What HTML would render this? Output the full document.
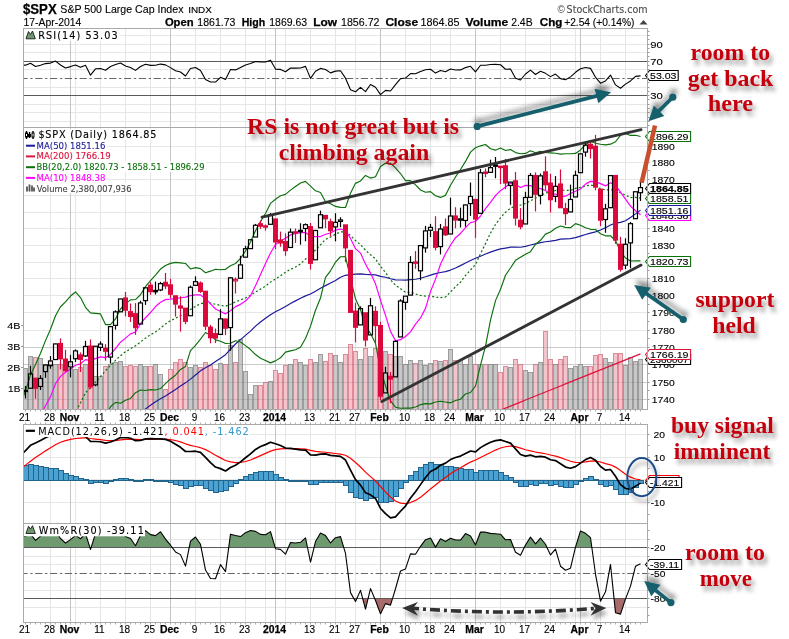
<!DOCTYPE html>
<html><head><meta charset="utf-8"><title>$SPX chart</title>
<style>html,body{margin:0;padding:0;background:#fff;width:789px;height:639px;overflow:hidden}</style>
</head><body>
<svg width="789" height="639" viewBox="0 0 789 639" style="display:block;will-change:transform">
<defs>
<filter id="tsh" x="-10%" y="-30%" width="130%" height="180%"><feGaussianBlur in="SourceAlpha" stdDeviation="2.2"/><feOffset dx="3" dy="4.5" result="b"/><feFlood flood-color="#000" flood-opacity="0.36"/><feComposite in2="b" operator="in"/><feMerge><feMergeNode/><feMergeNode in="SourceGraphic"/></feMerge></filter>
<filter id="ash" x="-30%" y="-60%" width="160%" height="220%"><feGaussianBlur in="SourceAlpha" stdDeviation="2.8"/><feOffset dx="1" dy="-5.5" result="b"/><feFlood flood-color="#000" flood-opacity="0.42"/><feComposite in2="b" operator="in"/><feMerge><feMergeNode/><feMergeNode in="SourceGraphic"/></feMerge></filter>
<filter id="dsh" x="-10%" y="-100%" width="120%" height="300%"><feGaussianBlur in="SourceAlpha" stdDeviation="2"/><feOffset dx="2" dy="5" result="b"/><feFlood flood-color="#000" flood-opacity="0.35"/><feComposite in2="b" operator="in"/><feMerge><feMergeNode/><feMergeNode in="SourceGraphic"/></feMerge></filter>
<clipPath id="cpR"><rect x="24" y="29" width="623" height="98"/></clipPath>
<clipPath id="cpM"><rect x="24" y="128" width="623" height="281"/></clipPath>
<clipPath id="cpD"><rect x="24" y="425" width="623" height="98"/></clipPath>
<clipPath id="cpW"><rect x="24" y="524" width="623" height="98"/></clipPath>
</defs>
<rect width="789" height="639" fill="#fff"/>
<text x="23" y="13.7" font-family="'Liberation Sans',Arial,sans-serif" font-size="14" font-weight="bold" fill="#000" stroke="#000" stroke-width="0.25" textLength="33.7" lengthAdjust="spacingAndGlyphs">$SPX</text>
<text x="60.3" y="12.5" font-family="'Liberation Sans',Arial,sans-serif" font-size="11.2" fill="#000" stroke="#000" stroke-width="0.12" textLength="123.2" lengthAdjust="spacingAndGlyphs">S&amp;P 500 Large Cap Index</text>
<text x="188.2" y="12.5" font-family="'Liberation Sans',Arial,sans-serif" font-size="8.4" fill="#000" stroke="#000" stroke-width="0.12" textLength="23.7" lengthAdjust="spacingAndGlyphs">INDX</text>
<text x="23.5" y="25.8" font-family="'Liberation Sans',Arial,sans-serif" font-size="10.3" fill="#000" stroke="#000" stroke-width="0.12" textLength="57.8" lengthAdjust="spacingAndGlyphs">17-Apr-2014</text>
<text x="164.9" y="25.9" font-family="'Liberation Sans',Arial,sans-serif" font-size="10.6" font-weight="bold" fill="#000" stroke="#000" stroke-width="0.25" textLength="28.7" lengthAdjust="spacingAndGlyphs">Open</text>
<text x="197.3" y="25.9" font-family="'Liberation Sans',Arial,sans-serif" font-size="10.6" fill="#000" stroke="#000" stroke-width="0.12" textLength="38.1" lengthAdjust="spacingAndGlyphs">1861.73</text>
<text x="241.7" y="25.9" font-family="'Liberation Sans',Arial,sans-serif" font-size="10.6" font-weight="bold" fill="#000" stroke="#000" stroke-width="0.25" textLength="23.5" lengthAdjust="spacingAndGlyphs">High</text>
<text x="269.3" y="25.9" font-family="'Liberation Sans',Arial,sans-serif" font-size="10.6" fill="#000" stroke="#000" stroke-width="0.12" textLength="37.8" lengthAdjust="spacingAndGlyphs">1869.63</text>
<text x="313.2" y="25.9" font-family="'Liberation Sans',Arial,sans-serif" font-size="10.6" font-weight="bold" fill="#000" stroke="#000" stroke-width="0.25" textLength="23.8" lengthAdjust="spacingAndGlyphs">Low</text>
<text x="341" y="25.9" font-family="'Liberation Sans',Arial,sans-serif" font-size="10.6" fill="#000" stroke="#000" stroke-width="0.12" textLength="38.5" lengthAdjust="spacingAndGlyphs">1856.72</text>
<text x="385.4" y="25.9" font-family="'Liberation Sans',Arial,sans-serif" font-size="10.6" font-weight="bold" fill="#000" stroke="#000" stroke-width="0.25" textLength="32.7" lengthAdjust="spacingAndGlyphs">Close</text>
<text x="420.6" y="25.9" font-family="'Liberation Sans',Arial,sans-serif" font-size="10.6" fill="#000" stroke="#000" stroke-width="0.12" textLength="39" lengthAdjust="spacingAndGlyphs">1864.85</text>
<text x="465.6" y="25.9" font-family="'Liberation Sans',Arial,sans-serif" font-size="10.6" font-weight="bold" fill="#000" stroke="#000" stroke-width="0.25" textLength="42.7" lengthAdjust="spacingAndGlyphs">Volume</text>
<text x="511.2" y="25.9" font-family="'Liberation Sans',Arial,sans-serif" font-size="10.6" fill="#000" stroke="#000" stroke-width="0.12" textLength="21.4" lengthAdjust="spacingAndGlyphs">2.4B</text>
<text x="539.8" y="25.9" font-family="'Liberation Sans',Arial,sans-serif" font-size="10.6" font-weight="bold" fill="#000" stroke="#000" stroke-width="0.25" textLength="22.6" lengthAdjust="spacingAndGlyphs">Chg</text>
<text x="564.2" y="25.9" font-family="'Liberation Sans',Arial,sans-serif" font-size="10.6" fill="#000" stroke="#000" stroke-width="0.12" textLength="70.3" lengthAdjust="spacingAndGlyphs">+2.54 (+0.14%)</text>
<polygon points="639.5,24.5 647.5,24.5 643.5,20" fill="#444"/>
<text x="557.5" y="12.7" font-family="'Liberation Sans',Arial,sans-serif" font-size="10" fill="#4a4a4a">©</text>
<text x="566.6" y="12.7" font-family="'DejaVu Sans','Liberation Sans',sans-serif" font-size="10.2" fill="#4a4a4a" stroke="#4a4a4a" stroke-width="0.12" textLength="80.9" lengthAdjust="spacingAndGlyphs">StockCharts.com</text>
<line x1="23.5" y1="121.5" x2="647.5" y2="121.5" stroke="#e6e6e6" stroke-width="1"/>
<line x1="23.5" y1="112.5" x2="647.5" y2="112.5" stroke="#e6e6e6" stroke-width="1"/>
<line x1="23.5" y1="104.5" x2="647.5" y2="104.5" stroke="#e6e6e6" stroke-width="1"/>
<line x1="23.5" y1="87.5" x2="647.5" y2="87.5" stroke="#e6e6e6" stroke-width="1"/>
<line x1="23.5" y1="69.5" x2="647.5" y2="69.5" stroke="#e6e6e6" stroke-width="1"/>
<line x1="23.5" y1="52.5" x2="647.5" y2="52.5" stroke="#e6e6e6" stroke-width="1"/>
<line x1="23.5" y1="44.5" x2="647.5" y2="44.5" stroke="#e6e6e6" stroke-width="1"/>
<line x1="23.5" y1="35.5" x2="647.5" y2="35.5" stroke="#e6e6e6" stroke-width="1"/>
<line x1="50.5" y1="28.5" x2="50.5" y2="127.5" stroke="#e6e6e6" stroke-width="1"/>
<line x1="75.5" y1="28.5" x2="75.5" y2="127.5" stroke="#e6e6e6" stroke-width="1"/>
<line x1="100.5" y1="28.5" x2="100.5" y2="127.5" stroke="#e6e6e6" stroke-width="1"/>
<line x1="125.5" y1="28.5" x2="125.5" y2="127.5" stroke="#e6e6e6" stroke-width="1"/>
<line x1="150.5" y1="28.5" x2="150.5" y2="127.5" stroke="#e6e6e6" stroke-width="1"/>
<line x1="195.5" y1="28.5" x2="195.5" y2="127.5" stroke="#e6e6e6" stroke-width="1"/>
<line x1="220.5" y1="28.5" x2="220.5" y2="127.5" stroke="#e6e6e6" stroke-width="1"/>
<line x1="245.5" y1="28.5" x2="245.5" y2="127.5" stroke="#e6e6e6" stroke-width="1"/>
<line x1="265.5" y1="28.5" x2="265.5" y2="127.5" stroke="#e6e6e6" stroke-width="1"/>
<line x1="285.5" y1="28.5" x2="285.5" y2="127.5" stroke="#e6e6e6" stroke-width="1"/>
<line x1="310.5" y1="28.5" x2="310.5" y2="127.5" stroke="#e6e6e6" stroke-width="1"/>
<line x1="335.5" y1="28.5" x2="335.5" y2="127.5" stroke="#e6e6e6" stroke-width="1"/>
<line x1="355.5" y1="28.5" x2="355.5" y2="127.5" stroke="#e6e6e6" stroke-width="1"/>
<line x1="405.5" y1="28.5" x2="405.5" y2="127.5" stroke="#e6e6e6" stroke-width="1"/>
<line x1="430.5" y1="28.5" x2="430.5" y2="127.5" stroke="#e6e6e6" stroke-width="1"/>
<line x1="450.5" y1="28.5" x2="450.5" y2="127.5" stroke="#e6e6e6" stroke-width="1"/>
<line x1="500.5" y1="28.5" x2="500.5" y2="127.5" stroke="#e6e6e6" stroke-width="1"/>
<line x1="525.5" y1="28.5" x2="525.5" y2="127.5" stroke="#e6e6e6" stroke-width="1"/>
<line x1="550.5" y1="28.5" x2="550.5" y2="127.5" stroke="#e6e6e6" stroke-width="1"/>
<line x1="575.5" y1="28.5" x2="575.5" y2="127.5" stroke="#e6e6e6" stroke-width="1"/>
<line x1="600.5" y1="28.5" x2="600.5" y2="127.5" stroke="#e6e6e6" stroke-width="1"/>
<line x1="625.5" y1="28.5" x2="625.5" y2="127.5" stroke="#e6e6e6" stroke-width="1"/>
<line x1="70.5" y1="28.5" x2="70.5" y2="127.5" stroke="#c4c4c4" stroke-width="1"/>
<line x1="170.5" y1="28.5" x2="170.5" y2="127.5" stroke="#c4c4c4" stroke-width="1"/>
<line x1="275.5" y1="28.5" x2="275.5" y2="127.5" stroke="#c4c4c4" stroke-width="1"/>
<line x1="380.5" y1="28.5" x2="380.5" y2="127.5" stroke="#c4c4c4" stroke-width="1"/>
<line x1="475.5" y1="28.5" x2="475.5" y2="127.5" stroke="#c4c4c4" stroke-width="1"/>
<line x1="580.5" y1="28.5" x2="580.5" y2="127.5" stroke="#c4c4c4" stroke-width="1"/>
<line x1="23.5" y1="61.5" x2="647.5" y2="61.5" stroke="#5a5a5a" stroke-width="1"/>
<line x1="23.5" y1="95.5" x2="647.5" y2="95.5" stroke="#5a5a5a" stroke-width="1"/>
<line x1="23.5" y1="78.5" x2="647.5" y2="78.5" stroke="#666" stroke-width="1" stroke-dasharray="7.2,2.7,2.3,2.6" stroke-dashoffset="3.1"/>
<g clip-path="url(#cpR)">
<polyline points="20.5,65.17 25.5,65.14 30.5,63.19 35.5,66.42 40.5,65.2 45.5,63.59 50.5,63.1 55.5,61.07 60.5,64.98 65.5,67.91 70.5,66.6 75.5,65.01 80.5,67.35 85.5,65.33 90.5,75.13 95.5,68.82 100.5,68.51 105.5,70.19 110.5,66.57 115.5,64.6 120.5,62.96 125.5,65.93 130.5,67.55 135.5,70.39 140.5,66.46 145.5,64.31 150.5,65.38 155.5,65.31 160.5,64.09 165.5,64.88 170.5,67.64 175.5,70.76 180.5,72.01 185.5,76.04 190.5,68.55 195.5,67.51 200.5,70.54 205.5,79.52 210.5,81.99 215.5,82.06 220.5,77.29 225.5,79.57 230.5,69.46 235.5,69.91 240.5,67.43 245.5,64.91 250.5,63.58 255.5,61.53 260.5,61.86 265.5,62.05 270.5,60.18 275.5,69.1 280.5,69.41 285.5,71.75 290.5,67.94 295.5,68.16 300.5,67.93 305.5,66.4 310.5,78.35 315.5,71.24 320.5,68.4 325.5,69.56 330.5,72.87 335.5,71.13 340.5,70.77 345.5,78.18 350.5,89.79 355.5,91.75 360.5,87.41 365.5,91.56 370.5,84.52 375.5,87.2 380.5,94.59 385.5,90.41 390.5,91.03 395.5,84.58 400.5,78.72 405.5,78.07 410.5,73.67 415.5,73.8 420.5,71.52 425.5,69.69 430.5,69.25 435.5,73.08 440.5,70.53 445.5,71.69 450.5,69.04 455.5,69.93 460.5,69.92 465.5,67.6 470.5,66.33 475.5,71.92 480.5,65.24 485.5,65.28 490.5,64.57 495.5,64.34 500.5,64.76 505.5,69.26 510.5,69.09 515.5,78.17 520.5,80.02 525.5,74.01 530.5,70.18 535.5,74.47 540.5,71.31 545.5,73.36 550.5,76.63 555.5,74.08 560.5,78.64 565.5,79.8 570.5,76.85 575.5,72.32 580.5,68.8 585.5,67.45 590.5,68.37 595.5,77.29 600.5,83.16 605.5,80.91 610.5,75.05 615.5,84.88 620.5,88.24 625.5,84.1 630.5,80.92 635.5,76.41 640.5,75.84" fill="none" stroke="#000" stroke-width="1.1" stroke-linejoin="round"/>
</g>
<rect x="24" y="29" width="96" height="12" fill="#fff"/>
<path d="M26 38.8 L28.5 31.5 L30.5 34.5 L32.5 31 L35.3 38.8 Z" fill="#6f9a6f" stroke="#1a1a1a" stroke-width="0.9" stroke-linejoin="round"/>
<text x="38.2" y="38.9" font-family="'DejaVu Sans','Liberation Sans',sans-serif" font-size="9.7" fill="#000" stroke="#000" stroke-width="0.12" textLength="79.4" lengthAdjust="spacing">RSI(14) 53.03</text>
<text x="650.3" y="47.8" font-family="'Liberation Sans',Arial,sans-serif" font-size="9.7" fill="#000" stroke="#000" stroke-width="0.12" textLength="12.5" lengthAdjust="spacingAndGlyphs">90</text>
<text x="650.3" y="64.8" font-family="'Liberation Sans',Arial,sans-serif" font-size="9.7" fill="#000" stroke="#000" stroke-width="0.12" textLength="12.5" lengthAdjust="spacingAndGlyphs">70</text>
<text x="650.3" y="98.8" font-family="'Liberation Sans',Arial,sans-serif" font-size="9.7" fill="#000" stroke="#000" stroke-width="0.12" textLength="12.5" lengthAdjust="spacingAndGlyphs">30</text>
<line x1="647.5" y1="125.5" x2="649.5" y2="125.5" stroke="#999"/>
<line x1="647.5" y1="121.5" x2="649.5" y2="121.5" stroke="#999"/>
<line x1="647.5" y1="117.5" x2="649.5" y2="117.5" stroke="#999"/>
<line x1="647.5" y1="112.5" x2="649.5" y2="112.5" stroke="#999"/>
<line x1="647.5" y1="108.5" x2="649.5" y2="108.5" stroke="#999"/>
<line x1="647.5" y1="104.5" x2="649.5" y2="104.5" stroke="#999"/>
<line x1="647.5" y1="99.5" x2="649.5" y2="99.5" stroke="#999"/>
<line x1="647.5" y1="95.5" x2="649.5" y2="95.5" stroke="#999"/>
<line x1="647.5" y1="91.5" x2="649.5" y2="91.5" stroke="#999"/>
<line x1="647.5" y1="87.5" x2="649.5" y2="87.5" stroke="#999"/>
<line x1="647.5" y1="82.5" x2="649.5" y2="82.5" stroke="#999"/>
<line x1="647.5" y1="78.5" x2="649.5" y2="78.5" stroke="#999"/>
<line x1="647.5" y1="74.5" x2="649.5" y2="74.5" stroke="#999"/>
<line x1="647.5" y1="69.5" x2="649.5" y2="69.5" stroke="#999"/>
<line x1="647.5" y1="65.5" x2="649.5" y2="65.5" stroke="#999"/>
<line x1="647.5" y1="61.5" x2="649.5" y2="61.5" stroke="#999"/>
<line x1="647.5" y1="56.5" x2="649.5" y2="56.5" stroke="#999"/>
<line x1="647.5" y1="52.5" x2="649.5" y2="52.5" stroke="#999"/>
<line x1="647.5" y1="48.5" x2="649.5" y2="48.5" stroke="#999"/>
<line x1="647.5" y1="44.5" x2="649.5" y2="44.5" stroke="#999"/>
<line x1="647.5" y1="39.5" x2="649.5" y2="39.5" stroke="#999"/>
<line x1="647.5" y1="35.5" x2="649.5" y2="35.5" stroke="#999"/>
<line x1="647.5" y1="31.5" x2="649.5" y2="31.5" stroke="#999"/>
<path d="M645.5 75.5 L649.5 70.5 H678.2 V80.5 H649.5 Z" fill="#fff" stroke="#000" stroke-width="1.1"/>
<text x="650" y="78.8" font-family="'Liberation Sans',Arial,sans-serif" font-size="9.3" fill="#000" stroke="#000" stroke-width="0.12" textLength="26.5" lengthAdjust="spacingAndGlyphs">53.03</text>
<line x1="23.5" y1="399.5" x2="647.5" y2="399.5" stroke="#e6e6e6" stroke-width="1"/>
<line x1="23.5" y1="382.5" x2="647.5" y2="382.5" stroke="#e6e6e6" stroke-width="1"/>
<line x1="23.5" y1="364.5" x2="647.5" y2="364.5" stroke="#e6e6e6" stroke-width="1"/>
<line x1="23.5" y1="347.5" x2="647.5" y2="347.5" stroke="#e6e6e6" stroke-width="1"/>
<line x1="23.5" y1="330.5" x2="647.5" y2="330.5" stroke="#e6e6e6" stroke-width="1"/>
<line x1="23.5" y1="312.5" x2="647.5" y2="312.5" stroke="#e6e6e6" stroke-width="1"/>
<line x1="23.5" y1="295.5" x2="647.5" y2="295.5" stroke="#e6e6e6" stroke-width="1"/>
<line x1="23.5" y1="278.5" x2="647.5" y2="278.5" stroke="#e6e6e6" stroke-width="1"/>
<line x1="23.5" y1="262.5" x2="647.5" y2="262.5" stroke="#e6e6e6" stroke-width="1"/>
<line x1="23.5" y1="245.5" x2="647.5" y2="245.5" stroke="#e6e6e6" stroke-width="1"/>
<line x1="23.5" y1="228.5" x2="647.5" y2="228.5" stroke="#e6e6e6" stroke-width="1"/>
<line x1="23.5" y1="212.5" x2="647.5" y2="212.5" stroke="#e6e6e6" stroke-width="1"/>
<line x1="23.5" y1="195.5" x2="647.5" y2="195.5" stroke="#e6e6e6" stroke-width="1"/>
<line x1="23.5" y1="179.5" x2="647.5" y2="179.5" stroke="#e6e6e6" stroke-width="1"/>
<line x1="23.5" y1="162.5" x2="647.5" y2="162.5" stroke="#e6e6e6" stroke-width="1"/>
<line x1="23.5" y1="146.5" x2="647.5" y2="146.5" stroke="#e6e6e6" stroke-width="1"/>
<line x1="50.5" y1="127.5" x2="50.5" y2="409.5" stroke="#e6e6e6" stroke-width="1"/>
<line x1="75.5" y1="127.5" x2="75.5" y2="409.5" stroke="#e6e6e6" stroke-width="1"/>
<line x1="100.5" y1="127.5" x2="100.5" y2="409.5" stroke="#e6e6e6" stroke-width="1"/>
<line x1="125.5" y1="127.5" x2="125.5" y2="409.5" stroke="#e6e6e6" stroke-width="1"/>
<line x1="150.5" y1="127.5" x2="150.5" y2="409.5" stroke="#e6e6e6" stroke-width="1"/>
<line x1="195.5" y1="127.5" x2="195.5" y2="409.5" stroke="#e6e6e6" stroke-width="1"/>
<line x1="220.5" y1="127.5" x2="220.5" y2="409.5" stroke="#e6e6e6" stroke-width="1"/>
<line x1="245.5" y1="127.5" x2="245.5" y2="409.5" stroke="#e6e6e6" stroke-width="1"/>
<line x1="265.5" y1="127.5" x2="265.5" y2="409.5" stroke="#e6e6e6" stroke-width="1"/>
<line x1="285.5" y1="127.5" x2="285.5" y2="409.5" stroke="#e6e6e6" stroke-width="1"/>
<line x1="310.5" y1="127.5" x2="310.5" y2="409.5" stroke="#e6e6e6" stroke-width="1"/>
<line x1="335.5" y1="127.5" x2="335.5" y2="409.5" stroke="#e6e6e6" stroke-width="1"/>
<line x1="355.5" y1="127.5" x2="355.5" y2="409.5" stroke="#e6e6e6" stroke-width="1"/>
<line x1="405.5" y1="127.5" x2="405.5" y2="409.5" stroke="#e6e6e6" stroke-width="1"/>
<line x1="430.5" y1="127.5" x2="430.5" y2="409.5" stroke="#e6e6e6" stroke-width="1"/>
<line x1="450.5" y1="127.5" x2="450.5" y2="409.5" stroke="#e6e6e6" stroke-width="1"/>
<line x1="500.5" y1="127.5" x2="500.5" y2="409.5" stroke="#e6e6e6" stroke-width="1"/>
<line x1="525.5" y1="127.5" x2="525.5" y2="409.5" stroke="#e6e6e6" stroke-width="1"/>
<line x1="550.5" y1="127.5" x2="550.5" y2="409.5" stroke="#e6e6e6" stroke-width="1"/>
<line x1="575.5" y1="127.5" x2="575.5" y2="409.5" stroke="#e6e6e6" stroke-width="1"/>
<line x1="600.5" y1="127.5" x2="600.5" y2="409.5" stroke="#e6e6e6" stroke-width="1"/>
<line x1="625.5" y1="127.5" x2="625.5" y2="409.5" stroke="#e6e6e6" stroke-width="1"/>
<line x1="70.5" y1="127.5" x2="70.5" y2="409.5" stroke="#c4c4c4" stroke-width="1"/>
<line x1="170.5" y1="127.5" x2="170.5" y2="409.5" stroke="#c4c4c4" stroke-width="1"/>
<line x1="275.5" y1="127.5" x2="275.5" y2="409.5" stroke="#c4c4c4" stroke-width="1"/>
<line x1="380.5" y1="127.5" x2="380.5" y2="409.5" stroke="#c4c4c4" stroke-width="1"/>
<line x1="475.5" y1="127.5" x2="475.5" y2="409.5" stroke="#c4c4c4" stroke-width="1"/>
<line x1="580.5" y1="127.5" x2="580.5" y2="409.5" stroke="#c4c4c4" stroke-width="1"/>
<g clip-path="url(#cpM)">
<rect x="23.5" y="368.5" width="4" height="41" fill="#c8c8c8" stroke="#9c9c9c" stroke-width="1"/>
<rect x="28.5" y="356.5" width="4" height="53" fill="#c8c8c8" stroke="#9c9c9c" stroke-width="1"/>
<rect x="33.5" y="357.5" width="4" height="52" fill="#f3c4cc" stroke="#df8a98" stroke-width="1"/>
<rect x="38.5" y="358.5" width="4" height="51" fill="#c8c8c8" stroke="#9c9c9c" stroke-width="1"/>
<rect x="43.5" y="364.5" width="4" height="45" fill="#c8c8c8" stroke="#9c9c9c" stroke-width="1"/>
<rect x="48.5" y="364.5" width="4" height="45" fill="#c8c8c8" stroke="#9c9c9c" stroke-width="1"/>
<rect x="53.5" y="364.5" width="4" height="45" fill="#c8c8c8" stroke="#9c9c9c" stroke-width="1"/>
<rect x="58.5" y="364.5" width="4" height="45" fill="#f3c4cc" stroke="#df8a98" stroke-width="1"/>
<rect x="63.5" y="364.5" width="4" height="45" fill="#f3c4cc" stroke="#df8a98" stroke-width="1"/>
<rect x="68.5" y="368.5" width="4" height="41" fill="#c8c8c8" stroke="#9c9c9c" stroke-width="1"/>
<rect x="73.5" y="369.5" width="4" height="40" fill="#c8c8c8" stroke="#9c9c9c" stroke-width="1"/>
<rect x="78.5" y="367.5" width="4" height="42" fill="#f3c4cc" stroke="#df8a98" stroke-width="1"/>
<rect x="83.5" y="364.5" width="4" height="45" fill="#c8c8c8" stroke="#9c9c9c" stroke-width="1"/>
<rect x="88.5" y="364.5" width="4" height="45" fill="#f3c4cc" stroke="#df8a98" stroke-width="1"/>
<rect x="93.5" y="376.5" width="4" height="33" fill="#c8c8c8" stroke="#9c9c9c" stroke-width="1"/>
<rect x="98.5" y="376.5" width="4" height="33" fill="#c8c8c8" stroke="#9c9c9c" stroke-width="1"/>
<rect x="103.5" y="366.5" width="4" height="43" fill="#f3c4cc" stroke="#df8a98" stroke-width="1"/>
<rect x="108.5" y="364.5" width="4" height="45" fill="#c8c8c8" stroke="#9c9c9c" stroke-width="1"/>
<rect x="113.5" y="362.5" width="4" height="47" fill="#c8c8c8" stroke="#9c9c9c" stroke-width="1"/>
<rect x="118.5" y="361.5" width="4" height="48" fill="#c8c8c8" stroke="#9c9c9c" stroke-width="1"/>
<rect x="123.5" y="366.5" width="4" height="43" fill="#f3c4cc" stroke="#df8a98" stroke-width="1"/>
<rect x="128.5" y="365.5" width="4" height="44" fill="#f3c4cc" stroke="#df8a98" stroke-width="1"/>
<rect x="133.5" y="366.5" width="4" height="43" fill="#f3c4cc" stroke="#df8a98" stroke-width="1"/>
<rect x="138.5" y="364.5" width="4" height="45" fill="#c8c8c8" stroke="#9c9c9c" stroke-width="1"/>
<rect x="143.5" y="366.5" width="4" height="43" fill="#c8c8c8" stroke="#9c9c9c" stroke-width="1"/>
<rect x="148.5" y="366.5" width="4" height="43" fill="#f3c4cc" stroke="#df8a98" stroke-width="1"/>
<rect x="153.5" y="364.5" width="4" height="45" fill="#c8c8c8" stroke="#9c9c9c" stroke-width="1"/>
<rect x="158.5" y="374.5" width="4" height="35" fill="#c8c8c8" stroke="#9c9c9c" stroke-width="1"/>
<rect x="163.5" y="389.5" width="4" height="20" fill="#f3c4cc" stroke="#df8a98" stroke-width="1"/>
<rect x="168.5" y="369.5" width="4" height="40" fill="#f3c4cc" stroke="#df8a98" stroke-width="1"/>
<rect x="173.5" y="362.5" width="4" height="47" fill="#f3c4cc" stroke="#df8a98" stroke-width="1"/>
<rect x="178.5" y="359.5" width="4" height="50" fill="#f3c4cc" stroke="#df8a98" stroke-width="1"/>
<rect x="183.5" y="362.5" width="4" height="47" fill="#f3c4cc" stroke="#df8a98" stroke-width="1"/>
<rect x="188.5" y="367.5" width="4" height="42" fill="#c8c8c8" stroke="#9c9c9c" stroke-width="1"/>
<rect x="193.5" y="365.5" width="4" height="44" fill="#c8c8c8" stroke="#9c9c9c" stroke-width="1"/>
<rect x="198.5" y="367.5" width="4" height="42" fill="#f3c4cc" stroke="#df8a98" stroke-width="1"/>
<rect x="203.5" y="362.5" width="4" height="47" fill="#f3c4cc" stroke="#df8a98" stroke-width="1"/>
<rect x="208.5" y="365.5" width="4" height="44" fill="#f3c4cc" stroke="#df8a98" stroke-width="1"/>
<rect x="213.5" y="369.5" width="4" height="40" fill="#f3c4cc" stroke="#df8a98" stroke-width="1"/>
<rect x="218.5" y="363.5" width="4" height="46" fill="#c8c8c8" stroke="#9c9c9c" stroke-width="1"/>
<rect x="223.5" y="364.5" width="4" height="45" fill="#f3c4cc" stroke="#df8a98" stroke-width="1"/>
<rect x="228.5" y="345.5" width="4" height="64" fill="#c8c8c8" stroke="#9c9c9c" stroke-width="1"/>
<rect x="233.5" y="362.5" width="4" height="47" fill="#f3c4cc" stroke="#df8a98" stroke-width="1"/>
<rect x="238.5" y="339.5" width="4" height="70" fill="#c8c8c8" stroke="#9c9c9c" stroke-width="1"/>
<rect x="243.5" y="371.5" width="4" height="38" fill="#c8c8c8" stroke="#9c9c9c" stroke-width="1"/>
<rect x="248.5" y="394.5" width="4" height="15" fill="#c8c8c8" stroke="#9c9c9c" stroke-width="1"/>
<rect x="253.5" y="385.5" width="4" height="24" fill="#c8c8c8" stroke="#9c9c9c" stroke-width="1"/>
<rect x="258.5" y="385.5" width="4" height="24" fill="#f3c4cc" stroke="#df8a98" stroke-width="1"/>
<rect x="263.5" y="382.5" width="4" height="27" fill="#f3c4cc" stroke="#df8a98" stroke-width="1"/>
<rect x="268.5" y="381.5" width="4" height="28" fill="#c8c8c8" stroke="#9c9c9c" stroke-width="1"/>
<rect x="273.5" y="370.5" width="4" height="39" fill="#f3c4cc" stroke="#df8a98" stroke-width="1"/>
<rect x="278.5" y="373.5" width="4" height="36" fill="#f3c4cc" stroke="#df8a98" stroke-width="1"/>
<rect x="283.5" y="365.5" width="4" height="44" fill="#f3c4cc" stroke="#df8a98" stroke-width="1"/>
<rect x="288.5" y="364.5" width="4" height="45" fill="#c8c8c8" stroke="#9c9c9c" stroke-width="1"/>
<rect x="293.5" y="359.5" width="4" height="50" fill="#f3c4cc" stroke="#df8a98" stroke-width="1"/>
<rect x="298.5" y="362.5" width="4" height="47" fill="#c8c8c8" stroke="#9c9c9c" stroke-width="1"/>
<rect x="303.5" y="365.5" width="4" height="44" fill="#c8c8c8" stroke="#9c9c9c" stroke-width="1"/>
<rect x="308.5" y="359.5" width="4" height="50" fill="#f3c4cc" stroke="#df8a98" stroke-width="1"/>
<rect x="313.5" y="362.5" width="4" height="47" fill="#c8c8c8" stroke="#9c9c9c" stroke-width="1"/>
<rect x="318.5" y="354.5" width="4" height="55" fill="#c8c8c8" stroke="#9c9c9c" stroke-width="1"/>
<rect x="323.5" y="361.5" width="4" height="48" fill="#f3c4cc" stroke="#df8a98" stroke-width="1"/>
<rect x="328.5" y="353.5" width="4" height="56" fill="#f3c4cc" stroke="#df8a98" stroke-width="1"/>
<rect x="333.5" y="355.5" width="4" height="54" fill="#c8c8c8" stroke="#9c9c9c" stroke-width="1"/>
<rect x="338.5" y="362.5" width="4" height="47" fill="#c8c8c8" stroke="#9c9c9c" stroke-width="1"/>
<rect x="343.5" y="354.5" width="4" height="55" fill="#f3c4cc" stroke="#df8a98" stroke-width="1"/>
<rect x="348.5" y="344.5" width="4" height="65" fill="#f3c4cc" stroke="#df8a98" stroke-width="1"/>
<rect x="353.5" y="351.5" width="4" height="58" fill="#f3c4cc" stroke="#df8a98" stroke-width="1"/>
<rect x="358.5" y="359.5" width="4" height="50" fill="#c8c8c8" stroke="#9c9c9c" stroke-width="1"/>
<rect x="363.5" y="348.5" width="4" height="61" fill="#f3c4cc" stroke="#df8a98" stroke-width="1"/>
<rect x="368.5" y="356.5" width="4" height="53" fill="#c8c8c8" stroke="#9c9c9c" stroke-width="1"/>
<rect x="373.5" y="348.5" width="4" height="61" fill="#f3c4cc" stroke="#df8a98" stroke-width="1"/>
<rect x="378.5" y="339.5" width="4" height="70" fill="#f3c4cc" stroke="#df8a98" stroke-width="1"/>
<rect x="383.5" y="351.5" width="4" height="58" fill="#c8c8c8" stroke="#9c9c9c" stroke-width="1"/>
<rect x="388.5" y="354.5" width="4" height="55" fill="#f3c4cc" stroke="#df8a98" stroke-width="1"/>
<rect x="393.5" y="356.5" width="4" height="53" fill="#c8c8c8" stroke="#9c9c9c" stroke-width="1"/>
<rect x="398.5" y="356.5" width="4" height="53" fill="#c8c8c8" stroke="#9c9c9c" stroke-width="1"/>
<rect x="403.5" y="364.5" width="4" height="45" fill="#c8c8c8" stroke="#9c9c9c" stroke-width="1"/>
<rect x="408.5" y="360.5" width="4" height="49" fill="#c8c8c8" stroke="#9c9c9c" stroke-width="1"/>
<rect x="413.5" y="363.5" width="4" height="46" fill="#f3c4cc" stroke="#df8a98" stroke-width="1"/>
<rect x="418.5" y="360.5" width="4" height="49" fill="#c8c8c8" stroke="#9c9c9c" stroke-width="1"/>
<rect x="423.5" y="365.5" width="4" height="44" fill="#c8c8c8" stroke="#9c9c9c" stroke-width="1"/>
<rect x="428.5" y="363.5" width="4" height="46" fill="#c8c8c8" stroke="#9c9c9c" stroke-width="1"/>
<rect x="433.5" y="360.5" width="4" height="49" fill="#f3c4cc" stroke="#df8a98" stroke-width="1"/>
<rect x="438.5" y="361.5" width="4" height="48" fill="#c8c8c8" stroke="#9c9c9c" stroke-width="1"/>
<rect x="443.5" y="360.5" width="4" height="49" fill="#f3c4cc" stroke="#df8a98" stroke-width="1"/>
<rect x="448.5" y="349.5" width="4" height="60" fill="#c8c8c8" stroke="#9c9c9c" stroke-width="1"/>
<rect x="453.5" y="360.5" width="4" height="49" fill="#f3c4cc" stroke="#df8a98" stroke-width="1"/>
<rect x="458.5" y="360.5" width="4" height="49" fill="#c8c8c8" stroke="#9c9c9c" stroke-width="1"/>
<rect x="463.5" y="364.5" width="4" height="45" fill="#c8c8c8" stroke="#9c9c9c" stroke-width="1"/>
<rect x="468.5" y="356.5" width="4" height="53" fill="#c8c8c8" stroke="#9c9c9c" stroke-width="1"/>
<rect x="473.5" y="364.5" width="4" height="45" fill="#f3c4cc" stroke="#df8a98" stroke-width="1"/>
<rect x="478.5" y="364.5" width="4" height="45" fill="#c8c8c8" stroke="#9c9c9c" stroke-width="1"/>
<rect x="483.5" y="364.5" width="4" height="45" fill="#f3c4cc" stroke="#df8a98" stroke-width="1"/>
<rect x="488.5" y="364.5" width="4" height="45" fill="#c8c8c8" stroke="#9c9c9c" stroke-width="1"/>
<rect x="493.5" y="364.5" width="4" height="45" fill="#c8c8c8" stroke="#9c9c9c" stroke-width="1"/>
<rect x="498.5" y="372.5" width="4" height="37" fill="#f3c4cc" stroke="#df8a98" stroke-width="1"/>
<rect x="503.5" y="366.5" width="4" height="43" fill="#f3c4cc" stroke="#df8a98" stroke-width="1"/>
<rect x="508.5" y="367.5" width="4" height="42" fill="#c8c8c8" stroke="#9c9c9c" stroke-width="1"/>
<rect x="513.5" y="359.5" width="4" height="50" fill="#f3c4cc" stroke="#df8a98" stroke-width="1"/>
<rect x="518.5" y="364.5" width="4" height="45" fill="#f3c4cc" stroke="#df8a98" stroke-width="1"/>
<rect x="523.5" y="370.5" width="4" height="39" fill="#c8c8c8" stroke="#9c9c9c" stroke-width="1"/>
<rect x="528.5" y="372.5" width="4" height="37" fill="#c8c8c8" stroke="#9c9c9c" stroke-width="1"/>
<rect x="533.5" y="364.5" width="4" height="45" fill="#f3c4cc" stroke="#df8a98" stroke-width="1"/>
<rect x="538.5" y="362.5" width="4" height="47" fill="#c8c8c8" stroke="#9c9c9c" stroke-width="1"/>
<rect x="543.5" y="331.5" width="4" height="78" fill="#f3c4cc" stroke="#df8a98" stroke-width="1"/>
<rect x="548.5" y="359.5" width="4" height="50" fill="#f3c4cc" stroke="#df8a98" stroke-width="1"/>
<rect x="553.5" y="364.5" width="4" height="45" fill="#c8c8c8" stroke="#9c9c9c" stroke-width="1"/>
<rect x="558.5" y="359.5" width="4" height="50" fill="#f3c4cc" stroke="#df8a98" stroke-width="1"/>
<rect x="563.5" y="356.5" width="4" height="53" fill="#f3c4cc" stroke="#df8a98" stroke-width="1"/>
<rect x="568.5" y="368.5" width="4" height="41" fill="#c8c8c8" stroke="#9c9c9c" stroke-width="1"/>
<rect x="573.5" y="366.5" width="4" height="43" fill="#c8c8c8" stroke="#9c9c9c" stroke-width="1"/>
<rect x="578.5" y="364.5" width="4" height="45" fill="#c8c8c8" stroke="#9c9c9c" stroke-width="1"/>
<rect x="583.5" y="366.5" width="4" height="43" fill="#c8c8c8" stroke="#9c9c9c" stroke-width="1"/>
<rect x="588.5" y="366.5" width="4" height="43" fill="#f3c4cc" stroke="#df8a98" stroke-width="1"/>
<rect x="593.5" y="355.5" width="4" height="54" fill="#f3c4cc" stroke="#df8a98" stroke-width="1"/>
<rect x="598.5" y="354.5" width="4" height="55" fill="#f3c4cc" stroke="#df8a98" stroke-width="1"/>
<rect x="603.5" y="358.5" width="4" height="51" fill="#c8c8c8" stroke="#9c9c9c" stroke-width="1"/>
<rect x="608.5" y="362.5" width="4" height="47" fill="#c8c8c8" stroke="#9c9c9c" stroke-width="1"/>
<rect x="613.5" y="353.5" width="4" height="56" fill="#f3c4cc" stroke="#df8a98" stroke-width="1"/>
<rect x="618.5" y="353.5" width="4" height="56" fill="#f3c4cc" stroke="#df8a98" stroke-width="1"/>
<rect x="623.5" y="365.5" width="4" height="44" fill="#c8c8c8" stroke="#9c9c9c" stroke-width="1"/>
<rect x="628.5" y="357.5" width="4" height="52" fill="#c8c8c8" stroke="#9c9c9c" stroke-width="1"/>
<rect x="633.5" y="361.5" width="4" height="48" fill="#c8c8c8" stroke="#9c9c9c" stroke-width="1"/>
<rect x="638.5" y="359.5" width="4" height="50" fill="#c8c8c8" stroke="#9c9c9c" stroke-width="1"/>
<line x1="23.5" y1="399.5" x2="647.5" y2="399.5" stroke="rgba(110,110,110,0.22)" stroke-width="1"/>
<line x1="23.5" y1="382.5" x2="647.5" y2="382.5" stroke="rgba(110,110,110,0.22)" stroke-width="1"/>
<line x1="23.5" y1="364.5" x2="647.5" y2="364.5" stroke="rgba(110,110,110,0.22)" stroke-width="1"/>
<line x1="23.5" y1="347.5" x2="647.5" y2="347.5" stroke="rgba(110,110,110,0.22)" stroke-width="1"/>
<polyline points="20.5,611.47 25.5,609.3 30.5,607.14 35.5,604.97 40.5,602.81 45.5,600.65 50.5,598.49 55.5,596.33 60.5,594.18 65.5,592.02 70.5,589.87 75.5,587.72 80.5,585.57 85.5,583.42 90.5,581.28 95.5,579.13 100.5,576.99 105.5,574.85 110.5,572.7 115.5,570.57 120.5,568.43 125.5,566.29 130.5,564.16 135.5,562.02 140.5,559.89 145.5,557.76 150.5,555.63 155.5,553.51 160.5,551.38 165.5,549.26 170.5,547.13 175.5,545.01 180.5,542.89 185.5,540.77 190.5,538.66 195.5,536.54 200.5,534.43 205.5,532.32 210.5,530.2 215.5,528.09 220.5,525.99 225.5,523.88 230.5,521.77 235.5,519.67 240.5,517.57 245.5,515.47 250.5,513.37 255.5,511.27 260.5,509.17 265.5,507.08 270.5,504.98 275.5,502.89 280.5,500.8 285.5,498.71 290.5,496.62 295.5,494.54 300.5,492.45 305.5,490.37 310.5,488.29 315.5,486.21 320.5,484.13 325.5,482.05 330.5,479.97 335.5,477.9 340.5,475.82 345.5,473.75 350.5,471.68 355.5,469.61 360.5,467.54 365.5,465.47 370.5,463.41 375.5,461.34 380.5,459.28 385.5,457.22 390.5,455.16 395.5,453.1 400.5,451.04 405.5,448.99 410.5,446.93 415.5,444.88 420.5,442.83 425.5,440.78 430.5,438.73 435.5,436.68 440.5,434.64 445.5,432.59 450.5,430.55 455.5,428.51 460.5,426.47 465.5,424.43 470.5,422.39 475.5,420.35 480.5,418.32 485.5,416.28 490.5,414.25 495.5,412.22 500.5,410.19 505.5,408.16 510.5,406.13 515.5,404.11 520.5,402.08 525.5,400.06 530.5,398.04 535.5,396.02 540.5,394 545.5,391.98 550.5,389.97 555.5,387.95 560.5,385.94 565.5,383.92 570.5,381.91 575.5,379.9 580.5,377.89 585.5,375.89 590.5,373.88 595.5,371.88 600.5,369.87 605.5,367.87 610.5,365.87 615.5,363.87 620.5,361.87 625.5,359.88 630.5,357.88 635.5,355.89 640.5,353.89" fill="none" stroke="#dc143c" stroke-width="1.2" stroke-linejoin="round"/>
<polyline points="20.5,506.05 25.5,504.11 30.5,501.74 35.5,499.84 40.5,497.42 45.5,493.85 50.5,489.99 55.5,485.44 60.5,481.43 65.5,477.32 70.5,473.55 75.5,469.79 80.5,465.97 85.5,460.94 90.5,456.92 95.5,452.18 100.5,447.21 105.5,442.65 110.5,438.05 115.5,433.23 120.5,428.15 125.5,423.9 130.5,420.22 135.5,416.95 140.5,412.98 145.5,408.86 150.5,405.16 155.5,401.71 160.5,398.83 165.5,395.9 170.5,392.71 175.5,389.43 180.5,386.09 185.5,382.86 190.5,379.14 195.5,375.07 200.5,370.85 205.5,367.82 210.5,364.98 215.5,361.62 220.5,358.28 225.5,354.65 230.5,349.27 235.5,343.98 240.5,339.64 245.5,335.34 250.5,331.1 255.5,326.15 260.5,322.04 265.5,318.34 270.5,314.79 275.5,311.8 280.5,309.18 285.5,306.44 290.5,303.51 295.5,300.86 300.5,298.28 305.5,295.88 310.5,293.98 315.5,291.18 320.5,288.24 325.5,285.6 330.5,283.03 335.5,280.55 340.5,277.25 345.5,275.3 350.5,274.68 355.5,274.21 360.5,273.85 365.5,274.41 370.5,274.54 375.5,274.84 380.5,276.4 385.5,277.28 390.5,278.77 395.5,279.83 400.5,280.02 405.5,280.12 410.5,279.69 415.5,279.24 420.5,278.26 425.5,276.79 430.5,275.17 435.5,273.7 440.5,272.53 445.5,271.58 450.5,270.07 455.5,267.95 460.5,265.6 465.5,262.95 470.5,260.49 475.5,258.32 480.5,256.2 485.5,254.04 490.5,252.07 495.5,250.4 500.5,248.93 505.5,248.07 510.5,247.18 515.5,247 520.5,247.24 525.5,246.34 530.5,244.98 535.5,243.84 540.5,242.7 545.5,241.73 550.5,241.08 555.5,240.31 560.5,239.19 565.5,238.85 570.5,238.55 575.5,237.66 580.5,236.1 585.5,234.53 590.5,233.07 595.5,231.85 600.5,230.03 605.5,227.69 610.5,225.04 615.5,223.08 620.5,222.37 625.5,220.78 630.5,217.43 635.5,213.88 640.5,210.13" fill="none" stroke="#1a1a9a" stroke-width="1.2" stroke-linejoin="round"/>
<polyline points="20.5,403.5 25.5,390.8 30.5,375.11 35.5,364.48 40.5,353.31 45.5,340.64 50.5,329.31 55.5,315.79 60.5,306.71 65.5,301.94 70.5,296.01 75.5,291.96 80.5,297.56 85.5,307.3 90.5,312.83 95.5,313.38 100.5,313.94 105.5,324.59 110.5,324.6 115.5,318.95 120.5,308.95 125.5,303.91 130.5,299.89 135.5,299.55 140.5,294.75 145.5,286.66 150.5,280.6 155.5,275.05 160.5,269.04 165.5,265.44 170.5,263.4 175.5,262.39 180.5,262.92 185.5,263.45 190.5,268.98 195.5,267.67 200.5,268.6 205.5,272.7 210.5,271.17 215.5,269.21 220.5,269.74 225.5,269.31 230.5,265.75 235.5,263.5 240.5,258.4 245.5,251.04 250.5,242.09 255.5,230.7 260.5,221.6 265.5,213.49 270.5,203.43 275.5,199.24 280.5,195.76 285.5,194.36 290.5,190.14 295.5,186.44 300.5,182.95 305.5,181.35 310.5,186.05 315.5,190.82 320.5,192.58 325.5,201.82 330.5,203.65 335.5,206.41 340.5,207.41 345.5,207.47 350.5,193.31 355.5,183.36 360.5,180.94 365.5,175.39 370.5,178.11 375.5,176.81 380.5,166.56 385.5,163.29 390.5,163.33 395.5,167.83 400.5,173.54 405.5,180.68 410.5,180.58 415.5,184.85 420.5,190.01 425.5,192.22 430.5,191.62 435.5,195.8 440.5,197.42 445.5,195.37 450.5,185.19 455.5,176.94 460.5,169.53 465.5,161.4 470.5,152.13 475.5,147.8 480.5,145.82 485.5,144.48 490.5,148.72 495.5,150.17 500.5,148.05 505.5,150.48 510.5,149.6 515.5,152.58 520.5,153.79 525.5,153.42 530.5,150.71 535.5,152.69 540.5,151.34 545.5,152.45 550.5,152.86 555.5,153.23 560.5,154.18 565.5,153.71 570.5,153.74 575.5,153.43 580.5,149.94 585.5,144.68 590.5,141.29 595.5,143.19 600.5,144.29 605.5,144.82 610.5,144.19 615.5,141.77 620.5,135.31 625.5,133.54 630.5,135.43 635.5,135.27 640.5,136.44" fill="none" stroke="#0a700a" stroke-width="1.15" stroke-linejoin="round"/>
<polyline points="20.5,555.57 25.5,561.02 30.5,567.04 35.5,568.42 40.5,570.46 45.5,571.45 50.5,568.7 55.5,569.05 60.5,566.03 65.5,556.78 70.5,550.07 75.5,537.54 80.5,511.81 85.5,480.73 90.5,465.06 95.5,452.4 100.5,440.79 105.5,417.39 110.5,406.7 115.5,402.39 120.5,403.23 125.5,400.18 130.5,398.49 135.5,392.7 140.5,389.98 145.5,390.45 150.5,389.64 155.5,390.01 160.5,388.55 165.5,383.67 170.5,378.93 175.5,375.23 180.5,369.47 185.5,366.4 190.5,350.64 195.5,345.45 200.5,339.2 205.5,332.51 210.5,335.19 215.5,339.83 220.5,341.3 225.5,343.55 230.5,343.27 235.5,340.71 240.5,342.06 245.5,345.63 250.5,349.55 255.5,354.58 260.5,358.16 265.5,360.54 270.5,362.86 275.5,360.88 280.5,357.86 285.5,352.1 290.5,350.87 295.5,349.73 300.5,347.27 305.5,338.58 310.5,326.13 315.5,310.27 320.5,297.91 325.5,277.38 330.5,270.78 335.5,262.21 340.5,256.74 345.5,256.59 350.5,278.31 355.5,298.84 360.5,309.7 365.5,326.96 370.5,333.41 375.5,343.29 380.5,369.69 385.5,385.69 390.5,400.78 395.5,407.21 400.5,408.28 405.5,408.08 410.5,408.08 415.5,406.95 420.5,404.67 425.5,403.59 430.5,403.87 435.5,402.04 440.5,401.2 445.5,402.03 450.5,402.85 455.5,400.53 460.5,399.25 465.5,393.95 470.5,392.52 475.5,386.13 480.5,365.23 485.5,346.1 490.5,320.02 495.5,300.63 500.5,289.23 505.5,275.23 510.5,267.97 515.5,260.32 520.5,257.18 525.5,254.17 530.5,251.69 535.5,244.29 540.5,240.29 545.5,234.11 550.5,232.05 555.5,228.25 560.5,226.06 565.5,227.41 570.5,227.69 575.5,223.58 580.5,225.22 585.5,227.79 590.5,229.32 595.5,229.51 600.5,233.74 605.5,235.8 610.5,235.79 615.5,240.49 620.5,251.44 625.5,258.01 630.5,260.96 635.5,260.86 640.5,260.85" fill="none" stroke="#0a700a" stroke-width="1.15" stroke-linejoin="round"/>
<polyline points="20.5,478.59 25.5,474.73 30.5,469.57 35.5,464.75 40.5,459.96 45.5,453.87 50.5,446.67 55.5,439.8 60.5,433.62 65.5,426.71 70.5,420.4 75.5,412.29 80.5,402.81 85.5,392.79 90.5,388 95.5,382.1 100.5,376.71 105.5,370.64 110.5,365.38 115.5,360.38 120.5,355.73 125.5,351.67 130.5,348.8 135.5,345.77 140.5,341.99 145.5,338.11 150.5,334.64 155.5,331.99 160.5,328.21 165.5,323.98 170.5,320.62 175.5,318.29 180.5,315.73 185.5,314.49 190.5,309.54 195.5,306.32 200.5,303.7 205.5,302.46 210.5,303.01 215.5,304.32 220.5,305.31 225.5,306.21 230.5,304.27 235.5,301.86 240.5,299.95 245.5,297.97 250.5,295.35 255.5,292.01 260.5,289.12 265.5,286.13 270.5,282.11 275.5,278.99 280.5,275.74 285.5,272.21 290.5,269.45 295.5,267 300.5,264.01 305.5,258.96 310.5,255.29 315.5,249.96 320.5,244.79 325.5,239.37 330.5,237.03 335.5,234.18 340.5,231.97 345.5,231.93 350.5,235.52 355.5,240.56 360.5,244.64 365.5,250.24 370.5,254.77 375.5,258.92 380.5,266.44 385.5,272.47 390.5,279.75 395.5,285.17 400.5,288.66 405.5,292.27 410.5,292.22 415.5,293.89 420.5,295.46 425.5,296.08 430.5,295.9 435.5,297.18 440.5,297.62 445.5,296.95 450.5,292.08 455.5,286.69 460.5,282.23 465.5,275.47 470.5,269.96 475.5,264.64 480.5,253.56 485.5,243.63 490.5,233.17 495.5,224.48 500.5,217.83 505.5,212.22 510.5,208.21 515.5,205.98 520.5,205.05 525.5,203.38 530.5,200.78 535.5,198.15 540.5,195.49 545.5,193.01 550.5,192.2 555.5,190.51 560.5,189.91 565.5,190.34 570.5,190.49 575.5,188.3 580.5,187.35 585.5,185.95 590.5,184.99 595.5,186.05 600.5,188.68 605.5,189.97 610.5,189.64 615.5,190.73 620.5,192.82 625.5,195.14 630.5,197.55 635.5,197.42 640.5,198.01" fill="none" stroke="#0a700a" stroke-width="1.2" stroke-linejoin="round" stroke-dasharray="2,2.2"/>
<polyline points="20.5,472.36 25.5,460.04 30.5,442.3 35.5,426.3 40.5,415.76 45.5,405.77 50.5,396.63 55.5,383.68 60.5,376.38 65.5,372.3 70.5,369.32 75.5,365.27 80.5,363.82 85.5,359.64 90.5,360.49 95.5,358.61 100.5,356.91 105.5,357.65 110.5,354.41 115.5,348.51 120.5,342.2 125.5,338.13 130.5,333.84 135.5,331.97 140.5,323.61 145.5,317.75 150.5,312.52 155.5,306.54 160.5,302.24 165.5,299.65 170.5,299.19 175.5,298.57 180.5,297.73 185.5,297.11 190.5,295.54 195.5,294.92 200.5,294.9 205.5,298.39 210.5,303.79 215.5,308.99 220.5,311.45 225.5,313.86 230.5,310.82 235.5,306.62 240.5,304.37 245.5,301.02 250.5,295.8 255.5,285.65 260.5,274.51 265.5,263.43 270.5,253.05 275.5,244.52 280.5,241.06 285.5,238.19 290.5,234.93 295.5,233.35 300.5,232.55 305.5,232.49 310.5,236.19 315.5,236.55 320.5,236.55 325.5,234.23 330.5,233.01 335.5,230.18 340.5,229.01 345.5,230.52 350.5,238.49 355.5,248.65 360.5,253.12 365.5,263.98 370.5,273.11 375.5,283.81 380.5,300.24 385.5,315.36 390.5,331.35 395.5,340.83 400.5,339.67 405.5,336.52 410.5,331.83 415.5,324.09 420.5,317.98 425.5,308.4 430.5,291.57 435.5,279.11 440.5,264.25 445.5,253.7 450.5,245.23 455.5,237.67 460.5,233.43 465.5,227.6 470.5,222.68 475.5,221.51 480.5,216.01 485.5,208.56 490.5,202.41 495.5,195.53 500.5,190.67 505.5,186.98 510.5,183.2 515.5,184.5 520.5,187.51 525.5,185.36 530.5,185.63 535.5,187.77 540.5,188.59 545.5,190.48 550.5,193.73 555.5,194.06 560.5,196.63 565.5,196.18 570.5,193.47 575.5,191.25 580.5,189.07 585.5,184.13 590.5,181.39 595.5,181.62 600.5,183.65 605.5,185.89 610.5,182.68 615.5,185.29 620.5,192.17 625.5,199.04 630.5,206.05 635.5,210.77 640.5,214.73" fill="none" stroke="#ff00ff" stroke-width="1.2" stroke-linejoin="round"/>
<line x1="25.5" y1="385.94" x2="25.5" y2="390.2" stroke="#000" stroke-width="1.2"/>
<line x1="25.5" y1="391.7" x2="25.5" y2="398.43" stroke="#000" stroke-width="1.2"/>
<rect x="23" y="389.7" width="5" height="2.5" fill="#000"/>
<line x1="30.5" y1="365.8" x2="30.5" y2="373.92" stroke="#000" stroke-width="1.2"/>
<rect x="28.5" y="373.92" width="4" height="14.31" fill="none" stroke="#000" stroke-width="1.2"/>
<line x1="35.5" y1="388.41" x2="35.5" y2="398.72" stroke="#dc0a3c" stroke-width="1.2"/>
<rect x="33" y="377.6" width="5" height="11.3" fill="#dc0a3c"/>
<line x1="40.5" y1="375.19" x2="40.5" y2="378.45" stroke="#000" stroke-width="1.2"/>
<line x1="40.5" y1="386.48" x2="40.5" y2="389.95" stroke="#000" stroke-width="1.2"/>
<rect x="38.5" y="378.45" width="4" height="8.03" fill="none" stroke="#000" stroke-width="1.2"/>
<line x1="45.5" y1="364.95" x2="45.5" y2="365.04" stroke="#000" stroke-width="1.2"/>
<line x1="45.5" y1="371.58" x2="45.5" y2="377.79" stroke="#000" stroke-width="1.2"/>
<rect x="43.5" y="365.04" width="4" height="6.54" fill="none" stroke="#000" stroke-width="1.2"/>
<line x1="50.5" y1="355.97" x2="50.5" y2="360.97" stroke="#000" stroke-width="1.2"/>
<line x1="50.5" y1="365.64" x2="50.5" y2="368.69" stroke="#000" stroke-width="1.2"/>
<rect x="48.5" y="360.97" width="4" height="4.67" fill="none" stroke="#000" stroke-width="1.2"/>
<line x1="55.5" y1="343.69" x2="55.5" y2="343.93" stroke="#000" stroke-width="1.2"/>
<rect x="53.5" y="343.93" width="4" height="15.61" fill="none" stroke="#000" stroke-width="1.2"/>
<line x1="60.5" y1="338.29" x2="60.5" y2="343.38" stroke="#dc0a3c" stroke-width="1.2"/>
<line x1="60.5" y1="358.89" x2="60.5" y2="369.44" stroke="#dc0a3c" stroke-width="1.2"/>
<rect x="58" y="342.88" width="5" height="16.51" fill="#dc0a3c"/>
<line x1="65.5" y1="349.84" x2="65.5" y2="359.01" stroke="#dc0a3c" stroke-width="1.2"/>
<line x1="65.5" y1="370.66" x2="65.5" y2="372.09" stroke="#dc0a3c" stroke-width="1.2"/>
<rect x="63" y="358.51" width="5" height="12.65" fill="#dc0a3c"/>
<line x1="70.5" y1="354.8" x2="70.5" y2="361.79" stroke="#000" stroke-width="1.2"/>
<line x1="70.5" y1="366.9" x2="70.5" y2="377.35" stroke="#000" stroke-width="1.2"/>
<rect x="68.5" y="361.79" width="4" height="5.11" fill="none" stroke="#000" stroke-width="1.2"/>
<line x1="75.5" y1="349.41" x2="75.5" y2="350.88" stroke="#000" stroke-width="1.2"/>
<line x1="75.5" y1="358.73" x2="75.5" y2="361.93" stroke="#000" stroke-width="1.2"/>
<rect x="73.5" y="350.88" width="4" height="7.85" fill="none" stroke="#000" stroke-width="1.2"/>
<line x1="80.5" y1="352.44" x2="80.5" y2="354.8" stroke="#dc0a3c" stroke-width="1.2"/>
<line x1="80.5" y1="359.48" x2="80.5" y2="372.02" stroke="#dc0a3c" stroke-width="1.2"/>
<rect x="78" y="354.3" width="5" height="5.68" fill="#dc0a3c"/>
<line x1="85.5" y1="340.84" x2="85.5" y2="346.45" stroke="#000" stroke-width="1.2"/>
<line x1="85.5" y1="355.96" x2="85.5" y2="357" stroke="#000" stroke-width="1.2"/>
<rect x="83.5" y="346.45" width="4" height="9.5" fill="none" stroke="#000" stroke-width="1.2"/>
<line x1="90.5" y1="339.46" x2="90.5" y2="346.02" stroke="#dc0a3c" stroke-width="1.2"/>
<line x1="90.5" y1="387.06" x2="90.5" y2="388.72" stroke="#dc0a3c" stroke-width="1.2"/>
<rect x="88" y="345.52" width="5" height="42.03" fill="#dc0a3c"/>
<line x1="95.5" y1="345.95" x2="95.5" y2="346.25" stroke="#000" stroke-width="1.2"/>
<line x1="95.5" y1="384.92" x2="95.5" y2="386.22" stroke="#000" stroke-width="1.2"/>
<rect x="93.5" y="346.25" width="4" height="38.67" fill="none" stroke="#000" stroke-width="1.2"/>
<line x1="100.5" y1="341.36" x2="100.5" y2="344.04" stroke="#000" stroke-width="1.2"/>
<line x1="100.5" y1="347.37" x2="100.5" y2="351.02" stroke="#000" stroke-width="1.2"/>
<rect x="98.5" y="344.04" width="4" height="3.33" fill="none" stroke="#000" stroke-width="1.2"/>
<line x1="105.5" y1="344.23" x2="105.5" y2="348.15" stroke="#dc0a3c" stroke-width="1.2"/>
<line x1="105.5" y1="351.3" x2="105.5" y2="360.66" stroke="#dc0a3c" stroke-width="1.2"/>
<rect x="103" y="347.65" width="5" height="4.15" fill="#dc0a3c"/>
<line x1="110.5" y1="357.05" x2="110.5" y2="363.52" stroke="#000" stroke-width="1.2"/>
<rect x="108.5" y="326.63" width="4" height="30.42" fill="none" stroke="#000" stroke-width="1.2"/>
<line x1="115.5" y1="310.31" x2="115.5" y2="311.86" stroke="#000" stroke-width="1.2"/>
<line x1="115.5" y1="325.34" x2="115.5" y2="329.69" stroke="#000" stroke-width="1.2"/>
<rect x="113.5" y="311.86" width="4" height="13.48" fill="none" stroke="#000" stroke-width="1.2"/>
<line x1="120.5" y1="298.91" x2="120.5" y2="298.97" stroke="#000" stroke-width="1.2"/>
<rect x="118.5" y="298.97" width="4" height="12.82" fill="none" stroke="#000" stroke-width="1.2"/>
<line x1="125.5" y1="291.92" x2="125.5" y2="297.88" stroke="#dc0a3c" stroke-width="1.2"/>
<line x1="125.5" y1="310.31" x2="125.5" y2="316.34" stroke="#dc0a3c" stroke-width="1.2"/>
<rect x="123" y="297.38" width="5" height="13.42" fill="#dc0a3c"/>
<line x1="130.5" y1="303.52" x2="130.5" y2="311.57" stroke="#dc0a3c" stroke-width="1.2"/>
<line x1="130.5" y1="316.57" x2="130.5" y2="321.96" stroke="#dc0a3c" stroke-width="1.2"/>
<rect x="128" y="311.07" width="5" height="5.99" fill="#dc0a3c"/>
<line x1="135.5" y1="303.15" x2="135.5" y2="313.62" stroke="#dc0a3c" stroke-width="1.2"/>
<line x1="135.5" y1="327.71" x2="135.5" y2="334.83" stroke="#dc0a3c" stroke-width="1.2"/>
<rect x="133" y="313.12" width="5" height="15.09" fill="#dc0a3c"/>
<line x1="140.5" y1="300.71" x2="140.5" y2="302.94" stroke="#000" stroke-width="1.2"/>
<rect x="138.5" y="302.94" width="4" height="21.08" fill="none" stroke="#000" stroke-width="1.2"/>
<line x1="145.5" y1="287.66" x2="145.5" y2="287.8" stroke="#000" stroke-width="1.2"/>
<line x1="145.5" y1="300.62" x2="145.5" y2="304.9" stroke="#000" stroke-width="1.2"/>
<rect x="143.5" y="287.8" width="4" height="12.83" fill="none" stroke="#000" stroke-width="1.2"/>
<line x1="150.5" y1="282.14" x2="150.5" y2="285.14" stroke="#dc0a3c" stroke-width="1.2"/>
<line x1="150.5" y1="291.67" x2="150.5" y2="294.89" stroke="#dc0a3c" stroke-width="1.2"/>
<rect x="148" y="284.64" width="5" height="7.53" fill="#dc0a3c"/>
<line x1="155.5" y1="281.6" x2="155.5" y2="290.36" stroke="#000" stroke-width="1.2"/>
<line x1="155.5" y1="291.86" x2="155.5" y2="294.57" stroke="#000" stroke-width="1.2"/>
<rect x="153" y="289.86" width="5" height="2.5" fill="#000"/>
<line x1="160.5" y1="281.85" x2="160.5" y2="283.61" stroke="#000" stroke-width="1.2"/>
<line x1="160.5" y1="289.97" x2="160.5" y2="291.17" stroke="#000" stroke-width="1.2"/>
<rect x="158.5" y="283.61" width="4" height="6.36" fill="none" stroke="#000" stroke-width="1.2"/>
<line x1="165.5" y1="272.93" x2="165.5" y2="282.29" stroke="#dc0a3c" stroke-width="1.2"/>
<line x1="165.5" y1="286.02" x2="165.5" y2="289.12" stroke="#dc0a3c" stroke-width="1.2"/>
<rect x="163" y="281.79" width="5" height="4.73" fill="#dc0a3c"/>
<line x1="170.5" y1="278.89" x2="170.5" y2="284.77" stroke="#dc0a3c" stroke-width="1.2"/>
<line x1="170.5" y1="294.35" x2="170.5" y2="298.26" stroke="#dc0a3c" stroke-width="1.2"/>
<rect x="168" y="284.27" width="5" height="10.58" fill="#dc0a3c"/>
<line x1="175.5" y1="304.13" x2="175.5" y2="316.6" stroke="#dc0a3c" stroke-width="1.2"/>
<rect x="173" y="295.21" width="5" height="9.43" fill="#dc0a3c"/>
<line x1="180.5" y1="296.22" x2="180.5" y2="305.84" stroke="#dc0a3c" stroke-width="1.2"/>
<line x1="180.5" y1="308.12" x2="180.5" y2="331.63" stroke="#dc0a3c" stroke-width="1.2"/>
<rect x="178" y="305.34" width="5" height="3.29" fill="#dc0a3c"/>
<line x1="185.5" y1="321.43" x2="185.5" y2="324.26" stroke="#dc0a3c" stroke-width="1.2"/>
<rect x="183" y="307.61" width="5" height="14.32" fill="#dc0a3c"/>
<line x1="190.5" y1="285.63" x2="190.5" y2="287.24" stroke="#000" stroke-width="1.2"/>
<rect x="188.5" y="287.24" width="4" height="28.49" fill="none" stroke="#000" stroke-width="1.2"/>
<line x1="195.5" y1="276.36" x2="195.5" y2="281.68" stroke="#000" stroke-width="1.2"/>
<rect x="193.5" y="281.68" width="4" height="3.66" fill="none" stroke="#000" stroke-width="1.2"/>
<line x1="200.5" y1="281.43" x2="200.5" y2="282.99" stroke="#dc0a3c" stroke-width="1.2"/>
<line x1="200.5" y1="291.43" x2="200.5" y2="292.91" stroke="#dc0a3c" stroke-width="1.2"/>
<rect x="198" y="282.49" width="5" height="9.44" fill="#dc0a3c"/>
<line x1="205.5" y1="290.83" x2="205.5" y2="291.19" stroke="#dc0a3c" stroke-width="1.2"/>
<line x1="205.5" y1="326.25" x2="205.5" y2="329.91" stroke="#dc0a3c" stroke-width="1.2"/>
<rect x="203" y="290.69" width="5" height="36.06" fill="#dc0a3c"/>
<line x1="210.5" y1="324.93" x2="210.5" y2="327.13" stroke="#dc0a3c" stroke-width="1.2"/>
<line x1="210.5" y1="337.81" x2="210.5" y2="343.36" stroke="#dc0a3c" stroke-width="1.2"/>
<rect x="208" y="326.63" width="5" height="11.68" fill="#dc0a3c"/>
<line x1="215.5" y1="328.48" x2="215.5" y2="333.54" stroke="#dc0a3c" stroke-width="1.2"/>
<line x1="215.5" y1="338.12" x2="215.5" y2="343.07" stroke="#dc0a3c" stroke-width="1.2"/>
<rect x="213" y="333.04" width="5" height="5.58" fill="#dc0a3c"/>
<line x1="220.5" y1="309.13" x2="220.5" y2="318.84" stroke="#000" stroke-width="1.2"/>
<rect x="218.5" y="318.84" width="4" height="15.56" fill="none" stroke="#000" stroke-width="1.2"/>
<line x1="225.5" y1="318.45" x2="225.5" y2="318.96" stroke="#dc0a3c" stroke-width="1.2"/>
<line x1="225.5" y1="328.35" x2="225.5" y2="335.14" stroke="#dc0a3c" stroke-width="1.2"/>
<rect x="223" y="318.46" width="5" height="10.38" fill="#dc0a3c"/>
<line x1="230.5" y1="277.1" x2="230.5" y2="277.83" stroke="#000" stroke-width="1.2"/>
<line x1="230.5" y1="327.56" x2="230.5" y2="350.78" stroke="#000" stroke-width="1.2"/>
<rect x="228.5" y="277.83" width="4" height="49.73" fill="none" stroke="#000" stroke-width="1.2"/>
<line x1="235.5" y1="277.44" x2="235.5" y2="279.36" stroke="#dc0a3c" stroke-width="1.2"/>
<line x1="235.5" y1="280.86" x2="235.5" y2="293.58" stroke="#dc0a3c" stroke-width="1.2"/>
<rect x="233.5" y="279.36" width="4" height="1.5" fill="none" stroke="#dc0a3c" stroke-width="1.2"/>
<line x1="240.5" y1="255.77" x2="240.5" y2="264.9" stroke="#000" stroke-width="1.2"/>
<line x1="240.5" y1="278.27" x2="240.5" y2="278.51" stroke="#000" stroke-width="1.2"/>
<rect x="238.5" y="264.9" width="4" height="13.37" fill="none" stroke="#000" stroke-width="1.2"/>
<line x1="245.5" y1="245.72" x2="245.5" y2="248.67" stroke="#000" stroke-width="1.2"/>
<rect x="243.5" y="248.67" width="4" height="8.5" fill="none" stroke="#000" stroke-width="1.2"/>
<rect x="248.5" y="239.76" width="4" height="8.86" fill="none" stroke="#000" stroke-width="1.2"/>
<line x1="255.5" y1="223.91" x2="255.5" y2="225.27" stroke="#000" stroke-width="1.2"/>
<rect x="253.5" y="225.27" width="4" height="11.75" fill="none" stroke="#000" stroke-width="1.2"/>
<line x1="260.5" y1="220.51" x2="260.5" y2="223.7" stroke="#dc0a3c" stroke-width="1.2"/>
<line x1="260.5" y1="226.3" x2="260.5" y2="228.95" stroke="#dc0a3c" stroke-width="1.2"/>
<rect x="258" y="223.2" width="5" height="3.61" fill="#dc0a3c"/>
<line x1="265.5" y1="224.53" x2="265.5" y2="225.77" stroke="#dc0a3c" stroke-width="1.2"/>
<line x1="265.5" y1="227.27" x2="265.5" y2="230.68" stroke="#dc0a3c" stroke-width="1.2"/>
<rect x="263" y="225.27" width="5" height="2.5" fill="#dc0a3c"/>
<line x1="270.5" y1="212.97" x2="270.5" y2="214.76" stroke="#000" stroke-width="1.2"/>
<line x1="270.5" y1="224.29" x2="270.5" y2="224.63" stroke="#000" stroke-width="1.2"/>
<rect x="268.5" y="214.76" width="4" height="9.53" fill="none" stroke="#000" stroke-width="1.2"/>
<line x1="275.5" y1="242" x2="275.5" y2="249.09" stroke="#dc0a3c" stroke-width="1.2"/>
<rect x="273" y="218.4" width="5" height="24.09" fill="#dc0a3c"/>
<line x1="280.5" y1="231.56" x2="280.5" y2="239.94" stroke="#dc0a3c" stroke-width="1.2"/>
<line x1="280.5" y1="243.02" x2="280.5" y2="246.76" stroke="#dc0a3c" stroke-width="1.2"/>
<rect x="278" y="239.44" width="5" height="4.07" fill="#dc0a3c"/>
<line x1="285.5" y1="233.36" x2="285.5" y2="241.45" stroke="#dc0a3c" stroke-width="1.2"/>
<line x1="285.5" y1="250.71" x2="285.5" y2="255.81" stroke="#dc0a3c" stroke-width="1.2"/>
<rect x="283" y="240.95" width="5" height="10.26" fill="#dc0a3c"/>
<line x1="290.5" y1="228.47" x2="290.5" y2="232.16" stroke="#000" stroke-width="1.2"/>
<rect x="288.5" y="232.16" width="4" height="15.3" fill="none" stroke="#000" stroke-width="1.2"/>
<line x1="295.5" y1="228.6" x2="295.5" y2="231.72" stroke="#dc0a3c" stroke-width="1.2"/>
<line x1="295.5" y1="233.22" x2="295.5" y2="242.97" stroke="#dc0a3c" stroke-width="1.2"/>
<rect x="293" y="231.22" width="5" height="2.5" fill="#dc0a3c"/>
<line x1="300.5" y1="223.27" x2="300.5" y2="230.27" stroke="#000" stroke-width="1.2"/>
<line x1="300.5" y1="231.77" x2="300.5" y2="244.67" stroke="#000" stroke-width="1.2"/>
<rect x="298" y="229.77" width="5" height="2.5" fill="#000"/>
<line x1="305.5" y1="223.4" x2="305.5" y2="224.69" stroke="#000" stroke-width="1.2"/>
<line x1="305.5" y1="228.53" x2="305.5" y2="241.25" stroke="#000" stroke-width="1.2"/>
<rect x="303.5" y="224.69" width="4" height="3.84" fill="none" stroke="#000" stroke-width="1.2"/>
<line x1="310.5" y1="222.9" x2="310.5" y2="226.54" stroke="#dc0a3c" stroke-width="1.2"/>
<line x1="310.5" y1="263.42" x2="310.5" y2="269.61" stroke="#dc0a3c" stroke-width="1.2"/>
<rect x="308" y="226.04" width="5" height="37.88" fill="#dc0a3c"/>
<line x1="315.5" y1="229.86" x2="315.5" y2="230.49" stroke="#000" stroke-width="1.2"/>
<rect x="313.5" y="230.49" width="4" height="29.29" fill="none" stroke="#000" stroke-width="1.2"/>
<line x1="320.5" y1="210.66" x2="320.5" y2="214.73" stroke="#000" stroke-width="1.2"/>
<rect x="318.5" y="214.73" width="4" height="13.04" fill="none" stroke="#000" stroke-width="1.2"/>
<line x1="325.5" y1="218.85" x2="325.5" y2="228.13" stroke="#dc0a3c" stroke-width="1.2"/>
<rect x="323" y="214.87" width="5" height="4.48" fill="#dc0a3c"/>
<line x1="330.5" y1="218.6" x2="330.5" y2="221.61" stroke="#dc0a3c" stroke-width="1.2"/>
<line x1="330.5" y1="230.79" x2="330.5" y2="236.57" stroke="#dc0a3c" stroke-width="1.2"/>
<rect x="328" y="221.11" width="5" height="10.19" fill="#dc0a3c"/>
<line x1="335.5" y1="213.19" x2="335.5" y2="222.32" stroke="#000" stroke-width="1.2"/>
<line x1="335.5" y1="226.89" x2="335.5" y2="241.33" stroke="#000" stroke-width="1.2"/>
<rect x="333.5" y="222.32" width="4" height="4.57" fill="none" stroke="#000" stroke-width="1.2"/>
<line x1="340.5" y1="217.23" x2="340.5" y2="219.94" stroke="#000" stroke-width="1.2"/>
<line x1="340.5" y1="221.44" x2="340.5" y2="227.17" stroke="#000" stroke-width="1.2"/>
<rect x="338.5" y="219.94" width="4" height="1.5" fill="none" stroke="#000" stroke-width="1.2"/>
<line x1="345.5" y1="247.88" x2="345.5" y2="261.97" stroke="#dc0a3c" stroke-width="1.2"/>
<rect x="343" y="224.33" width="5" height="24.05" fill="#dc0a3c"/>
<rect x="348" y="249.89" width="5" height="63.04" fill="#dc0a3c"/>
<line x1="355.5" y1="302.72" x2="355.5" y2="311.16" stroke="#dc0a3c" stroke-width="1.2"/>
<line x1="355.5" y1="327.38" x2="355.5" y2="342.33" stroke="#dc0a3c" stroke-width="1.2"/>
<rect x="353" y="310.66" width="5" height="17.22" fill="#dc0a3c"/>
<line x1="360.5" y1="306.32" x2="360.5" y2="308.65" stroke="#000" stroke-width="1.2"/>
<rect x="358.5" y="308.65" width="4" height="16.26" fill="none" stroke="#000" stroke-width="1.2"/>
<line x1="365.5" y1="340.05" x2="365.5" y2="346.52" stroke="#dc0a3c" stroke-width="1.2"/>
<rect x="363" y="312.17" width="5" height="28.38" fill="#dc0a3c"/>
<line x1="370.5" y1="297.97" x2="370.5" y2="305.77" stroke="#000" stroke-width="1.2"/>
<rect x="368.5" y="305.77" width="4" height="29.16" fill="none" stroke="#000" stroke-width="1.2"/>
<line x1="375.5" y1="306.3" x2="375.5" y2="311.42" stroke="#dc0a3c" stroke-width="1.2"/>
<line x1="375.5" y1="325.62" x2="375.5" y2="343.4" stroke="#dc0a3c" stroke-width="1.2"/>
<rect x="373" y="310.92" width="5" height="15.2" fill="#dc0a3c"/>
<line x1="380.5" y1="321.77" x2="380.5" y2="325.46" stroke="#dc0a3c" stroke-width="1.2"/>
<line x1="380.5" y1="396.28" x2="380.5" y2="400.2" stroke="#dc0a3c" stroke-width="1.2"/>
<rect x="378" y="324.96" width="5" height="71.82" fill="#dc0a3c"/>
<line x1="385.5" y1="366.84" x2="385.5" y2="372.99" stroke="#000" stroke-width="1.2"/>
<rect x="383.5" y="372.99" width="4" height="19.9" fill="none" stroke="#000" stroke-width="1.2"/>
<line x1="390.5" y1="371.96" x2="390.5" y2="376.17" stroke="#dc0a3c" stroke-width="1.2"/>
<line x1="390.5" y1="379.2" x2="390.5" y2="403.26" stroke="#dc0a3c" stroke-width="1.2"/>
<rect x="388" y="375.67" width="5" height="4.04" fill="#dc0a3c"/>
<line x1="395.5" y1="340.29" x2="395.5" y2="341.38" stroke="#000" stroke-width="1.2"/>
<rect x="393.5" y="341.38" width="4" height="35.47" fill="none" stroke="#000" stroke-width="1.2"/>
<line x1="400.5" y1="299.23" x2="400.5" y2="300.95" stroke="#000" stroke-width="1.2"/>
<rect x="398.5" y="300.95" width="4" height="35.98" fill="none" stroke="#000" stroke-width="1.2"/>
<line x1="405.5" y1="295.98" x2="405.5" y2="296.15" stroke="#000" stroke-width="1.2"/>
<line x1="405.5" y1="302.34" x2="405.5" y2="309.8" stroke="#000" stroke-width="1.2"/>
<rect x="403.5" y="296.15" width="4" height="6.19" fill="none" stroke="#000" stroke-width="1.2"/>
<line x1="410.5" y1="256.12" x2="410.5" y2="262.49" stroke="#000" stroke-width="1.2"/>
<line x1="410.5" y1="295.11" x2="410.5" y2="295.18" stroke="#000" stroke-width="1.2"/>
<rect x="408.5" y="262.49" width="4" height="32.62" fill="none" stroke="#000" stroke-width="1.2"/>
<line x1="415.5" y1="251.08" x2="415.5" y2="261.84" stroke="#dc0a3c" stroke-width="1.2"/>
<line x1="415.5" y1="263.34" x2="415.5" y2="268.85" stroke="#dc0a3c" stroke-width="1.2"/>
<rect x="413" y="261.34" width="5" height="2.5" fill="#dc0a3c"/>
<line x1="420.5" y1="244.89" x2="420.5" y2="245.59" stroke="#000" stroke-width="1.2"/>
<line x1="420.5" y1="270.79" x2="420.5" y2="280.25" stroke="#000" stroke-width="1.2"/>
<rect x="418.5" y="245.59" width="4" height="25.2" fill="none" stroke="#000" stroke-width="1.2"/>
<line x1="425.5" y1="225.89" x2="425.5" y2="230.91" stroke="#000" stroke-width="1.2"/>
<line x1="425.5" y1="247.88" x2="425.5" y2="252.69" stroke="#000" stroke-width="1.2"/>
<rect x="423.5" y="230.91" width="4" height="16.97" fill="none" stroke="#000" stroke-width="1.2"/>
<line x1="430.5" y1="223.86" x2="430.5" y2="227.37" stroke="#000" stroke-width="1.2"/>
<line x1="430.5" y1="230.25" x2="430.5" y2="236.94" stroke="#000" stroke-width="1.2"/>
<rect x="428.5" y="227.37" width="4" height="2.88" fill="none" stroke="#000" stroke-width="1.2"/>
<line x1="435.5" y1="216.19" x2="435.5" y2="231.59" stroke="#dc0a3c" stroke-width="1.2"/>
<line x1="435.5" y1="247.4" x2="435.5" y2="250.34" stroke="#dc0a3c" stroke-width="1.2"/>
<rect x="433" y="231.09" width="5" height="16.8" fill="#dc0a3c"/>
<line x1="440.5" y1="224" x2="440.5" y2="229" stroke="#000" stroke-width="1.2"/>
<line x1="440.5" y1="246.58" x2="440.5" y2="254.38" stroke="#000" stroke-width="1.2"/>
<rect x="438.5" y="229" width="4" height="17.58" fill="none" stroke="#000" stroke-width="1.2"/>
<line x1="445.5" y1="218.46" x2="445.5" y2="226.85" stroke="#dc0a3c" stroke-width="1.2"/>
<line x1="445.5" y1="234.87" x2="445.5" y2="235.96" stroke="#dc0a3c" stroke-width="1.2"/>
<rect x="443" y="226.35" width="5" height="9.02" fill="#dc0a3c"/>
<line x1="450.5" y1="197.68" x2="450.5" y2="216" stroke="#000" stroke-width="1.2"/>
<rect x="448.5" y="216" width="4" height="17.99" fill="none" stroke="#000" stroke-width="1.2"/>
<line x1="455.5" y1="207.24" x2="455.5" y2="215.92" stroke="#dc0a3c" stroke-width="1.2"/>
<line x1="455.5" y1="220.13" x2="455.5" y2="228.32" stroke="#dc0a3c" stroke-width="1.2"/>
<rect x="453" y="215.42" width="5" height="5.21" fill="#dc0a3c"/>
<line x1="460.5" y1="207.67" x2="460.5" y2="218.79" stroke="#000" stroke-width="1.2"/>
<line x1="460.5" y1="220.29" x2="460.5" y2="227.53" stroke="#000" stroke-width="1.2"/>
<rect x="458" y="218.29" width="5" height="2.5" fill="#000"/>
<line x1="465.5" y1="204.57" x2="465.5" y2="204.96" stroke="#000" stroke-width="1.2"/>
<line x1="465.5" y1="220.49" x2="465.5" y2="226.75" stroke="#000" stroke-width="1.2"/>
<rect x="463.5" y="204.96" width="4" height="15.53" fill="none" stroke="#000" stroke-width="1.2"/>
<line x1="470.5" y1="182.55" x2="470.5" y2="196.46" stroke="#000" stroke-width="1.2"/>
<line x1="470.5" y1="203.59" x2="470.5" y2="215.9" stroke="#000" stroke-width="1.2"/>
<rect x="468.5" y="196.46" width="4" height="7.13" fill="none" stroke="#000" stroke-width="1.2"/>
<line x1="475.5" y1="219.12" x2="475.5" y2="237.89" stroke="#dc0a3c" stroke-width="1.2"/>
<rect x="473" y="198.87" width="5" height="20.75" fill="#dc0a3c"/>
<line x1="480.5" y1="168.97" x2="480.5" y2="172.76" stroke="#000" stroke-width="1.2"/>
<rect x="478.5" y="172.76" width="4" height="40.56" fill="none" stroke="#000" stroke-width="1.2"/>
<line x1="485.5" y1="168.48" x2="485.5" y2="171.98" stroke="#dc0a3c" stroke-width="1.2"/>
<line x1="485.5" y1="173.48" x2="485.5" y2="177.33" stroke="#dc0a3c" stroke-width="1.2"/>
<rect x="483" y="171.48" width="5" height="2.5" fill="#dc0a3c"/>
<line x1="490.5" y1="159.68" x2="490.5" y2="167.67" stroke="#000" stroke-width="1.2"/>
<rect x="488.5" y="167.67" width="4" height="4.65" fill="none" stroke="#000" stroke-width="1.2"/>
<line x1="495.5" y1="157.03" x2="495.5" y2="164.88" stroke="#000" stroke-width="1.2"/>
<line x1="495.5" y1="166.38" x2="495.5" y2="178.23" stroke="#000" stroke-width="1.2"/>
<rect x="493" y="164.38" width="5" height="2.5" fill="#000"/>
<line x1="500.5" y1="167.63" x2="500.5" y2="184" stroke="#dc0a3c" stroke-width="1.2"/>
<rect x="498" y="165.63" width="5" height="2.5" fill="#dc0a3c"/>
<line x1="505.5" y1="159.01" x2="505.5" y2="165.66" stroke="#dc0a3c" stroke-width="1.2"/>
<line x1="505.5" y1="183.03" x2="505.5" y2="189.18" stroke="#dc0a3c" stroke-width="1.2"/>
<rect x="503" y="165.16" width="5" height="18.36" fill="#dc0a3c"/>
<line x1="510.5" y1="181.8" x2="510.5" y2="182.1" stroke="#000" stroke-width="1.2"/>
<line x1="510.5" y1="185.45" x2="510.5" y2="204.81" stroke="#000" stroke-width="1.2"/>
<rect x="508.5" y="182.1" width="4" height="3.36" fill="none" stroke="#000" stroke-width="1.2"/>
<line x1="515.5" y1="171.96" x2="515.5" y2="180.69" stroke="#dc0a3c" stroke-width="1.2"/>
<line x1="515.5" y1="218.11" x2="515.5" y2="225.54" stroke="#dc0a3c" stroke-width="1.2"/>
<rect x="513" y="180.19" width="5" height="38.42" fill="#dc0a3c"/>
<line x1="520.5" y1="208.02" x2="520.5" y2="220.21" stroke="#dc0a3c" stroke-width="1.2"/>
<line x1="520.5" y1="226.75" x2="520.5" y2="229.35" stroke="#dc0a3c" stroke-width="1.2"/>
<rect x="518" y="219.71" width="5" height="7.54" fill="#dc0a3c"/>
<line x1="525.5" y1="191.77" x2="525.5" y2="197.48" stroke="#000" stroke-width="1.2"/>
<rect x="523.5" y="197.48" width="4" height="26.48" fill="none" stroke="#000" stroke-width="1.2"/>
<line x1="530.5" y1="173" x2="530.5" y2="175.47" stroke="#000" stroke-width="1.2"/>
<rect x="528.5" y="175.47" width="4" height="21.86" fill="none" stroke="#000" stroke-width="1.2"/>
<line x1="535.5" y1="172.38" x2="535.5" y2="175.47" stroke="#dc0a3c" stroke-width="1.2"/>
<line x1="535.5" y1="194.29" x2="535.5" y2="211.47" stroke="#dc0a3c" stroke-width="1.2"/>
<rect x="533" y="174.97" width="5" height="19.82" fill="#dc0a3c"/>
<line x1="540.5" y1="173.44" x2="540.5" y2="175.86" stroke="#000" stroke-width="1.2"/>
<line x1="540.5" y1="195.41" x2="540.5" y2="204.4" stroke="#000" stroke-width="1.2"/>
<rect x="538.5" y="175.86" width="4" height="19.54" fill="none" stroke="#000" stroke-width="1.2"/>
<line x1="545.5" y1="156.38" x2="545.5" y2="171.75" stroke="#dc0a3c" stroke-width="1.2"/>
<line x1="545.5" y1="184.85" x2="545.5" y2="189.87" stroke="#dc0a3c" stroke-width="1.2"/>
<rect x="543" y="171.25" width="5" height="14.1" fill="#dc0a3c"/>
<line x1="550.5" y1="173.69" x2="550.5" y2="182.96" stroke="#dc0a3c" stroke-width="1.2"/>
<line x1="550.5" y1="199.77" x2="550.5" y2="212.56" stroke="#dc0a3c" stroke-width="1.2"/>
<rect x="548" y="182.46" width="5" height="17.8" fill="#dc0a3c"/>
<line x1="555.5" y1="176.09" x2="555.5" y2="186.32" stroke="#000" stroke-width="1.2"/>
<line x1="555.5" y1="196.41" x2="555.5" y2="202.21" stroke="#000" stroke-width="1.2"/>
<rect x="553.5" y="186.32" width="4" height="10.09" fill="none" stroke="#000" stroke-width="1.2"/>
<line x1="560.5" y1="169.48" x2="560.5" y2="183.91" stroke="#dc0a3c" stroke-width="1.2"/>
<rect x="558" y="183.41" width="5" height="24.9" fill="#dc0a3c"/>
<line x1="565.5" y1="202.88" x2="565.5" y2="208.56" stroke="#dc0a3c" stroke-width="1.2"/>
<line x1="565.5" y1="213.64" x2="565.5" y2="225.13" stroke="#dc0a3c" stroke-width="1.2"/>
<rect x="563" y="208.06" width="5" height="6.08" fill="#dc0a3c"/>
<line x1="570.5" y1="184.67" x2="570.5" y2="199.47" stroke="#000" stroke-width="1.2"/>
<rect x="568.5" y="199.47" width="4" height="12.46" fill="none" stroke="#000" stroke-width="1.2"/>
<line x1="575.5" y1="170.69" x2="575.5" y2="175.32" stroke="#000" stroke-width="1.2"/>
<rect x="573.5" y="175.32" width="4" height="21.61" fill="none" stroke="#000" stroke-width="1.2"/>
<line x1="580.5" y1="153.34" x2="580.5" y2="153.86" stroke="#000" stroke-width="1.2"/>
<rect x="578.5" y="153.86" width="4" height="18.82" fill="none" stroke="#000" stroke-width="1.2"/>
<line x1="585.5" y1="141.47" x2="585.5" y2="145.14" stroke="#000" stroke-width="1.2"/>
<line x1="585.5" y1="152.09" x2="585.5" y2="156.67" stroke="#000" stroke-width="1.2"/>
<rect x="583.5" y="145.14" width="4" height="6.95" fill="none" stroke="#000" stroke-width="1.2"/>
<line x1="590.5" y1="140.45" x2="590.5" y2="144.29" stroke="#dc0a3c" stroke-width="1.2"/>
<line x1="590.5" y1="148.59" x2="590.5" y2="158.52" stroke="#dc0a3c" stroke-width="1.2"/>
<rect x="588" y="143.79" width="5" height="5.31" fill="#dc0a3c"/>
<line x1="595.5" y1="134.84" x2="595.5" y2="146.2" stroke="#dc0a3c" stroke-width="1.2"/>
<line x1="595.5" y1="187.19" x2="595.5" y2="190.2" stroke="#dc0a3c" stroke-width="1.2"/>
<rect x="593" y="145.7" width="5" height="42" fill="#dc0a3c"/>
<line x1="600.5" y1="188.92" x2="600.5" y2="189.11" stroke="#dc0a3c" stroke-width="1.2"/>
<line x1="600.5" y1="220.26" x2="600.5" y2="226.17" stroke="#dc0a3c" stroke-width="1.2"/>
<rect x="598" y="188.61" width="5" height="32.15" fill="#dc0a3c"/>
<line x1="605.5" y1="203.87" x2="605.5" y2="208.81" stroke="#000" stroke-width="1.2"/>
<line x1="605.5" y1="219.53" x2="605.5" y2="232.81" stroke="#000" stroke-width="1.2"/>
<rect x="603.5" y="208.81" width="4" height="10.72" fill="none" stroke="#000" stroke-width="1.2"/>
<line x1="610.5" y1="175.18" x2="610.5" y2="175.58" stroke="#000" stroke-width="1.2"/>
<line x1="610.5" y1="207.69" x2="610.5" y2="208.11" stroke="#000" stroke-width="1.2"/>
<rect x="608.5" y="175.58" width="4" height="32.1" fill="none" stroke="#000" stroke-width="1.2"/>
<line x1="615.5" y1="175.01" x2="615.5" y2="175.42" stroke="#dc0a3c" stroke-width="1.2"/>
<line x1="615.5" y1="240.16" x2="615.5" y2="243.85" stroke="#dc0a3c" stroke-width="1.2"/>
<rect x="613" y="174.92" width="5" height="65.74" fill="#dc0a3c"/>
<line x1="620.5" y1="236.84" x2="620.5" y2="244.22" stroke="#dc0a3c" stroke-width="1.2"/>
<line x1="620.5" y1="269.32" x2="620.5" y2="271.57" stroke="#dc0a3c" stroke-width="1.2"/>
<rect x="618" y="243.72" width="5" height="26.11" fill="#dc0a3c"/>
<line x1="625.5" y1="238.31" x2="625.5" y2="244.29" stroke="#000" stroke-width="1.2"/>
<line x1="625.5" y1="265.13" x2="625.5" y2="269.14" stroke="#000" stroke-width="1.2"/>
<rect x="623.5" y="244.29" width="4" height="20.85" fill="none" stroke="#000" stroke-width="1.2"/>
<line x1="630.5" y1="221.95" x2="630.5" y2="223.68" stroke="#000" stroke-width="1.2"/>
<line x1="630.5" y1="242.88" x2="630.5" y2="268.31" stroke="#000" stroke-width="1.2"/>
<rect x="628.5" y="223.68" width="4" height="19.2" fill="none" stroke="#000" stroke-width="1.2"/>
<rect x="633.5" y="191.76" width="4" height="26.9" fill="none" stroke="#000" stroke-width="1.2"/>
<line x1="640.5" y1="179.75" x2="640.5" y2="187.59" stroke="#000" stroke-width="1.2"/>
<line x1="640.5" y1="192.71" x2="640.5" y2="200.95" stroke="#000" stroke-width="1.2"/>
<rect x="638.5" y="187.59" width="4" height="5.12" fill="none" stroke="#000" stroke-width="1.2"/>
<line x1="262" y1="217.2" x2="641.1" y2="129.7" stroke="#333" stroke-width="2.8" stroke-linecap="round"/>
<line x1="381.8" y1="401.5" x2="641.1" y2="265.1" stroke="#333" stroke-width="2.8" stroke-linecap="round"/>
</g>
<rect x="24" y="129" width="134" height="11" fill="#fff"/>
<path d="M26.5 131v8M29.5 132v6M33 131v8" stroke="#000" stroke-width="1.4"/><rect x="25.5" y="133" width="2" height="4" fill="#fff" stroke="#000"/><rect x="32" y="133" width="2" height="4" fill="#fff" stroke="#000"/><rect x="28" y="134" width="3" height="3" fill="#000"/>
<text x="38.4" y="138.3" font-family="'DejaVu Sans','Liberation Sans',sans-serif" font-size="9.7" fill="#000" stroke="#000" stroke-width="0.12" textLength="118.1" lengthAdjust="spacing">$SPX (Daily) 1864.85</text>
<rect x="24" y="140.0" width="82.9" height="10.6" fill="#fff"/>
<line x1="26" y1="145.7" x2="35" y2="145.7" stroke="#1a1a9a" stroke-width="2"/>
<text x="36.6" y="148.5" font-family="'DejaVu Sans','Liberation Sans',sans-serif" font-size="8.9" fill="#1a1a9a" stroke="#1a1a9a" stroke-width="0.12" textLength="68.8" lengthAdjust="spacingAndGlyphs">MA(50) 1851.16</text>
<rect x="24" y="150.7" width="88.2" height="10.6" fill="#fff"/>
<line x1="26" y1="156.39999999999998" x2="35" y2="156.39999999999998" stroke="#dc143c" stroke-width="2"/>
<text x="36.6" y="159.2" font-family="'DejaVu Sans','Liberation Sans',sans-serif" font-size="8.9" fill="#dc143c" stroke="#dc143c" stroke-width="0.12" textLength="74.1" lengthAdjust="spacingAndGlyphs">MA(200) 1766.19</text>
<rect x="24" y="161.5" width="182" height="10.6" fill="#fff"/>
<line x1="26" y1="167.2" x2="35" y2="167.2" stroke="#0a700a" stroke-width="2"/>
<text x="36.6" y="170" font-family="'DejaVu Sans','Liberation Sans',sans-serif" font-size="8.9" fill="#0a700a" stroke="#0a700a" stroke-width="0.12" textLength="167.9" lengthAdjust="spacingAndGlyphs">BB(20,2.0) 1820.73 - 1858.51 - 1896.29</text>
<rect x="24" y="172.2" width="82.9" height="10.6" fill="#fff"/>
<line x1="26" y1="177.89999999999998" x2="35" y2="177.89999999999998" stroke="#ff00ff" stroke-width="2"/>
<text x="36.6" y="180.7" font-family="'DejaVu Sans','Liberation Sans',sans-serif" font-size="8.9" fill="#ff00ff" stroke="#ff00ff" stroke-width="0.12" textLength="68.8" lengthAdjust="spacingAndGlyphs">MA(10) 1848.38</text>
<rect x="24" y="182.5" width="109" height="10.6" fill="#fff"/>
<path d="M27 191.5v-5M29.5 191.5v-7M32 191.5v-6M34 191.5v-4" stroke="#555" stroke-width="1.8"/>
<text x="36.7" y="191.5" font-family="'DejaVu Sans','Liberation Sans',sans-serif" font-size="8.9" fill="#444" stroke="#444" stroke-width="0.12" textLength="94.8" lengthAdjust="spacingAndGlyphs">Volume 2,380,007,936</text>
<line x1="647.5" y1="399.5" x2="649.5" y2="399.5" stroke="#999"/>
<line x1="647.5" y1="390.5" x2="649.5" y2="390.5" stroke="#999"/>
<line x1="647.5" y1="382.5" x2="649.5" y2="382.5" stroke="#999"/>
<line x1="647.5" y1="373.5" x2="649.5" y2="373.5" stroke="#999"/>
<line x1="647.5" y1="364.5" x2="649.5" y2="364.5" stroke="#999"/>
<line x1="647.5" y1="355.5" x2="649.5" y2="355.5" stroke="#999"/>
<line x1="647.5" y1="347.5" x2="649.5" y2="347.5" stroke="#999"/>
<line x1="647.5" y1="338.5" x2="649.5" y2="338.5" stroke="#999"/>
<line x1="647.5" y1="330.5" x2="649.5" y2="330.5" stroke="#999"/>
<line x1="647.5" y1="321.5" x2="649.5" y2="321.5" stroke="#999"/>
<line x1="647.5" y1="312.5" x2="649.5" y2="312.5" stroke="#999"/>
<line x1="647.5" y1="304.5" x2="649.5" y2="304.5" stroke="#999"/>
<line x1="647.5" y1="295.5" x2="649.5" y2="295.5" stroke="#999"/>
<line x1="647.5" y1="287.5" x2="649.5" y2="287.5" stroke="#999"/>
<line x1="647.5" y1="278.5" x2="649.5" y2="278.5" stroke="#999"/>
<line x1="647.5" y1="270.5" x2="649.5" y2="270.5" stroke="#999"/>
<line x1="647.5" y1="262.5" x2="649.5" y2="262.5" stroke="#999"/>
<line x1="647.5" y1="253.5" x2="649.5" y2="253.5" stroke="#999"/>
<line x1="647.5" y1="245.5" x2="649.5" y2="245.5" stroke="#999"/>
<line x1="647.5" y1="236.5" x2="649.5" y2="236.5" stroke="#999"/>
<line x1="647.5" y1="228.5" x2="649.5" y2="228.5" stroke="#999"/>
<line x1="647.5" y1="220.5" x2="649.5" y2="220.5" stroke="#999"/>
<line x1="647.5" y1="212.5" x2="649.5" y2="212.5" stroke="#999"/>
<line x1="647.5" y1="203.5" x2="649.5" y2="203.5" stroke="#999"/>
<line x1="647.5" y1="195.5" x2="649.5" y2="195.5" stroke="#999"/>
<line x1="647.5" y1="187.5" x2="649.5" y2="187.5" stroke="#999"/>
<line x1="647.5" y1="179.5" x2="649.5" y2="179.5" stroke="#999"/>
<line x1="647.5" y1="170.5" x2="649.5" y2="170.5" stroke="#999"/>
<line x1="647.5" y1="162.5" x2="649.5" y2="162.5" stroke="#999"/>
<line x1="647.5" y1="154.5" x2="649.5" y2="154.5" stroke="#999"/>
<line x1="647.5" y1="146.5" x2="649.5" y2="146.5" stroke="#999"/>
<line x1="647.5" y1="138.5" x2="649.5" y2="138.5" stroke="#999"/>
<text x="651.7" y="402.8" font-family="'Liberation Sans',Arial,sans-serif" font-size="9.7" fill="#000" stroke="#000" stroke-width="0.12" textLength="23.1" lengthAdjust="spacingAndGlyphs">1740</text>
<text x="651.7" y="385.8" font-family="'Liberation Sans',Arial,sans-serif" font-size="9.7" fill="#000" stroke="#000" stroke-width="0.12" textLength="23.1" lengthAdjust="spacingAndGlyphs">1750</text>
<text x="651.7" y="367.8" font-family="'Liberation Sans',Arial,sans-serif" font-size="9.7" fill="#000" stroke="#000" stroke-width="0.12" textLength="23.1" lengthAdjust="spacingAndGlyphs">1760</text>
<text x="651.7" y="350.8" font-family="'Liberation Sans',Arial,sans-serif" font-size="9.7" fill="#000" stroke="#000" stroke-width="0.12" textLength="23.1" lengthAdjust="spacingAndGlyphs">1770</text>
<text x="651.7" y="333.8" font-family="'Liberation Sans',Arial,sans-serif" font-size="9.7" fill="#000" stroke="#000" stroke-width="0.12" textLength="23.1" lengthAdjust="spacingAndGlyphs">1780</text>
<text x="651.7" y="315.8" font-family="'Liberation Sans',Arial,sans-serif" font-size="9.7" fill="#000" stroke="#000" stroke-width="0.12" textLength="23.1" lengthAdjust="spacingAndGlyphs">1790</text>
<text x="651.7" y="298.8" font-family="'Liberation Sans',Arial,sans-serif" font-size="9.7" fill="#000" stroke="#000" stroke-width="0.12" textLength="23.1" lengthAdjust="spacingAndGlyphs">1800</text>
<text x="651.7" y="281.8" font-family="'Liberation Sans',Arial,sans-serif" font-size="9.7" fill="#000" stroke="#000" stroke-width="0.12" textLength="23.1" lengthAdjust="spacingAndGlyphs">1810</text>
<text x="651.7" y="265.8" font-family="'Liberation Sans',Arial,sans-serif" font-size="9.7" fill="#000" stroke="#000" stroke-width="0.12" textLength="23.1" lengthAdjust="spacingAndGlyphs">1820</text>
<text x="651.7" y="248.8" font-family="'Liberation Sans',Arial,sans-serif" font-size="9.7" fill="#000" stroke="#000" stroke-width="0.12" textLength="23.1" lengthAdjust="spacingAndGlyphs">1830</text>
<text x="651.7" y="231.8" font-family="'Liberation Sans',Arial,sans-serif" font-size="9.7" fill="#000" stroke="#000" stroke-width="0.12" textLength="23.1" lengthAdjust="spacingAndGlyphs">1840</text>
<text x="651.7" y="215.8" font-family="'Liberation Sans',Arial,sans-serif" font-size="9.7" fill="#000" stroke="#000" stroke-width="0.12" textLength="23.1" lengthAdjust="spacingAndGlyphs">1850</text>
<text x="651.7" y="198.8" font-family="'Liberation Sans',Arial,sans-serif" font-size="9.7" fill="#000" stroke="#000" stroke-width="0.12" textLength="23.1" lengthAdjust="spacingAndGlyphs">1860</text>
<text x="651.7" y="182.8" font-family="'Liberation Sans',Arial,sans-serif" font-size="9.7" fill="#000" stroke="#000" stroke-width="0.12" textLength="23.1" lengthAdjust="spacingAndGlyphs">1870</text>
<text x="651.7" y="165.8" font-family="'Liberation Sans',Arial,sans-serif" font-size="9.7" fill="#000" stroke="#000" stroke-width="0.12" textLength="23.1" lengthAdjust="spacingAndGlyphs">1880</text>
<text x="651.7" y="149.8" font-family="'Liberation Sans',Arial,sans-serif" font-size="9.7" fill="#000" stroke="#000" stroke-width="0.12" textLength="23.1" lengthAdjust="spacingAndGlyphs">1890</text>
<path d="M645.5 359.5 L649.5 354.5 H690.6 V364.5 H649.5 Z" fill="#fff" stroke="#000" stroke-width="1.1"/>
<text x="650" y="362.8" font-family="'Liberation Sans',Arial,sans-serif" font-size="9.3" fill="#000" stroke="#000" stroke-width="0.12" textLength="38.5" lengthAdjust="spacingAndGlyphs">2380007</text>
<path d="M645.5 354.5 L649.5 349.5 H690.6 V359.5 H649.5 Z" fill="#fff" stroke="#dc143c" stroke-width="1.1"/>
<text x="650" y="357.8" font-family="'Liberation Sans',Arial,sans-serif" font-size="9.3" fill="#000" stroke="#000" stroke-width="0.12" textLength="38.5" lengthAdjust="spacingAndGlyphs">1766.19</text>
<path d="M645.5 261.5 L649.5 256.5 H690.6 V266.5 H649.5 Z" fill="#fff" stroke="#0a700a" stroke-width="1.1"/>
<text x="650" y="264.8" font-family="'Liberation Sans',Arial,sans-serif" font-size="9.3" fill="#000" stroke="#000" stroke-width="0.12" textLength="38.5" lengthAdjust="spacingAndGlyphs">1820.73</text>
<path d="M645.5 136.5 L649.5 131.5 H690.6 V141.5 H649.5 Z" fill="#fff" stroke="#0a700a" stroke-width="1.1"/>
<text x="650" y="139.8" font-family="'Liberation Sans',Arial,sans-serif" font-size="9.3" fill="#000" stroke="#000" stroke-width="0.12" textLength="38.5" lengthAdjust="spacingAndGlyphs">1896.29</text>
<path d="M645.5 215.5 L649.5 210.5 H690.6 V220.5 H649.5 Z" fill="#fff" stroke="#ff00ff" stroke-width="1.1"/>
<text x="650" y="218.8" font-family="'Liberation Sans',Arial,sans-serif" font-size="9.3" fill="#000" stroke="#000" stroke-width="0.12" textLength="38.5" lengthAdjust="spacingAndGlyphs">1848.38</text>
<path d="M645.5 210.5 L649.5 205.5 H690.6 V215.5 H649.5 Z" fill="#fff" stroke="#1a1a9a" stroke-width="1.1"/>
<text x="650" y="213.8" font-family="'Liberation Sans',Arial,sans-serif" font-size="9.3" fill="#000" stroke="#000" stroke-width="0.12" textLength="38.5" lengthAdjust="spacingAndGlyphs">1851.16</text>
<path d="M645.5 198.5 L649.5 193.5 H690.6 V203.5 H649.5 Z" fill="#fff" stroke="#0a700a" stroke-width="1.1"/>
<text x="650" y="201.8" font-family="'Liberation Sans',Arial,sans-serif" font-size="9.3" fill="#000" stroke="#000" stroke-width="0.12" textLength="38.5" lengthAdjust="spacingAndGlyphs">1858.51</text>
<path d="M645.5 188.5 L649.5 183.5 H690.6 V193.5 H649.5 Z" fill="#fff" stroke="#000" stroke-width="1.1"/>
<text x="650" y="191.8" font-family="'Liberation Sans',Arial,sans-serif" font-size="9.3" font-weight="bold" fill="#000" stroke="#000" stroke-width="0.25" textLength="38.6" lengthAdjust="spacingAndGlyphs">1864.85</text>
<text x="7.3" y="328.5" font-family="'Liberation Sans',Arial,sans-serif" font-size="9.6" fill="#000" stroke="#000" stroke-width="0.12" textLength="13.1" lengthAdjust="spacingAndGlyphs">4B</text>
<line x1="21" y1="325.5" x2="23" y2="325.5" stroke="#999"/>
<text x="7.3" y="349.55" font-family="'Liberation Sans',Arial,sans-serif" font-size="9.6" fill="#000" stroke="#000" stroke-width="0.12" textLength="13.1" lengthAdjust="spacingAndGlyphs">3B</text>
<line x1="21" y1="346.5" x2="23" y2="346.5" stroke="#999"/>
<text x="7.3" y="370.6" font-family="'Liberation Sans',Arial,sans-serif" font-size="9.6" fill="#000" stroke="#000" stroke-width="0.12" textLength="13.1" lengthAdjust="spacingAndGlyphs">2B</text>
<line x1="21" y1="367.5" x2="23" y2="367.5" stroke="#999"/>
<text x="8.1" y="391.65" font-family="'Liberation Sans',Arial,sans-serif" font-size="9.6" fill="#000" stroke="#000" stroke-width="0.12" textLength="12.3" lengthAdjust="spacingAndGlyphs">1B</text>
<line x1="21" y1="388.5" x2="23" y2="388.5" stroke="#999"/>
<text x="24.5" y="420.9" text-anchor="middle" font-family="'Liberation Sans',Arial,sans-serif" font-size="10.0" fill="#000" stroke="#000" stroke-width="0.12">21</text>
<text x="49.5" y="420.9" text-anchor="middle" font-family="'Liberation Sans',Arial,sans-serif" font-size="10.0" fill="#000" stroke="#000" stroke-width="0.12">28</text>
<text x="69.5" y="420.9" text-anchor="middle" font-family="'Liberation Sans',Arial,sans-serif" font-size="10.4" font-weight="bold" fill="#000" stroke="#000" stroke-width="0.25">Nov</text>
<text x="99.5" y="420.9" text-anchor="middle" font-family="'Liberation Sans',Arial,sans-serif" font-size="10.0" fill="#000" stroke="#000" stroke-width="0.12">11</text>
<text x="124.5" y="420.9" text-anchor="middle" font-family="'Liberation Sans',Arial,sans-serif" font-size="10.0" fill="#000" stroke="#000" stroke-width="0.12">18</text>
<text x="149.5" y="420.9" text-anchor="middle" font-family="'Liberation Sans',Arial,sans-serif" font-size="10.0" fill="#000" stroke="#000" stroke-width="0.12">25</text>
<text x="169.5" y="420.9" text-anchor="middle" font-family="'Liberation Sans',Arial,sans-serif" font-size="10.4" font-weight="bold" fill="#000" stroke="#000" stroke-width="0.25">Dec</text>
<text x="194.5" y="420.9" text-anchor="middle" font-family="'Liberation Sans',Arial,sans-serif" font-size="10.0" fill="#000" stroke="#000" stroke-width="0.12">9</text>
<text x="219.5" y="420.9" text-anchor="middle" font-family="'Liberation Sans',Arial,sans-serif" font-size="10.0" fill="#000" stroke="#000" stroke-width="0.12">16</text>
<text x="244.5" y="420.9" text-anchor="middle" font-family="'Liberation Sans',Arial,sans-serif" font-size="10.0" fill="#000" stroke="#000" stroke-width="0.12">23</text>
<text x="274.5" y="420.9" text-anchor="middle" font-family="'Liberation Sans',Arial,sans-serif" font-size="10.4" font-weight="bold" fill="#000" stroke="#000" stroke-width="0.25">2014</text>
<text x="309.5" y="420.9" text-anchor="middle" font-family="'Liberation Sans',Arial,sans-serif" font-size="10.0" fill="#000" stroke="#000" stroke-width="0.12">13</text>
<text x="334.5" y="420.9" text-anchor="middle" font-family="'Liberation Sans',Arial,sans-serif" font-size="10.0" fill="#000" stroke="#000" stroke-width="0.12">21</text>
<text x="354.5" y="420.9" text-anchor="middle" font-family="'Liberation Sans',Arial,sans-serif" font-size="10.0" fill="#000" stroke="#000" stroke-width="0.12">27</text>
<text x="379.5" y="420.9" text-anchor="middle" font-family="'Liberation Sans',Arial,sans-serif" font-size="10.4" font-weight="bold" fill="#000" stroke="#000" stroke-width="0.25">Feb</text>
<text x="404.5" y="420.9" text-anchor="middle" font-family="'Liberation Sans',Arial,sans-serif" font-size="10.0" fill="#000" stroke="#000" stroke-width="0.12">10</text>
<text x="429.5" y="420.9" text-anchor="middle" font-family="'Liberation Sans',Arial,sans-serif" font-size="10.0" fill="#000" stroke="#000" stroke-width="0.12">18</text>
<text x="449.5" y="420.9" text-anchor="middle" font-family="'Liberation Sans',Arial,sans-serif" font-size="10.0" fill="#000" stroke="#000" stroke-width="0.12">24</text>
<text x="474.5" y="420.9" text-anchor="middle" font-family="'Liberation Sans',Arial,sans-serif" font-size="10.4" font-weight="bold" fill="#000" stroke="#000" stroke-width="0.25">Mar</text>
<text x="499.5" y="420.9" text-anchor="middle" font-family="'Liberation Sans',Arial,sans-serif" font-size="10.0" fill="#000" stroke="#000" stroke-width="0.12">10</text>
<text x="524.5" y="420.9" text-anchor="middle" font-family="'Liberation Sans',Arial,sans-serif" font-size="10.0" fill="#000" stroke="#000" stroke-width="0.12">17</text>
<text x="549.5" y="420.9" text-anchor="middle" font-family="'Liberation Sans',Arial,sans-serif" font-size="10.0" fill="#000" stroke="#000" stroke-width="0.12">24</text>
<text x="579.5" y="420.9" text-anchor="middle" font-family="'Liberation Sans',Arial,sans-serif" font-size="10.4" font-weight="bold" fill="#000" stroke="#000" stroke-width="0.25">Apr</text>
<text x="599.5" y="420.9" text-anchor="middle" font-family="'Liberation Sans',Arial,sans-serif" font-size="10.0" fill="#000" stroke="#000" stroke-width="0.12">7</text>
<text x="624.5" y="420.9" text-anchor="middle" font-family="'Liberation Sans',Arial,sans-serif" font-size="10.0" fill="#000" stroke="#000" stroke-width="0.12">14</text>
<text x="24.5" y="633" text-anchor="middle" font-family="'Liberation Sans',Arial,sans-serif" font-size="10.0" fill="#000" stroke="#000" stroke-width="0.12">21</text>
<text x="49.5" y="633" text-anchor="middle" font-family="'Liberation Sans',Arial,sans-serif" font-size="10.0" fill="#000" stroke="#000" stroke-width="0.12">28</text>
<text x="69.5" y="633" text-anchor="middle" font-family="'Liberation Sans',Arial,sans-serif" font-size="10.4" font-weight="bold" fill="#000" stroke="#000" stroke-width="0.25">Nov</text>
<text x="99.5" y="633" text-anchor="middle" font-family="'Liberation Sans',Arial,sans-serif" font-size="10.0" fill="#000" stroke="#000" stroke-width="0.12">11</text>
<text x="124.5" y="633" text-anchor="middle" font-family="'Liberation Sans',Arial,sans-serif" font-size="10.0" fill="#000" stroke="#000" stroke-width="0.12">18</text>
<text x="149.5" y="633" text-anchor="middle" font-family="'Liberation Sans',Arial,sans-serif" font-size="10.0" fill="#000" stroke="#000" stroke-width="0.12">25</text>
<text x="169.5" y="633" text-anchor="middle" font-family="'Liberation Sans',Arial,sans-serif" font-size="10.4" font-weight="bold" fill="#000" stroke="#000" stroke-width="0.25">Dec</text>
<text x="194.5" y="633" text-anchor="middle" font-family="'Liberation Sans',Arial,sans-serif" font-size="10.0" fill="#000" stroke="#000" stroke-width="0.12">9</text>
<text x="219.5" y="633" text-anchor="middle" font-family="'Liberation Sans',Arial,sans-serif" font-size="10.0" fill="#000" stroke="#000" stroke-width="0.12">16</text>
<text x="244.5" y="633" text-anchor="middle" font-family="'Liberation Sans',Arial,sans-serif" font-size="10.0" fill="#000" stroke="#000" stroke-width="0.12">23</text>
<text x="274.5" y="633" text-anchor="middle" font-family="'Liberation Sans',Arial,sans-serif" font-size="10.4" font-weight="bold" fill="#000" stroke="#000" stroke-width="0.25">2014</text>
<text x="309.5" y="633" text-anchor="middle" font-family="'Liberation Sans',Arial,sans-serif" font-size="10.0" fill="#000" stroke="#000" stroke-width="0.12">13</text>
<text x="334.5" y="633" text-anchor="middle" font-family="'Liberation Sans',Arial,sans-serif" font-size="10.0" fill="#000" stroke="#000" stroke-width="0.12">21</text>
<text x="354.5" y="633" text-anchor="middle" font-family="'Liberation Sans',Arial,sans-serif" font-size="10.0" fill="#000" stroke="#000" stroke-width="0.12">27</text>
<text x="379.5" y="633" text-anchor="middle" font-family="'Liberation Sans',Arial,sans-serif" font-size="10.4" font-weight="bold" fill="#000" stroke="#000" stroke-width="0.25">Feb</text>
<text x="404.5" y="633" text-anchor="middle" font-family="'Liberation Sans',Arial,sans-serif" font-size="10.0" fill="#000" stroke="#000" stroke-width="0.12">10</text>
<text x="429.5" y="633" text-anchor="middle" font-family="'Liberation Sans',Arial,sans-serif" font-size="10.0" fill="#000" stroke="#000" stroke-width="0.12">18</text>
<text x="449.5" y="633" text-anchor="middle" font-family="'Liberation Sans',Arial,sans-serif" font-size="10.0" fill="#000" stroke="#000" stroke-width="0.12">24</text>
<text x="474.5" y="633" text-anchor="middle" font-family="'Liberation Sans',Arial,sans-serif" font-size="10.4" font-weight="bold" fill="#000" stroke="#000" stroke-width="0.25">Mar</text>
<text x="499.5" y="633" text-anchor="middle" font-family="'Liberation Sans',Arial,sans-serif" font-size="10.0" fill="#000" stroke="#000" stroke-width="0.12">10</text>
<text x="524.5" y="633" text-anchor="middle" font-family="'Liberation Sans',Arial,sans-serif" font-size="10.0" fill="#000" stroke="#000" stroke-width="0.12">17</text>
<text x="549.5" y="633" text-anchor="middle" font-family="'Liberation Sans',Arial,sans-serif" font-size="10.0" fill="#000" stroke="#000" stroke-width="0.12">24</text>
<text x="579.5" y="633" text-anchor="middle" font-family="'Liberation Sans',Arial,sans-serif" font-size="10.4" font-weight="bold" fill="#000" stroke="#000" stroke-width="0.25">Apr</text>
<text x="599.5" y="633" text-anchor="middle" font-family="'Liberation Sans',Arial,sans-serif" font-size="10.0" fill="#000" stroke="#000" stroke-width="0.12">7</text>
<text x="624.5" y="633" text-anchor="middle" font-family="'Liberation Sans',Arial,sans-serif" font-size="10.0" fill="#000" stroke="#000" stroke-width="0.12">14</text>
<line x1="25.5" y1="409.5" x2="25.5" y2="411.5" stroke="#b0b0b0"/>
<line x1="25.5" y1="422.5" x2="25.5" y2="424.5" stroke="#b0b0b0"/>
<line x1="25.5" y1="622.5" x2="25.5" y2="624.5" stroke="#b0b0b0"/>
<line x1="30.5" y1="409.5" x2="30.5" y2="411.5" stroke="#b0b0b0"/>
<line x1="30.5" y1="422.5" x2="30.5" y2="424.5" stroke="#b0b0b0"/>
<line x1="30.5" y1="622.5" x2="30.5" y2="624.5" stroke="#b0b0b0"/>
<line x1="35.5" y1="409.5" x2="35.5" y2="411.5" stroke="#b0b0b0"/>
<line x1="35.5" y1="422.5" x2="35.5" y2="424.5" stroke="#b0b0b0"/>
<line x1="35.5" y1="622.5" x2="35.5" y2="624.5" stroke="#b0b0b0"/>
<line x1="40.5" y1="409.5" x2="40.5" y2="411.5" stroke="#b0b0b0"/>
<line x1="40.5" y1="422.5" x2="40.5" y2="424.5" stroke="#b0b0b0"/>
<line x1="40.5" y1="622.5" x2="40.5" y2="624.5" stroke="#b0b0b0"/>
<line x1="45.5" y1="409.5" x2="45.5" y2="411.5" stroke="#b0b0b0"/>
<line x1="45.5" y1="422.5" x2="45.5" y2="424.5" stroke="#b0b0b0"/>
<line x1="45.5" y1="622.5" x2="45.5" y2="624.5" stroke="#b0b0b0"/>
<line x1="50.5" y1="409.5" x2="50.5" y2="411.5" stroke="#b0b0b0"/>
<line x1="50.5" y1="422.5" x2="50.5" y2="424.5" stroke="#b0b0b0"/>
<line x1="50.5" y1="622.5" x2="50.5" y2="624.5" stroke="#b0b0b0"/>
<line x1="55.5" y1="409.5" x2="55.5" y2="411.5" stroke="#b0b0b0"/>
<line x1="55.5" y1="422.5" x2="55.5" y2="424.5" stroke="#b0b0b0"/>
<line x1="55.5" y1="622.5" x2="55.5" y2="624.5" stroke="#b0b0b0"/>
<line x1="60.5" y1="409.5" x2="60.5" y2="411.5" stroke="#b0b0b0"/>
<line x1="60.5" y1="422.5" x2="60.5" y2="424.5" stroke="#b0b0b0"/>
<line x1="60.5" y1="622.5" x2="60.5" y2="624.5" stroke="#b0b0b0"/>
<line x1="65.5" y1="409.5" x2="65.5" y2="411.5" stroke="#b0b0b0"/>
<line x1="65.5" y1="422.5" x2="65.5" y2="424.5" stroke="#b0b0b0"/>
<line x1="65.5" y1="622.5" x2="65.5" y2="624.5" stroke="#b0b0b0"/>
<line x1="70.5" y1="409.5" x2="70.5" y2="411.5" stroke="#b0b0b0"/>
<line x1="70.5" y1="422.5" x2="70.5" y2="424.5" stroke="#b0b0b0"/>
<line x1="70.5" y1="622.5" x2="70.5" y2="624.5" stroke="#b0b0b0"/>
<line x1="75.5" y1="409.5" x2="75.5" y2="411.5" stroke="#b0b0b0"/>
<line x1="75.5" y1="422.5" x2="75.5" y2="424.5" stroke="#b0b0b0"/>
<line x1="75.5" y1="622.5" x2="75.5" y2="624.5" stroke="#b0b0b0"/>
<line x1="80.5" y1="409.5" x2="80.5" y2="411.5" stroke="#b0b0b0"/>
<line x1="80.5" y1="422.5" x2="80.5" y2="424.5" stroke="#b0b0b0"/>
<line x1="80.5" y1="622.5" x2="80.5" y2="624.5" stroke="#b0b0b0"/>
<line x1="85.5" y1="409.5" x2="85.5" y2="411.5" stroke="#b0b0b0"/>
<line x1="85.5" y1="422.5" x2="85.5" y2="424.5" stroke="#b0b0b0"/>
<line x1="85.5" y1="622.5" x2="85.5" y2="624.5" stroke="#b0b0b0"/>
<line x1="90.5" y1="409.5" x2="90.5" y2="411.5" stroke="#b0b0b0"/>
<line x1="90.5" y1="422.5" x2="90.5" y2="424.5" stroke="#b0b0b0"/>
<line x1="90.5" y1="622.5" x2="90.5" y2="624.5" stroke="#b0b0b0"/>
<line x1="95.5" y1="409.5" x2="95.5" y2="411.5" stroke="#b0b0b0"/>
<line x1="95.5" y1="422.5" x2="95.5" y2="424.5" stroke="#b0b0b0"/>
<line x1="95.5" y1="622.5" x2="95.5" y2="624.5" stroke="#b0b0b0"/>
<line x1="100.5" y1="409.5" x2="100.5" y2="411.5" stroke="#b0b0b0"/>
<line x1="100.5" y1="422.5" x2="100.5" y2="424.5" stroke="#b0b0b0"/>
<line x1="100.5" y1="622.5" x2="100.5" y2="624.5" stroke="#b0b0b0"/>
<line x1="105.5" y1="409.5" x2="105.5" y2="411.5" stroke="#b0b0b0"/>
<line x1="105.5" y1="422.5" x2="105.5" y2="424.5" stroke="#b0b0b0"/>
<line x1="105.5" y1="622.5" x2="105.5" y2="624.5" stroke="#b0b0b0"/>
<line x1="110.5" y1="409.5" x2="110.5" y2="411.5" stroke="#b0b0b0"/>
<line x1="110.5" y1="422.5" x2="110.5" y2="424.5" stroke="#b0b0b0"/>
<line x1="110.5" y1="622.5" x2="110.5" y2="624.5" stroke="#b0b0b0"/>
<line x1="115.5" y1="409.5" x2="115.5" y2="411.5" stroke="#b0b0b0"/>
<line x1="115.5" y1="422.5" x2="115.5" y2="424.5" stroke="#b0b0b0"/>
<line x1="115.5" y1="622.5" x2="115.5" y2="624.5" stroke="#b0b0b0"/>
<line x1="120.5" y1="409.5" x2="120.5" y2="411.5" stroke="#b0b0b0"/>
<line x1="120.5" y1="422.5" x2="120.5" y2="424.5" stroke="#b0b0b0"/>
<line x1="120.5" y1="622.5" x2="120.5" y2="624.5" stroke="#b0b0b0"/>
<line x1="125.5" y1="409.5" x2="125.5" y2="411.5" stroke="#b0b0b0"/>
<line x1="125.5" y1="422.5" x2="125.5" y2="424.5" stroke="#b0b0b0"/>
<line x1="125.5" y1="622.5" x2="125.5" y2="624.5" stroke="#b0b0b0"/>
<line x1="130.5" y1="409.5" x2="130.5" y2="411.5" stroke="#b0b0b0"/>
<line x1="130.5" y1="422.5" x2="130.5" y2="424.5" stroke="#b0b0b0"/>
<line x1="130.5" y1="622.5" x2="130.5" y2="624.5" stroke="#b0b0b0"/>
<line x1="135.5" y1="409.5" x2="135.5" y2="411.5" stroke="#b0b0b0"/>
<line x1="135.5" y1="422.5" x2="135.5" y2="424.5" stroke="#b0b0b0"/>
<line x1="135.5" y1="622.5" x2="135.5" y2="624.5" stroke="#b0b0b0"/>
<line x1="140.5" y1="409.5" x2="140.5" y2="411.5" stroke="#b0b0b0"/>
<line x1="140.5" y1="422.5" x2="140.5" y2="424.5" stroke="#b0b0b0"/>
<line x1="140.5" y1="622.5" x2="140.5" y2="624.5" stroke="#b0b0b0"/>
<line x1="145.5" y1="409.5" x2="145.5" y2="411.5" stroke="#b0b0b0"/>
<line x1="145.5" y1="422.5" x2="145.5" y2="424.5" stroke="#b0b0b0"/>
<line x1="145.5" y1="622.5" x2="145.5" y2="624.5" stroke="#b0b0b0"/>
<line x1="150.5" y1="409.5" x2="150.5" y2="411.5" stroke="#b0b0b0"/>
<line x1="150.5" y1="422.5" x2="150.5" y2="424.5" stroke="#b0b0b0"/>
<line x1="150.5" y1="622.5" x2="150.5" y2="624.5" stroke="#b0b0b0"/>
<line x1="155.5" y1="409.5" x2="155.5" y2="411.5" stroke="#b0b0b0"/>
<line x1="155.5" y1="422.5" x2="155.5" y2="424.5" stroke="#b0b0b0"/>
<line x1="155.5" y1="622.5" x2="155.5" y2="624.5" stroke="#b0b0b0"/>
<line x1="160.5" y1="409.5" x2="160.5" y2="411.5" stroke="#b0b0b0"/>
<line x1="160.5" y1="422.5" x2="160.5" y2="424.5" stroke="#b0b0b0"/>
<line x1="160.5" y1="622.5" x2="160.5" y2="624.5" stroke="#b0b0b0"/>
<line x1="165.5" y1="409.5" x2="165.5" y2="411.5" stroke="#b0b0b0"/>
<line x1="165.5" y1="422.5" x2="165.5" y2="424.5" stroke="#b0b0b0"/>
<line x1="165.5" y1="622.5" x2="165.5" y2="624.5" stroke="#b0b0b0"/>
<line x1="170.5" y1="409.5" x2="170.5" y2="411.5" stroke="#b0b0b0"/>
<line x1="170.5" y1="422.5" x2="170.5" y2="424.5" stroke="#b0b0b0"/>
<line x1="170.5" y1="622.5" x2="170.5" y2="624.5" stroke="#b0b0b0"/>
<line x1="175.5" y1="409.5" x2="175.5" y2="411.5" stroke="#b0b0b0"/>
<line x1="175.5" y1="422.5" x2="175.5" y2="424.5" stroke="#b0b0b0"/>
<line x1="175.5" y1="622.5" x2="175.5" y2="624.5" stroke="#b0b0b0"/>
<line x1="180.5" y1="409.5" x2="180.5" y2="411.5" stroke="#b0b0b0"/>
<line x1="180.5" y1="422.5" x2="180.5" y2="424.5" stroke="#b0b0b0"/>
<line x1="180.5" y1="622.5" x2="180.5" y2="624.5" stroke="#b0b0b0"/>
<line x1="185.5" y1="409.5" x2="185.5" y2="411.5" stroke="#b0b0b0"/>
<line x1="185.5" y1="422.5" x2="185.5" y2="424.5" stroke="#b0b0b0"/>
<line x1="185.5" y1="622.5" x2="185.5" y2="624.5" stroke="#b0b0b0"/>
<line x1="190.5" y1="409.5" x2="190.5" y2="411.5" stroke="#b0b0b0"/>
<line x1="190.5" y1="422.5" x2="190.5" y2="424.5" stroke="#b0b0b0"/>
<line x1="190.5" y1="622.5" x2="190.5" y2="624.5" stroke="#b0b0b0"/>
<line x1="195.5" y1="409.5" x2="195.5" y2="411.5" stroke="#b0b0b0"/>
<line x1="195.5" y1="422.5" x2="195.5" y2="424.5" stroke="#b0b0b0"/>
<line x1="195.5" y1="622.5" x2="195.5" y2="624.5" stroke="#b0b0b0"/>
<line x1="200.5" y1="409.5" x2="200.5" y2="411.5" stroke="#b0b0b0"/>
<line x1="200.5" y1="422.5" x2="200.5" y2="424.5" stroke="#b0b0b0"/>
<line x1="200.5" y1="622.5" x2="200.5" y2="624.5" stroke="#b0b0b0"/>
<line x1="205.5" y1="409.5" x2="205.5" y2="411.5" stroke="#b0b0b0"/>
<line x1="205.5" y1="422.5" x2="205.5" y2="424.5" stroke="#b0b0b0"/>
<line x1="205.5" y1="622.5" x2="205.5" y2="624.5" stroke="#b0b0b0"/>
<line x1="210.5" y1="409.5" x2="210.5" y2="411.5" stroke="#b0b0b0"/>
<line x1="210.5" y1="422.5" x2="210.5" y2="424.5" stroke="#b0b0b0"/>
<line x1="210.5" y1="622.5" x2="210.5" y2="624.5" stroke="#b0b0b0"/>
<line x1="215.5" y1="409.5" x2="215.5" y2="411.5" stroke="#b0b0b0"/>
<line x1="215.5" y1="422.5" x2="215.5" y2="424.5" stroke="#b0b0b0"/>
<line x1="215.5" y1="622.5" x2="215.5" y2="624.5" stroke="#b0b0b0"/>
<line x1="220.5" y1="409.5" x2="220.5" y2="411.5" stroke="#b0b0b0"/>
<line x1="220.5" y1="422.5" x2="220.5" y2="424.5" stroke="#b0b0b0"/>
<line x1="220.5" y1="622.5" x2="220.5" y2="624.5" stroke="#b0b0b0"/>
<line x1="225.5" y1="409.5" x2="225.5" y2="411.5" stroke="#b0b0b0"/>
<line x1="225.5" y1="422.5" x2="225.5" y2="424.5" stroke="#b0b0b0"/>
<line x1="225.5" y1="622.5" x2="225.5" y2="624.5" stroke="#b0b0b0"/>
<line x1="230.5" y1="409.5" x2="230.5" y2="411.5" stroke="#b0b0b0"/>
<line x1="230.5" y1="422.5" x2="230.5" y2="424.5" stroke="#b0b0b0"/>
<line x1="230.5" y1="622.5" x2="230.5" y2="624.5" stroke="#b0b0b0"/>
<line x1="235.5" y1="409.5" x2="235.5" y2="411.5" stroke="#b0b0b0"/>
<line x1="235.5" y1="422.5" x2="235.5" y2="424.5" stroke="#b0b0b0"/>
<line x1="235.5" y1="622.5" x2="235.5" y2="624.5" stroke="#b0b0b0"/>
<line x1="240.5" y1="409.5" x2="240.5" y2="411.5" stroke="#b0b0b0"/>
<line x1="240.5" y1="422.5" x2="240.5" y2="424.5" stroke="#b0b0b0"/>
<line x1="240.5" y1="622.5" x2="240.5" y2="624.5" stroke="#b0b0b0"/>
<line x1="245.5" y1="409.5" x2="245.5" y2="411.5" stroke="#b0b0b0"/>
<line x1="245.5" y1="422.5" x2="245.5" y2="424.5" stroke="#b0b0b0"/>
<line x1="245.5" y1="622.5" x2="245.5" y2="624.5" stroke="#b0b0b0"/>
<line x1="250.5" y1="409.5" x2="250.5" y2="411.5" stroke="#b0b0b0"/>
<line x1="250.5" y1="422.5" x2="250.5" y2="424.5" stroke="#b0b0b0"/>
<line x1="250.5" y1="622.5" x2="250.5" y2="624.5" stroke="#b0b0b0"/>
<line x1="255.5" y1="409.5" x2="255.5" y2="411.5" stroke="#b0b0b0"/>
<line x1="255.5" y1="422.5" x2="255.5" y2="424.5" stroke="#b0b0b0"/>
<line x1="255.5" y1="622.5" x2="255.5" y2="624.5" stroke="#b0b0b0"/>
<line x1="260.5" y1="409.5" x2="260.5" y2="411.5" stroke="#b0b0b0"/>
<line x1="260.5" y1="422.5" x2="260.5" y2="424.5" stroke="#b0b0b0"/>
<line x1="260.5" y1="622.5" x2="260.5" y2="624.5" stroke="#b0b0b0"/>
<line x1="265.5" y1="409.5" x2="265.5" y2="411.5" stroke="#b0b0b0"/>
<line x1="265.5" y1="422.5" x2="265.5" y2="424.5" stroke="#b0b0b0"/>
<line x1="265.5" y1="622.5" x2="265.5" y2="624.5" stroke="#b0b0b0"/>
<line x1="270.5" y1="409.5" x2="270.5" y2="411.5" stroke="#b0b0b0"/>
<line x1="270.5" y1="422.5" x2="270.5" y2="424.5" stroke="#b0b0b0"/>
<line x1="270.5" y1="622.5" x2="270.5" y2="624.5" stroke="#b0b0b0"/>
<line x1="275.5" y1="409.5" x2="275.5" y2="411.5" stroke="#b0b0b0"/>
<line x1="275.5" y1="422.5" x2="275.5" y2="424.5" stroke="#b0b0b0"/>
<line x1="275.5" y1="622.5" x2="275.5" y2="624.5" stroke="#b0b0b0"/>
<line x1="280.5" y1="409.5" x2="280.5" y2="411.5" stroke="#b0b0b0"/>
<line x1="280.5" y1="422.5" x2="280.5" y2="424.5" stroke="#b0b0b0"/>
<line x1="280.5" y1="622.5" x2="280.5" y2="624.5" stroke="#b0b0b0"/>
<line x1="285.5" y1="409.5" x2="285.5" y2="411.5" stroke="#b0b0b0"/>
<line x1="285.5" y1="422.5" x2="285.5" y2="424.5" stroke="#b0b0b0"/>
<line x1="285.5" y1="622.5" x2="285.5" y2="624.5" stroke="#b0b0b0"/>
<line x1="290.5" y1="409.5" x2="290.5" y2="411.5" stroke="#b0b0b0"/>
<line x1="290.5" y1="422.5" x2="290.5" y2="424.5" stroke="#b0b0b0"/>
<line x1="290.5" y1="622.5" x2="290.5" y2="624.5" stroke="#b0b0b0"/>
<line x1="295.5" y1="409.5" x2="295.5" y2="411.5" stroke="#b0b0b0"/>
<line x1="295.5" y1="422.5" x2="295.5" y2="424.5" stroke="#b0b0b0"/>
<line x1="295.5" y1="622.5" x2="295.5" y2="624.5" stroke="#b0b0b0"/>
<line x1="300.5" y1="409.5" x2="300.5" y2="411.5" stroke="#b0b0b0"/>
<line x1="300.5" y1="422.5" x2="300.5" y2="424.5" stroke="#b0b0b0"/>
<line x1="300.5" y1="622.5" x2="300.5" y2="624.5" stroke="#b0b0b0"/>
<line x1="305.5" y1="409.5" x2="305.5" y2="411.5" stroke="#b0b0b0"/>
<line x1="305.5" y1="422.5" x2="305.5" y2="424.5" stroke="#b0b0b0"/>
<line x1="305.5" y1="622.5" x2="305.5" y2="624.5" stroke="#b0b0b0"/>
<line x1="310.5" y1="409.5" x2="310.5" y2="411.5" stroke="#b0b0b0"/>
<line x1="310.5" y1="422.5" x2="310.5" y2="424.5" stroke="#b0b0b0"/>
<line x1="310.5" y1="622.5" x2="310.5" y2="624.5" stroke="#b0b0b0"/>
<line x1="315.5" y1="409.5" x2="315.5" y2="411.5" stroke="#b0b0b0"/>
<line x1="315.5" y1="422.5" x2="315.5" y2="424.5" stroke="#b0b0b0"/>
<line x1="315.5" y1="622.5" x2="315.5" y2="624.5" stroke="#b0b0b0"/>
<line x1="320.5" y1="409.5" x2="320.5" y2="411.5" stroke="#b0b0b0"/>
<line x1="320.5" y1="422.5" x2="320.5" y2="424.5" stroke="#b0b0b0"/>
<line x1="320.5" y1="622.5" x2="320.5" y2="624.5" stroke="#b0b0b0"/>
<line x1="325.5" y1="409.5" x2="325.5" y2="411.5" stroke="#b0b0b0"/>
<line x1="325.5" y1="422.5" x2="325.5" y2="424.5" stroke="#b0b0b0"/>
<line x1="325.5" y1="622.5" x2="325.5" y2="624.5" stroke="#b0b0b0"/>
<line x1="330.5" y1="409.5" x2="330.5" y2="411.5" stroke="#b0b0b0"/>
<line x1="330.5" y1="422.5" x2="330.5" y2="424.5" stroke="#b0b0b0"/>
<line x1="330.5" y1="622.5" x2="330.5" y2="624.5" stroke="#b0b0b0"/>
<line x1="335.5" y1="409.5" x2="335.5" y2="411.5" stroke="#b0b0b0"/>
<line x1="335.5" y1="422.5" x2="335.5" y2="424.5" stroke="#b0b0b0"/>
<line x1="335.5" y1="622.5" x2="335.5" y2="624.5" stroke="#b0b0b0"/>
<line x1="340.5" y1="409.5" x2="340.5" y2="411.5" stroke="#b0b0b0"/>
<line x1="340.5" y1="422.5" x2="340.5" y2="424.5" stroke="#b0b0b0"/>
<line x1="340.5" y1="622.5" x2="340.5" y2="624.5" stroke="#b0b0b0"/>
<line x1="345.5" y1="409.5" x2="345.5" y2="411.5" stroke="#b0b0b0"/>
<line x1="345.5" y1="422.5" x2="345.5" y2="424.5" stroke="#b0b0b0"/>
<line x1="345.5" y1="622.5" x2="345.5" y2="624.5" stroke="#b0b0b0"/>
<line x1="350.5" y1="409.5" x2="350.5" y2="411.5" stroke="#b0b0b0"/>
<line x1="350.5" y1="422.5" x2="350.5" y2="424.5" stroke="#b0b0b0"/>
<line x1="350.5" y1="622.5" x2="350.5" y2="624.5" stroke="#b0b0b0"/>
<line x1="355.5" y1="409.5" x2="355.5" y2="411.5" stroke="#b0b0b0"/>
<line x1="355.5" y1="422.5" x2="355.5" y2="424.5" stroke="#b0b0b0"/>
<line x1="355.5" y1="622.5" x2="355.5" y2="624.5" stroke="#b0b0b0"/>
<line x1="360.5" y1="409.5" x2="360.5" y2="411.5" stroke="#b0b0b0"/>
<line x1="360.5" y1="422.5" x2="360.5" y2="424.5" stroke="#b0b0b0"/>
<line x1="360.5" y1="622.5" x2="360.5" y2="624.5" stroke="#b0b0b0"/>
<line x1="365.5" y1="409.5" x2="365.5" y2="411.5" stroke="#b0b0b0"/>
<line x1="365.5" y1="422.5" x2="365.5" y2="424.5" stroke="#b0b0b0"/>
<line x1="365.5" y1="622.5" x2="365.5" y2="624.5" stroke="#b0b0b0"/>
<line x1="370.5" y1="409.5" x2="370.5" y2="411.5" stroke="#b0b0b0"/>
<line x1="370.5" y1="422.5" x2="370.5" y2="424.5" stroke="#b0b0b0"/>
<line x1="370.5" y1="622.5" x2="370.5" y2="624.5" stroke="#b0b0b0"/>
<line x1="375.5" y1="409.5" x2="375.5" y2="411.5" stroke="#b0b0b0"/>
<line x1="375.5" y1="422.5" x2="375.5" y2="424.5" stroke="#b0b0b0"/>
<line x1="375.5" y1="622.5" x2="375.5" y2="624.5" stroke="#b0b0b0"/>
<line x1="380.5" y1="409.5" x2="380.5" y2="411.5" stroke="#b0b0b0"/>
<line x1="380.5" y1="422.5" x2="380.5" y2="424.5" stroke="#b0b0b0"/>
<line x1="380.5" y1="622.5" x2="380.5" y2="624.5" stroke="#b0b0b0"/>
<line x1="385.5" y1="409.5" x2="385.5" y2="411.5" stroke="#b0b0b0"/>
<line x1="385.5" y1="422.5" x2="385.5" y2="424.5" stroke="#b0b0b0"/>
<line x1="385.5" y1="622.5" x2="385.5" y2="624.5" stroke="#b0b0b0"/>
<line x1="390.5" y1="409.5" x2="390.5" y2="411.5" stroke="#b0b0b0"/>
<line x1="390.5" y1="422.5" x2="390.5" y2="424.5" stroke="#b0b0b0"/>
<line x1="390.5" y1="622.5" x2="390.5" y2="624.5" stroke="#b0b0b0"/>
<line x1="395.5" y1="409.5" x2="395.5" y2="411.5" stroke="#b0b0b0"/>
<line x1="395.5" y1="422.5" x2="395.5" y2="424.5" stroke="#b0b0b0"/>
<line x1="395.5" y1="622.5" x2="395.5" y2="624.5" stroke="#b0b0b0"/>
<line x1="400.5" y1="409.5" x2="400.5" y2="411.5" stroke="#b0b0b0"/>
<line x1="400.5" y1="422.5" x2="400.5" y2="424.5" stroke="#b0b0b0"/>
<line x1="400.5" y1="622.5" x2="400.5" y2="624.5" stroke="#b0b0b0"/>
<line x1="405.5" y1="409.5" x2="405.5" y2="411.5" stroke="#b0b0b0"/>
<line x1="405.5" y1="422.5" x2="405.5" y2="424.5" stroke="#b0b0b0"/>
<line x1="405.5" y1="622.5" x2="405.5" y2="624.5" stroke="#b0b0b0"/>
<line x1="410.5" y1="409.5" x2="410.5" y2="411.5" stroke="#b0b0b0"/>
<line x1="410.5" y1="422.5" x2="410.5" y2="424.5" stroke="#b0b0b0"/>
<line x1="410.5" y1="622.5" x2="410.5" y2="624.5" stroke="#b0b0b0"/>
<line x1="415.5" y1="409.5" x2="415.5" y2="411.5" stroke="#b0b0b0"/>
<line x1="415.5" y1="422.5" x2="415.5" y2="424.5" stroke="#b0b0b0"/>
<line x1="415.5" y1="622.5" x2="415.5" y2="624.5" stroke="#b0b0b0"/>
<line x1="420.5" y1="409.5" x2="420.5" y2="411.5" stroke="#b0b0b0"/>
<line x1="420.5" y1="422.5" x2="420.5" y2="424.5" stroke="#b0b0b0"/>
<line x1="420.5" y1="622.5" x2="420.5" y2="624.5" stroke="#b0b0b0"/>
<line x1="425.5" y1="409.5" x2="425.5" y2="411.5" stroke="#b0b0b0"/>
<line x1="425.5" y1="422.5" x2="425.5" y2="424.5" stroke="#b0b0b0"/>
<line x1="425.5" y1="622.5" x2="425.5" y2="624.5" stroke="#b0b0b0"/>
<line x1="430.5" y1="409.5" x2="430.5" y2="411.5" stroke="#b0b0b0"/>
<line x1="430.5" y1="422.5" x2="430.5" y2="424.5" stroke="#b0b0b0"/>
<line x1="430.5" y1="622.5" x2="430.5" y2="624.5" stroke="#b0b0b0"/>
<line x1="435.5" y1="409.5" x2="435.5" y2="411.5" stroke="#b0b0b0"/>
<line x1="435.5" y1="422.5" x2="435.5" y2="424.5" stroke="#b0b0b0"/>
<line x1="435.5" y1="622.5" x2="435.5" y2="624.5" stroke="#b0b0b0"/>
<line x1="440.5" y1="409.5" x2="440.5" y2="411.5" stroke="#b0b0b0"/>
<line x1="440.5" y1="422.5" x2="440.5" y2="424.5" stroke="#b0b0b0"/>
<line x1="440.5" y1="622.5" x2="440.5" y2="624.5" stroke="#b0b0b0"/>
<line x1="445.5" y1="409.5" x2="445.5" y2="411.5" stroke="#b0b0b0"/>
<line x1="445.5" y1="422.5" x2="445.5" y2="424.5" stroke="#b0b0b0"/>
<line x1="445.5" y1="622.5" x2="445.5" y2="624.5" stroke="#b0b0b0"/>
<line x1="450.5" y1="409.5" x2="450.5" y2="411.5" stroke="#b0b0b0"/>
<line x1="450.5" y1="422.5" x2="450.5" y2="424.5" stroke="#b0b0b0"/>
<line x1="450.5" y1="622.5" x2="450.5" y2="624.5" stroke="#b0b0b0"/>
<line x1="455.5" y1="409.5" x2="455.5" y2="411.5" stroke="#b0b0b0"/>
<line x1="455.5" y1="422.5" x2="455.5" y2="424.5" stroke="#b0b0b0"/>
<line x1="455.5" y1="622.5" x2="455.5" y2="624.5" stroke="#b0b0b0"/>
<line x1="460.5" y1="409.5" x2="460.5" y2="411.5" stroke="#b0b0b0"/>
<line x1="460.5" y1="422.5" x2="460.5" y2="424.5" stroke="#b0b0b0"/>
<line x1="460.5" y1="622.5" x2="460.5" y2="624.5" stroke="#b0b0b0"/>
<line x1="465.5" y1="409.5" x2="465.5" y2="411.5" stroke="#b0b0b0"/>
<line x1="465.5" y1="422.5" x2="465.5" y2="424.5" stroke="#b0b0b0"/>
<line x1="465.5" y1="622.5" x2="465.5" y2="624.5" stroke="#b0b0b0"/>
<line x1="470.5" y1="409.5" x2="470.5" y2="411.5" stroke="#b0b0b0"/>
<line x1="470.5" y1="422.5" x2="470.5" y2="424.5" stroke="#b0b0b0"/>
<line x1="470.5" y1="622.5" x2="470.5" y2="624.5" stroke="#b0b0b0"/>
<line x1="475.5" y1="409.5" x2="475.5" y2="411.5" stroke="#b0b0b0"/>
<line x1="475.5" y1="422.5" x2="475.5" y2="424.5" stroke="#b0b0b0"/>
<line x1="475.5" y1="622.5" x2="475.5" y2="624.5" stroke="#b0b0b0"/>
<line x1="480.5" y1="409.5" x2="480.5" y2="411.5" stroke="#b0b0b0"/>
<line x1="480.5" y1="422.5" x2="480.5" y2="424.5" stroke="#b0b0b0"/>
<line x1="480.5" y1="622.5" x2="480.5" y2="624.5" stroke="#b0b0b0"/>
<line x1="485.5" y1="409.5" x2="485.5" y2="411.5" stroke="#b0b0b0"/>
<line x1="485.5" y1="422.5" x2="485.5" y2="424.5" stroke="#b0b0b0"/>
<line x1="485.5" y1="622.5" x2="485.5" y2="624.5" stroke="#b0b0b0"/>
<line x1="490.5" y1="409.5" x2="490.5" y2="411.5" stroke="#b0b0b0"/>
<line x1="490.5" y1="422.5" x2="490.5" y2="424.5" stroke="#b0b0b0"/>
<line x1="490.5" y1="622.5" x2="490.5" y2="624.5" stroke="#b0b0b0"/>
<line x1="495.5" y1="409.5" x2="495.5" y2="411.5" stroke="#b0b0b0"/>
<line x1="495.5" y1="422.5" x2="495.5" y2="424.5" stroke="#b0b0b0"/>
<line x1="495.5" y1="622.5" x2="495.5" y2="624.5" stroke="#b0b0b0"/>
<line x1="500.5" y1="409.5" x2="500.5" y2="411.5" stroke="#b0b0b0"/>
<line x1="500.5" y1="422.5" x2="500.5" y2="424.5" stroke="#b0b0b0"/>
<line x1="500.5" y1="622.5" x2="500.5" y2="624.5" stroke="#b0b0b0"/>
<line x1="505.5" y1="409.5" x2="505.5" y2="411.5" stroke="#b0b0b0"/>
<line x1="505.5" y1="422.5" x2="505.5" y2="424.5" stroke="#b0b0b0"/>
<line x1="505.5" y1="622.5" x2="505.5" y2="624.5" stroke="#b0b0b0"/>
<line x1="510.5" y1="409.5" x2="510.5" y2="411.5" stroke="#b0b0b0"/>
<line x1="510.5" y1="422.5" x2="510.5" y2="424.5" stroke="#b0b0b0"/>
<line x1="510.5" y1="622.5" x2="510.5" y2="624.5" stroke="#b0b0b0"/>
<line x1="515.5" y1="409.5" x2="515.5" y2="411.5" stroke="#b0b0b0"/>
<line x1="515.5" y1="422.5" x2="515.5" y2="424.5" stroke="#b0b0b0"/>
<line x1="515.5" y1="622.5" x2="515.5" y2="624.5" stroke="#b0b0b0"/>
<line x1="520.5" y1="409.5" x2="520.5" y2="411.5" stroke="#b0b0b0"/>
<line x1="520.5" y1="422.5" x2="520.5" y2="424.5" stroke="#b0b0b0"/>
<line x1="520.5" y1="622.5" x2="520.5" y2="624.5" stroke="#b0b0b0"/>
<line x1="525.5" y1="409.5" x2="525.5" y2="411.5" stroke="#b0b0b0"/>
<line x1="525.5" y1="422.5" x2="525.5" y2="424.5" stroke="#b0b0b0"/>
<line x1="525.5" y1="622.5" x2="525.5" y2="624.5" stroke="#b0b0b0"/>
<line x1="530.5" y1="409.5" x2="530.5" y2="411.5" stroke="#b0b0b0"/>
<line x1="530.5" y1="422.5" x2="530.5" y2="424.5" stroke="#b0b0b0"/>
<line x1="530.5" y1="622.5" x2="530.5" y2="624.5" stroke="#b0b0b0"/>
<line x1="535.5" y1="409.5" x2="535.5" y2="411.5" stroke="#b0b0b0"/>
<line x1="535.5" y1="422.5" x2="535.5" y2="424.5" stroke="#b0b0b0"/>
<line x1="535.5" y1="622.5" x2="535.5" y2="624.5" stroke="#b0b0b0"/>
<line x1="540.5" y1="409.5" x2="540.5" y2="411.5" stroke="#b0b0b0"/>
<line x1="540.5" y1="422.5" x2="540.5" y2="424.5" stroke="#b0b0b0"/>
<line x1="540.5" y1="622.5" x2="540.5" y2="624.5" stroke="#b0b0b0"/>
<line x1="545.5" y1="409.5" x2="545.5" y2="411.5" stroke="#b0b0b0"/>
<line x1="545.5" y1="422.5" x2="545.5" y2="424.5" stroke="#b0b0b0"/>
<line x1="545.5" y1="622.5" x2="545.5" y2="624.5" stroke="#b0b0b0"/>
<line x1="550.5" y1="409.5" x2="550.5" y2="411.5" stroke="#b0b0b0"/>
<line x1="550.5" y1="422.5" x2="550.5" y2="424.5" stroke="#b0b0b0"/>
<line x1="550.5" y1="622.5" x2="550.5" y2="624.5" stroke="#b0b0b0"/>
<line x1="555.5" y1="409.5" x2="555.5" y2="411.5" stroke="#b0b0b0"/>
<line x1="555.5" y1="422.5" x2="555.5" y2="424.5" stroke="#b0b0b0"/>
<line x1="555.5" y1="622.5" x2="555.5" y2="624.5" stroke="#b0b0b0"/>
<line x1="560.5" y1="409.5" x2="560.5" y2="411.5" stroke="#b0b0b0"/>
<line x1="560.5" y1="422.5" x2="560.5" y2="424.5" stroke="#b0b0b0"/>
<line x1="560.5" y1="622.5" x2="560.5" y2="624.5" stroke="#b0b0b0"/>
<line x1="565.5" y1="409.5" x2="565.5" y2="411.5" stroke="#b0b0b0"/>
<line x1="565.5" y1="422.5" x2="565.5" y2="424.5" stroke="#b0b0b0"/>
<line x1="565.5" y1="622.5" x2="565.5" y2="624.5" stroke="#b0b0b0"/>
<line x1="570.5" y1="409.5" x2="570.5" y2="411.5" stroke="#b0b0b0"/>
<line x1="570.5" y1="422.5" x2="570.5" y2="424.5" stroke="#b0b0b0"/>
<line x1="570.5" y1="622.5" x2="570.5" y2="624.5" stroke="#b0b0b0"/>
<line x1="575.5" y1="409.5" x2="575.5" y2="411.5" stroke="#b0b0b0"/>
<line x1="575.5" y1="422.5" x2="575.5" y2="424.5" stroke="#b0b0b0"/>
<line x1="575.5" y1="622.5" x2="575.5" y2="624.5" stroke="#b0b0b0"/>
<line x1="580.5" y1="409.5" x2="580.5" y2="411.5" stroke="#b0b0b0"/>
<line x1="580.5" y1="422.5" x2="580.5" y2="424.5" stroke="#b0b0b0"/>
<line x1="580.5" y1="622.5" x2="580.5" y2="624.5" stroke="#b0b0b0"/>
<line x1="585.5" y1="409.5" x2="585.5" y2="411.5" stroke="#b0b0b0"/>
<line x1="585.5" y1="422.5" x2="585.5" y2="424.5" stroke="#b0b0b0"/>
<line x1="585.5" y1="622.5" x2="585.5" y2="624.5" stroke="#b0b0b0"/>
<line x1="590.5" y1="409.5" x2="590.5" y2="411.5" stroke="#b0b0b0"/>
<line x1="590.5" y1="422.5" x2="590.5" y2="424.5" stroke="#b0b0b0"/>
<line x1="590.5" y1="622.5" x2="590.5" y2="624.5" stroke="#b0b0b0"/>
<line x1="595.5" y1="409.5" x2="595.5" y2="411.5" stroke="#b0b0b0"/>
<line x1="595.5" y1="422.5" x2="595.5" y2="424.5" stroke="#b0b0b0"/>
<line x1="595.5" y1="622.5" x2="595.5" y2="624.5" stroke="#b0b0b0"/>
<line x1="600.5" y1="409.5" x2="600.5" y2="411.5" stroke="#b0b0b0"/>
<line x1="600.5" y1="422.5" x2="600.5" y2="424.5" stroke="#b0b0b0"/>
<line x1="600.5" y1="622.5" x2="600.5" y2="624.5" stroke="#b0b0b0"/>
<line x1="605.5" y1="409.5" x2="605.5" y2="411.5" stroke="#b0b0b0"/>
<line x1="605.5" y1="422.5" x2="605.5" y2="424.5" stroke="#b0b0b0"/>
<line x1="605.5" y1="622.5" x2="605.5" y2="624.5" stroke="#b0b0b0"/>
<line x1="610.5" y1="409.5" x2="610.5" y2="411.5" stroke="#b0b0b0"/>
<line x1="610.5" y1="422.5" x2="610.5" y2="424.5" stroke="#b0b0b0"/>
<line x1="610.5" y1="622.5" x2="610.5" y2="624.5" stroke="#b0b0b0"/>
<line x1="615.5" y1="409.5" x2="615.5" y2="411.5" stroke="#b0b0b0"/>
<line x1="615.5" y1="422.5" x2="615.5" y2="424.5" stroke="#b0b0b0"/>
<line x1="615.5" y1="622.5" x2="615.5" y2="624.5" stroke="#b0b0b0"/>
<line x1="620.5" y1="409.5" x2="620.5" y2="411.5" stroke="#b0b0b0"/>
<line x1="620.5" y1="422.5" x2="620.5" y2="424.5" stroke="#b0b0b0"/>
<line x1="620.5" y1="622.5" x2="620.5" y2="624.5" stroke="#b0b0b0"/>
<line x1="625.5" y1="409.5" x2="625.5" y2="411.5" stroke="#b0b0b0"/>
<line x1="625.5" y1="422.5" x2="625.5" y2="424.5" stroke="#b0b0b0"/>
<line x1="625.5" y1="622.5" x2="625.5" y2="624.5" stroke="#b0b0b0"/>
<line x1="630.5" y1="409.5" x2="630.5" y2="411.5" stroke="#b0b0b0"/>
<line x1="630.5" y1="422.5" x2="630.5" y2="424.5" stroke="#b0b0b0"/>
<line x1="630.5" y1="622.5" x2="630.5" y2="624.5" stroke="#b0b0b0"/>
<line x1="635.5" y1="409.5" x2="635.5" y2="411.5" stroke="#b0b0b0"/>
<line x1="635.5" y1="422.5" x2="635.5" y2="424.5" stroke="#b0b0b0"/>
<line x1="635.5" y1="622.5" x2="635.5" y2="624.5" stroke="#b0b0b0"/>
<line x1="640.5" y1="409.5" x2="640.5" y2="411.5" stroke="#b0b0b0"/>
<line x1="640.5" y1="422.5" x2="640.5" y2="424.5" stroke="#b0b0b0"/>
<line x1="640.5" y1="622.5" x2="640.5" y2="624.5" stroke="#b0b0b0"/>
<line x1="23.5" y1="434.5" x2="647.5" y2="434.5" stroke="#e6e6e6" stroke-width="1"/>
<line x1="23.5" y1="457.5" x2="647.5" y2="457.5" stroke="#e6e6e6" stroke-width="1"/>
<line x1="23.5" y1="479.5" x2="647.5" y2="479.5" stroke="#e6e6e6" stroke-width="1"/>
<line x1="23.5" y1="502.5" x2="647.5" y2="502.5" stroke="#e6e6e6" stroke-width="1"/>
<line x1="50.5" y1="424.5" x2="50.5" y2="523.5" stroke="#e6e6e6" stroke-width="1"/>
<line x1="75.5" y1="424.5" x2="75.5" y2="523.5" stroke="#e6e6e6" stroke-width="1"/>
<line x1="100.5" y1="424.5" x2="100.5" y2="523.5" stroke="#e6e6e6" stroke-width="1"/>
<line x1="125.5" y1="424.5" x2="125.5" y2="523.5" stroke="#e6e6e6" stroke-width="1"/>
<line x1="150.5" y1="424.5" x2="150.5" y2="523.5" stroke="#e6e6e6" stroke-width="1"/>
<line x1="195.5" y1="424.5" x2="195.5" y2="523.5" stroke="#e6e6e6" stroke-width="1"/>
<line x1="220.5" y1="424.5" x2="220.5" y2="523.5" stroke="#e6e6e6" stroke-width="1"/>
<line x1="245.5" y1="424.5" x2="245.5" y2="523.5" stroke="#e6e6e6" stroke-width="1"/>
<line x1="265.5" y1="424.5" x2="265.5" y2="523.5" stroke="#e6e6e6" stroke-width="1"/>
<line x1="285.5" y1="424.5" x2="285.5" y2="523.5" stroke="#e6e6e6" stroke-width="1"/>
<line x1="310.5" y1="424.5" x2="310.5" y2="523.5" stroke="#e6e6e6" stroke-width="1"/>
<line x1="335.5" y1="424.5" x2="335.5" y2="523.5" stroke="#e6e6e6" stroke-width="1"/>
<line x1="355.5" y1="424.5" x2="355.5" y2="523.5" stroke="#e6e6e6" stroke-width="1"/>
<line x1="405.5" y1="424.5" x2="405.5" y2="523.5" stroke="#e6e6e6" stroke-width="1"/>
<line x1="430.5" y1="424.5" x2="430.5" y2="523.5" stroke="#e6e6e6" stroke-width="1"/>
<line x1="450.5" y1="424.5" x2="450.5" y2="523.5" stroke="#e6e6e6" stroke-width="1"/>
<line x1="500.5" y1="424.5" x2="500.5" y2="523.5" stroke="#e6e6e6" stroke-width="1"/>
<line x1="525.5" y1="424.5" x2="525.5" y2="523.5" stroke="#e6e6e6" stroke-width="1"/>
<line x1="550.5" y1="424.5" x2="550.5" y2="523.5" stroke="#e6e6e6" stroke-width="1"/>
<line x1="575.5" y1="424.5" x2="575.5" y2="523.5" stroke="#e6e6e6" stroke-width="1"/>
<line x1="600.5" y1="424.5" x2="600.5" y2="523.5" stroke="#e6e6e6" stroke-width="1"/>
<line x1="625.5" y1="424.5" x2="625.5" y2="523.5" stroke="#e6e6e6" stroke-width="1"/>
<line x1="70.5" y1="424.5" x2="70.5" y2="523.5" stroke="#c4c4c4" stroke-width="1"/>
<line x1="170.5" y1="424.5" x2="170.5" y2="523.5" stroke="#c4c4c4" stroke-width="1"/>
<line x1="275.5" y1="424.5" x2="275.5" y2="523.5" stroke="#c4c4c4" stroke-width="1"/>
<line x1="380.5" y1="424.5" x2="380.5" y2="523.5" stroke="#c4c4c4" stroke-width="1"/>
<line x1="475.5" y1="424.5" x2="475.5" y2="523.5" stroke="#c4c4c4" stroke-width="1"/>
<line x1="580.5" y1="424.5" x2="580.5" y2="523.5" stroke="#c4c4c4" stroke-width="1"/>
<g clip-path="url(#cpD)">
<rect x="23.5" y="465.5" width="5" height="15" fill="#4aa2d2" stroke="#22648c" stroke-width="1"/>
<rect x="28.5" y="464.5" width="5" height="16" fill="#4aa2d2" stroke="#22648c" stroke-width="1"/>
<rect x="33.5" y="465.5" width="5" height="15" fill="#4aa2d2" stroke="#22648c" stroke-width="1"/>
<rect x="38.5" y="466.5" width="5" height="14" fill="#4aa2d2" stroke="#22648c" stroke-width="1"/>
<rect x="43.5" y="467.5" width="5" height="13" fill="#4aa2d2" stroke="#22648c" stroke-width="1"/>
<rect x="48.5" y="468.5" width="5" height="12" fill="#4aa2d2" stroke="#22648c" stroke-width="1"/>
<rect x="53.5" y="468.5" width="5" height="12" fill="#4aa2d2" stroke="#22648c" stroke-width="1"/>
<rect x="58.5" y="470.5" width="5" height="10" fill="#4aa2d2" stroke="#22648c" stroke-width="1"/>
<rect x="63.5" y="473.5" width="5" height="7" fill="#4aa2d2" stroke="#22648c" stroke-width="1"/>
<rect x="68.5" y="475.5" width="5" height="5" fill="#4aa2d2" stroke="#22648c" stroke-width="1"/>
<rect x="73.5" y="476.5" width="5" height="4" fill="#4aa2d2" stroke="#22648c" stroke-width="1"/>
<rect x="78.5" y="478.5" width="5" height="2" fill="#4aa2d2" stroke="#22648c" stroke-width="1"/>
<rect x="83.5" y="479.5" width="5" height="1" fill="#4aa2d2" stroke="#22648c" stroke-width="1"/>
<rect x="88.5" y="480.5" width="5" height="3" fill="#4aa2d2" stroke="#22648c" stroke-width="1"/>
<rect x="93.5" y="480.5" width="5" height="2" fill="#4aa2d2" stroke="#22648c" stroke-width="1"/>
<rect x="98.5" y="480.5" width="5" height="2" fill="#4aa2d2" stroke="#22648c" stroke-width="1"/>
<rect x="103.5" y="480.5" width="5" height="3" fill="#4aa2d2" stroke="#22648c" stroke-width="1"/>
<rect x="108.5" y="480.5" width="5" height="1" fill="#4aa2d2" stroke="#22648c" stroke-width="1"/>
<rect x="113.5" y="479.5" width="5" height="1" fill="#4aa2d2" stroke="#22648c" stroke-width="1"/>
<rect x="118.5" y="478.5" width="5" height="2" fill="#4aa2d2" stroke="#22648c" stroke-width="1"/>
<rect x="123.5" y="478.5" width="5" height="2" fill="#4aa2d2" stroke="#22648c" stroke-width="1"/>
<rect x="128.5" y="479.5" width="5" height="1" fill="#4aa2d2" stroke="#22648c" stroke-width="1"/>
<rect x="133.5" y="480.5" width="5" height="1" fill="#4aa2d2" stroke="#22648c" stroke-width="1"/>
<rect x="138.5" y="480.5" width="5" height="1" fill="#4aa2d2" stroke="#22648c" stroke-width="1"/>
<rect x="143.5" y="479.5" width="5" height="1" fill="#4aa2d2" stroke="#22648c" stroke-width="1"/>
<rect x="148.5" y="479.5" width="5" height="1" fill="#4aa2d2" stroke="#22648c" stroke-width="1"/>
<rect x="153.5" y="480.5" width="5" height="1" fill="#4aa2d2" stroke="#22648c" stroke-width="1"/>
<rect x="158.5" y="480.5" width="5" height="1" fill="#4aa2d2" stroke="#22648c" stroke-width="1"/>
<rect x="163.5" y="480.5" width="5" height="1" fill="#4aa2d2" stroke="#22648c" stroke-width="1"/>
<rect x="168.5" y="480.5" width="5" height="2" fill="#4aa2d2" stroke="#22648c" stroke-width="1"/>
<rect x="173.5" y="480.5" width="5" height="4" fill="#4aa2d2" stroke="#22648c" stroke-width="1"/>
<rect x="178.5" y="480.5" width="5" height="5" fill="#4aa2d2" stroke="#22648c" stroke-width="1"/>
<rect x="183.5" y="480.5" width="5" height="8" fill="#4aa2d2" stroke="#22648c" stroke-width="1"/>
<rect x="188.5" y="480.5" width="5" height="6" fill="#4aa2d2" stroke="#22648c" stroke-width="1"/>
<rect x="193.5" y="480.5" width="5" height="5" fill="#4aa2d2" stroke="#22648c" stroke-width="1"/>
<rect x="198.5" y="480.5" width="5" height="5" fill="#4aa2d2" stroke="#22648c" stroke-width="1"/>
<rect x="203.5" y="480.5" width="5" height="8" fill="#4aa2d2" stroke="#22648c" stroke-width="1"/>
<rect x="208.5" y="480.5" width="5" height="10" fill="#4aa2d2" stroke="#22648c" stroke-width="1"/>
<rect x="213.5" y="480.5" width="5" height="12" fill="#4aa2d2" stroke="#22648c" stroke-width="1"/>
<rect x="218.5" y="480.5" width="5" height="11" fill="#4aa2d2" stroke="#22648c" stroke-width="1"/>
<rect x="223.5" y="480.5" width="5" height="10" fill="#4aa2d2" stroke="#22648c" stroke-width="1"/>
<rect x="228.5" y="480.5" width="5" height="6" fill="#4aa2d2" stroke="#22648c" stroke-width="1"/>
<rect x="233.5" y="480.5" width="5" height="3" fill="#4aa2d2" stroke="#22648c" stroke-width="1"/>
<rect x="238.5" y="479.5" width="5" height="1" fill="#4aa2d2" stroke="#22648c" stroke-width="1"/>
<rect x="243.5" y="476.5" width="5" height="4" fill="#4aa2d2" stroke="#22648c" stroke-width="1"/>
<rect x="248.5" y="474.5" width="5" height="6" fill="#4aa2d2" stroke="#22648c" stroke-width="1"/>
<rect x="253.5" y="472.5" width="5" height="8" fill="#4aa2d2" stroke="#22648c" stroke-width="1"/>
<rect x="258.5" y="471.5" width="5" height="9" fill="#4aa2d2" stroke="#22648c" stroke-width="1"/>
<rect x="263.5" y="471.5" width="5" height="9" fill="#4aa2d2" stroke="#22648c" stroke-width="1"/>
<rect x="268.5" y="471.5" width="5" height="9" fill="#4aa2d2" stroke="#22648c" stroke-width="1"/>
<rect x="273.5" y="474.5" width="5" height="6" fill="#4aa2d2" stroke="#22648c" stroke-width="1"/>
<rect x="278.5" y="477.5" width="5" height="3" fill="#4aa2d2" stroke="#22648c" stroke-width="1"/>
<rect x="283.5" y="479.5" width="5" height="1" fill="#4aa2d2" stroke="#22648c" stroke-width="1"/>
<rect x="288.5" y="480.5" width="5" height="1" fill="#4aa2d2" stroke="#22648c" stroke-width="1"/>
<rect x="293.5" y="480.5" width="5" height="1" fill="#4aa2d2" stroke="#22648c" stroke-width="1"/>
<rect x="298.5" y="480.5" width="5" height="1" fill="#4aa2d2" stroke="#22648c" stroke-width="1"/>
<rect x="303.5" y="480.5" width="5" height="1" fill="#4aa2d2" stroke="#22648c" stroke-width="1"/>
<rect x="308.5" y="480.5" width="5" height="4" fill="#4aa2d2" stroke="#22648c" stroke-width="1"/>
<rect x="313.5" y="480.5" width="5" height="4" fill="#4aa2d2" stroke="#22648c" stroke-width="1"/>
<rect x="318.5" y="480.5" width="5" height="2" fill="#4aa2d2" stroke="#22648c" stroke-width="1"/>
<rect x="323.5" y="480.5" width="5" height="2" fill="#4aa2d2" stroke="#22648c" stroke-width="1"/>
<rect x="328.5" y="480.5" width="5" height="2" fill="#4aa2d2" stroke="#22648c" stroke-width="1"/>
<rect x="333.5" y="480.5" width="5" height="2" fill="#4aa2d2" stroke="#22648c" stroke-width="1"/>
<rect x="338.5" y="480.5" width="5" height="2" fill="#4aa2d2" stroke="#22648c" stroke-width="1"/>
<rect x="343.5" y="480.5" width="5" height="5" fill="#4aa2d2" stroke="#22648c" stroke-width="1"/>
<rect x="348.5" y="480.5" width="5" height="12" fill="#4aa2d2" stroke="#22648c" stroke-width="1"/>
<rect x="353.5" y="480.5" width="5" height="17" fill="#4aa2d2" stroke="#22648c" stroke-width="1"/>
<rect x="358.5" y="480.5" width="5" height="18" fill="#4aa2d2" stroke="#22648c" stroke-width="1"/>
<rect x="363.5" y="480.5" width="5" height="20" fill="#4aa2d2" stroke="#22648c" stroke-width="1"/>
<rect x="368.5" y="480.5" width="5" height="18" fill="#4aa2d2" stroke="#22648c" stroke-width="1"/>
<rect x="373.5" y="480.5" width="5" height="17" fill="#4aa2d2" stroke="#22648c" stroke-width="1"/>
<rect x="378.5" y="480.5" width="5" height="22" fill="#4aa2d2" stroke="#22648c" stroke-width="1"/>
<rect x="383.5" y="480.5" width="5" height="22" fill="#4aa2d2" stroke="#22648c" stroke-width="1"/>
<rect x="388.5" y="480.5" width="5" height="21" fill="#4aa2d2" stroke="#22648c" stroke-width="1"/>
<rect x="393.5" y="480.5" width="5" height="16" fill="#4aa2d2" stroke="#22648c" stroke-width="1"/>
<rect x="398.5" y="480.5" width="5" height="8" fill="#4aa2d2" stroke="#22648c" stroke-width="1"/>
<rect x="403.5" y="480.5" width="5" height="2" fill="#4aa2d2" stroke="#22648c" stroke-width="1"/>
<rect x="408.5" y="475.5" width="5" height="5" fill="#4aa2d2" stroke="#22648c" stroke-width="1"/>
<rect x="413.5" y="471.5" width="5" height="9" fill="#4aa2d2" stroke="#22648c" stroke-width="1"/>
<rect x="418.5" y="467.5" width="5" height="13" fill="#4aa2d2" stroke="#22648c" stroke-width="1"/>
<rect x="423.5" y="464.5" width="5" height="16" fill="#4aa2d2" stroke="#22648c" stroke-width="1"/>
<rect x="428.5" y="462.5" width="5" height="18" fill="#4aa2d2" stroke="#22648c" stroke-width="1"/>
<rect x="433.5" y="464.5" width="5" height="16" fill="#4aa2d2" stroke="#22648c" stroke-width="1"/>
<rect x="438.5" y="464.5" width="5" height="16" fill="#4aa2d2" stroke="#22648c" stroke-width="1"/>
<rect x="443.5" y="466.5" width="5" height="14" fill="#4aa2d2" stroke="#22648c" stroke-width="1"/>
<rect x="448.5" y="466.5" width="5" height="14" fill="#4aa2d2" stroke="#22648c" stroke-width="1"/>
<rect x="453.5" y="467.5" width="5" height="13" fill="#4aa2d2" stroke="#22648c" stroke-width="1"/>
<rect x="458.5" y="468.5" width="5" height="12" fill="#4aa2d2" stroke="#22648c" stroke-width="1"/>
<rect x="463.5" y="469.5" width="5" height="11" fill="#4aa2d2" stroke="#22648c" stroke-width="1"/>
<rect x="468.5" y="469.5" width="5" height="11" fill="#4aa2d2" stroke="#22648c" stroke-width="1"/>
<rect x="473.5" y="472.5" width="5" height="8" fill="#4aa2d2" stroke="#22648c" stroke-width="1"/>
<rect x="478.5" y="470.5" width="5" height="10" fill="#4aa2d2" stroke="#22648c" stroke-width="1"/>
<rect x="483.5" y="470.5" width="5" height="10" fill="#4aa2d2" stroke="#22648c" stroke-width="1"/>
<rect x="488.5" y="470.5" width="5" height="10" fill="#4aa2d2" stroke="#22648c" stroke-width="1"/>
<rect x="493.5" y="470.5" width="5" height="10" fill="#4aa2d2" stroke="#22648c" stroke-width="1"/>
<rect x="498.5" y="472.5" width="5" height="8" fill="#4aa2d2" stroke="#22648c" stroke-width="1"/>
<rect x="503.5" y="475.5" width="5" height="5" fill="#4aa2d2" stroke="#22648c" stroke-width="1"/>
<rect x="508.5" y="477.5" width="5" height="3" fill="#4aa2d2" stroke="#22648c" stroke-width="1"/>
<rect x="513.5" y="480.5" width="5" height="2" fill="#4aa2d2" stroke="#22648c" stroke-width="1"/>
<rect x="518.5" y="480.5" width="5" height="6" fill="#4aa2d2" stroke="#22648c" stroke-width="1"/>
<rect x="523.5" y="480.5" width="5" height="6" fill="#4aa2d2" stroke="#22648c" stroke-width="1"/>
<rect x="528.5" y="480.5" width="5" height="4" fill="#4aa2d2" stroke="#22648c" stroke-width="1"/>
<rect x="533.5" y="480.5" width="5" height="5" fill="#4aa2d2" stroke="#22648c" stroke-width="1"/>
<rect x="538.5" y="480.5" width="5" height="3" fill="#4aa2d2" stroke="#22648c" stroke-width="1"/>
<rect x="543.5" y="480.5" width="5" height="3" fill="#4aa2d2" stroke="#22648c" stroke-width="1"/>
<rect x="548.5" y="480.5" width="5" height="5" fill="#4aa2d2" stroke="#22648c" stroke-width="1"/>
<rect x="553.5" y="480.5" width="5" height="4" fill="#4aa2d2" stroke="#22648c" stroke-width="1"/>
<rect x="558.5" y="480.5" width="5" height="6" fill="#4aa2d2" stroke="#22648c" stroke-width="1"/>
<rect x="563.5" y="480.5" width="5" height="7" fill="#4aa2d2" stroke="#22648c" stroke-width="1"/>
<rect x="568.5" y="480.5" width="5" height="7" fill="#4aa2d2" stroke="#22648c" stroke-width="1"/>
<rect x="573.5" y="480.5" width="5" height="4" fill="#4aa2d2" stroke="#22648c" stroke-width="1"/>
<rect x="578.5" y="480.5" width="5" height="1" fill="#4aa2d2" stroke="#22648c" stroke-width="1"/>
<rect x="583.5" y="478.5" width="5" height="2" fill="#4aa2d2" stroke="#22648c" stroke-width="1"/>
<rect x="588.5" y="476.5" width="5" height="4" fill="#4aa2d2" stroke="#22648c" stroke-width="1"/>
<rect x="593.5" y="479.5" width="5" height="1" fill="#4aa2d2" stroke="#22648c" stroke-width="1"/>
<rect x="598.5" y="480.5" width="5" height="4" fill="#4aa2d2" stroke="#22648c" stroke-width="1"/>
<rect x="603.5" y="480.5" width="5" height="6" fill="#4aa2d2" stroke="#22648c" stroke-width="1"/>
<rect x="608.5" y="480.5" width="5" height="5" fill="#4aa2d2" stroke="#22648c" stroke-width="1"/>
<rect x="613.5" y="480.5" width="5" height="9" fill="#4aa2d2" stroke="#22648c" stroke-width="1"/>
<rect x="618.5" y="480.5" width="5" height="14" fill="#4aa2d2" stroke="#22648c" stroke-width="1"/>
<rect x="623.5" y="480.5" width="5" height="14" fill="#4aa2d2" stroke="#22648c" stroke-width="1"/>
<rect x="628.5" y="480.5" width="5" height="12" fill="#4aa2d2" stroke="#22648c" stroke-width="1"/>
<rect x="633.5" y="480.5" width="5" height="7" fill="#4aa2d2" stroke="#22648c" stroke-width="1"/>
<rect x="638.5" y="480.5" width="5" height="3" fill="#4aa2d2" stroke="#22648c" stroke-width="1"/>
<polyline points="20.5,468.76 25.5,465.14 30.5,461.17 35.5,457.54 40.5,454.15 45.5,450.87 50.5,447.81 55.5,444.77 60.5,442.28 65.5,440.61 70.5,439.45 75.5,438.52 80.5,438.07 85.5,437.76 90.5,438.5 95.5,439.1 100.5,439.63 105.5,440.33 110.5,440.67 115.5,440.54 120.5,439.94 125.5,439.41 130.5,439.18 135.5,439.47 140.5,439.65 145.5,439.5 150.5,439.34 155.5,439.27 160.5,439.17 165.5,439.22 170.5,439.62 175.5,440.53 180.5,441.88 185.5,443.81 190.5,445.34 195.5,446.52 200.5,447.69 205.5,449.61 210.5,452.22 215.5,455.18 220.5,457.87 225.5,460.49 230.5,461.9 235.5,462.55 240.5,462.42 245.5,461.5 250.5,459.96 255.5,457.87 260.5,455.59 265.5,453.4 270.5,451.16 275.5,449.68 280.5,448.84 285.5,448.68 290.5,448.62 295.5,448.72 300.5,448.96 305.5,449.19 310.5,450.31 315.5,451.29 320.5,451.84 325.5,452.26 330.5,452.89 335.5,453.49 340.5,454.08 345.5,455.27 350.5,458.23 355.5,462.5 360.5,467.02 365.5,472.15 370.5,476.68 375.5,481.04 380.5,486.52 385.5,491.94 390.5,497.12 395.5,501.06 400.5,503.1 405.5,503.7 410.5,502.57 415.5,500.39 420.5,497.24 425.5,493.28 430.5,488.91 435.5,484.94 440.5,481.01 445.5,477.43 450.5,473.86 455.5,470.58 460.5,467.68 465.5,464.86 470.5,462.09 475.5,460.03 480.5,457.55 485.5,454.98 490.5,452.44 495.5,450.08 500.5,448.04 505.5,446.74 510.5,446.03 515.5,446.59 520.5,448.18 525.5,449.77 530.5,450.85 535.5,452.04 540.5,452.9 545.5,453.75 550.5,454.96 555.5,456.08 560.5,457.61 565.5,459.51 570.5,461.26 575.5,462.34 580.5,462.51 585.5,461.93 590.5,461.04 595.5,460.91 600.5,462.02 605.5,463.65 610.5,464.82 615.5,467.1 620.5,470.61 625.5,474.19 630.5,477.19 635.5,478.97 640.5,479.81" fill="none" stroke="#ff0000" stroke-width="1.2" stroke-linejoin="round"/>
<polyline points="20.5,455.62 25.5,450.67 30.5,445.31 35.5,443.01 40.5,440.59 45.5,437.75 50.5,435.57 55.5,432.58 60.5,432.35 65.5,433.94 70.5,434.79 75.5,434.82 80.5,436.26 85.5,436.52 90.5,441.46 95.5,441.5 100.5,441.74 105.5,443.13 110.5,442.03 115.5,440.03 120.5,437.55 125.5,437.29 130.5,438.24 135.5,440.65 140.5,440.34 145.5,438.93 150.5,438.71 155.5,438.96 160.5,438.8 165.5,439.41 170.5,441.24 175.5,444.16 180.5,447.28 185.5,451.51 190.5,451.5 195.5,451.22 200.5,452.37 205.5,457.3 210.5,462.64 215.5,467.05 220.5,468.61 225.5,470.98 230.5,467.53 235.5,465.17 240.5,461.9 245.5,457.78 250.5,453.84 255.5,449.47 260.5,446.5 265.5,444.62 270.5,442.22 275.5,443.74 280.5,445.47 285.5,448.04 290.5,448.4 295.5,449.12 300.5,449.91 305.5,450.1 310.5,454.81 315.5,455.2 320.5,454.06 325.5,453.91 330.5,455.4 335.5,455.92 340.5,456.41 345.5,460.04 350.5,470.06 355.5,479.6 360.5,485.1 365.5,492.67 370.5,494.82 375.5,498.44 380.5,508.48 385.5,513.59 390.5,517.86 395.5,516.81 400.5,511.27 405.5,506.07 410.5,498.07 415.5,491.68 420.5,484.63 425.5,477.44 430.5,471.45 435.5,469.04 440.5,465.27 445.5,463.12 450.5,459.57 455.5,457.47 460.5,456.07 465.5,453.58 470.5,451 475.5,451.8 480.5,447.62 485.5,444.73 490.5,442.28 495.5,440.61 500.5,439.91 505.5,441.54 510.5,443.16 515.5,448.82 520.5,454.56 525.5,456.13 530.5,455.18 535.5,456.81 540.5,456.31 545.5,457.18 550.5,459.77 555.5,460.55 560.5,463.75 565.5,467.08 570.5,468.28 575.5,466.67 580.5,463.17 585.5,459.63 590.5,457.48 595.5,460.36 600.5,466.48 605.5,470.18 610.5,469.5 615.5,476.2 620.5,484.66 625.5,488.52 630.5,489.19 635.5,486.1 640.5,483.14" fill="none" stroke="#000" stroke-width="1.7" stroke-linejoin="round"/>
</g>
<rect x="24" y="425" width="226" height="12" fill="#fff"/>
<line x1="25.8" y1="430.8" x2="34.9" y2="430.8" stroke="#000" stroke-width="2.2"/>
<text x="38.2" y="434.9" font-family="'DejaVu Sans','Liberation Sans',sans-serif" font-size="9.7" fill="#000" textLength="210.5" lengthAdjust="spacing">MACD(12,26,9) -1.421<tspan fill="#ff0000">, 0.041</tspan><tspan fill="#3399cc">, -1.462</tspan></text>
<text x="653.5" y="437.8" font-family="'Liberation Sans',Arial,sans-serif" font-size="9.7" fill="#000" stroke="#000" stroke-width="0.12" textLength="11.5" lengthAdjust="spacingAndGlyphs">20</text>
<text x="653.8" y="460.8" font-family="'Liberation Sans',Arial,sans-serif" font-size="9.7" fill="#000" stroke="#000" stroke-width="0.12" textLength="11.2" lengthAdjust="spacingAndGlyphs">10</text>
<text x="650.8" y="505.8" font-family="'Liberation Sans',Arial,sans-serif" font-size="9.7" fill="#000" stroke="#000" stroke-width="0.12" textLength="14.2" lengthAdjust="spacingAndGlyphs">-10</text>
<line x1="647.5" y1="514.5" x2="649.5" y2="514.5" stroke="#999"/>
<line x1="647.5" y1="502.5" x2="649.5" y2="502.5" stroke="#999"/>
<line x1="647.5" y1="491.5" x2="649.5" y2="491.5" stroke="#999"/>
<line x1="647.5" y1="479.5" x2="649.5" y2="479.5" stroke="#999"/>
<line x1="647.5" y1="468.5" x2="649.5" y2="468.5" stroke="#999"/>
<line x1="647.5" y1="457.5" x2="649.5" y2="457.5" stroke="#999"/>
<line x1="647.5" y1="445.5" x2="649.5" y2="445.5" stroke="#999"/>
<line x1="647.5" y1="434.5" x2="649.5" y2="434.5" stroke="#999"/>
<path d="M645.5 480.5 L649.5 475.5 H679 V485.5 H649.5 Z" fill="#fff" stroke="#ff0000" stroke-width="1.1"/>
<text x="650" y="483.8" font-family="'Liberation Sans',Arial,sans-serif" font-size="9.3" fill="#000" stroke="#000" stroke-width="0.12" textLength="26.9" lengthAdjust="spacingAndGlyphs">0.041</text>
<path d="M645.5 482.5 L649.5 477.5 H681.6 V487.5 H649.5 Z" fill="#fff" stroke="#000" stroke-width="1.1"/>
<text x="650" y="485.8" font-family="'Liberation Sans',Arial,sans-serif" font-size="9.3" fill="#000" stroke="#000" stroke-width="0.12" textLength="29.1" lengthAdjust="spacingAndGlyphs">-1.421</text>
<line x1="23.5" y1="539.5" x2="647.5" y2="539.5" stroke="#e6e6e6" stroke-width="1"/>
<line x1="23.5" y1="556.5" x2="647.5" y2="556.5" stroke="#e6e6e6" stroke-width="1"/>
<line x1="23.5" y1="564.5" x2="647.5" y2="564.5" stroke="#e6e6e6" stroke-width="1"/>
<line x1="23.5" y1="581.5" x2="647.5" y2="581.5" stroke="#e6e6e6" stroke-width="1"/>
<line x1="23.5" y1="590.5" x2="647.5" y2="590.5" stroke="#e6e6e6" stroke-width="1"/>
<line x1="23.5" y1="607.5" x2="647.5" y2="607.5" stroke="#e6e6e6" stroke-width="1"/>
<line x1="50.5" y1="523.5" x2="50.5" y2="622.5" stroke="#e6e6e6" stroke-width="1"/>
<line x1="75.5" y1="523.5" x2="75.5" y2="622.5" stroke="#e6e6e6" stroke-width="1"/>
<line x1="100.5" y1="523.5" x2="100.5" y2="622.5" stroke="#e6e6e6" stroke-width="1"/>
<line x1="125.5" y1="523.5" x2="125.5" y2="622.5" stroke="#e6e6e6" stroke-width="1"/>
<line x1="150.5" y1="523.5" x2="150.5" y2="622.5" stroke="#e6e6e6" stroke-width="1"/>
<line x1="195.5" y1="523.5" x2="195.5" y2="622.5" stroke="#e6e6e6" stroke-width="1"/>
<line x1="220.5" y1="523.5" x2="220.5" y2="622.5" stroke="#e6e6e6" stroke-width="1"/>
<line x1="245.5" y1="523.5" x2="245.5" y2="622.5" stroke="#e6e6e6" stroke-width="1"/>
<line x1="265.5" y1="523.5" x2="265.5" y2="622.5" stroke="#e6e6e6" stroke-width="1"/>
<line x1="285.5" y1="523.5" x2="285.5" y2="622.5" stroke="#e6e6e6" stroke-width="1"/>
<line x1="310.5" y1="523.5" x2="310.5" y2="622.5" stroke="#e6e6e6" stroke-width="1"/>
<line x1="335.5" y1="523.5" x2="335.5" y2="622.5" stroke="#e6e6e6" stroke-width="1"/>
<line x1="355.5" y1="523.5" x2="355.5" y2="622.5" stroke="#e6e6e6" stroke-width="1"/>
<line x1="405.5" y1="523.5" x2="405.5" y2="622.5" stroke="#e6e6e6" stroke-width="1"/>
<line x1="430.5" y1="523.5" x2="430.5" y2="622.5" stroke="#e6e6e6" stroke-width="1"/>
<line x1="450.5" y1="523.5" x2="450.5" y2="622.5" stroke="#e6e6e6" stroke-width="1"/>
<line x1="500.5" y1="523.5" x2="500.5" y2="622.5" stroke="#e6e6e6" stroke-width="1"/>
<line x1="525.5" y1="523.5" x2="525.5" y2="622.5" stroke="#e6e6e6" stroke-width="1"/>
<line x1="550.5" y1="523.5" x2="550.5" y2="622.5" stroke="#e6e6e6" stroke-width="1"/>
<line x1="575.5" y1="523.5" x2="575.5" y2="622.5" stroke="#e6e6e6" stroke-width="1"/>
<line x1="600.5" y1="523.5" x2="600.5" y2="622.5" stroke="#e6e6e6" stroke-width="1"/>
<line x1="625.5" y1="523.5" x2="625.5" y2="622.5" stroke="#e6e6e6" stroke-width="1"/>
<line x1="70.5" y1="523.5" x2="70.5" y2="622.5" stroke="#c4c4c4" stroke-width="1"/>
<line x1="170.5" y1="523.5" x2="170.5" y2="622.5" stroke="#c4c4c4" stroke-width="1"/>
<line x1="275.5" y1="523.5" x2="275.5" y2="622.5" stroke="#c4c4c4" stroke-width="1"/>
<line x1="380.5" y1="523.5" x2="380.5" y2="622.5" stroke="#c4c4c4" stroke-width="1"/>
<line x1="475.5" y1="523.5" x2="475.5" y2="622.5" stroke="#c4c4c4" stroke-width="1"/>
<line x1="580.5" y1="523.5" x2="580.5" y2="622.5" stroke="#c4c4c4" stroke-width="1"/>
<line x1="23.5" y1="573.5" x2="647.5" y2="573.5" stroke="#666" stroke-width="1" stroke-dasharray="7.2,2.7,2.3,2.6" stroke-dashoffset="3.1"/>
<g clip-path="url(#cpW)">
<clipPath id="cpG"><rect x="0" y="0" width="789" height="547.5"/></clipPath><clipPath id="cpRd"><rect x="0" y="598.5" width="789" height="200"/></clipPath>
<polygon clip-path="url(#cpG)" points="20.5,547.5 20.5,536.28 25.5,536.15 30.5,534.08 35.5,540.46 40.5,536.08 45.5,530.54 50.5,532.61 55.5,530.6 60.5,538.51 65.5,543.06 70.5,539.63 75.5,535.4 80.5,538.74 85.5,533.68 90.5,549.38 95.5,533.6 100.5,532.74 105.5,535.56 110.5,530.5 115.5,531.04 120.5,530.52 125.5,536.48 130.5,538.56 135.5,545.79 140.5,535.46 145.5,530.56 150.5,534.59 155.5,535.64 160.5,531.73 165.5,539.15 170.5,545.22 175.5,551.91 180.5,554.63 185.5,566.12 190.5,541.18 195.5,537.04 200.5,544.29 205.5,570.04 210.5,578.52 215.5,578.75 220.5,564.59 225.5,571.58 230.5,534.16 235.5,535.49 240.5,536.56 245.5,532.66 250.5,530.5 255.5,531.35 260.5,534.36 265.5,534.72 270.5,531.63 275.5,548.72 280.5,549.36 285.5,554.16 290.5,542.56 295.5,542.97 300.5,542.3 305.5,537.88 310.5,562.06 315.5,541.52 320.5,533.02 325.5,535.58 330.5,542.96 335.5,537.72 340.5,536.64 345.5,553.46 350.5,592.62 355.5,601.58 360.5,590.35 365.5,609.13 370.5,588.62 375.5,600.52 380.5,613.8 385.5,603.62 390.5,605.17 395.5,588.77 400.5,571.01 405.5,568.89 410.5,553.9 415.5,554.27 420.5,546.32 425.5,539.69 430.5,538.09 435.5,547.13 440.5,538.83 445.5,541.48 450.5,538.31 455.5,540.06 460.5,540.04 465.5,533.61 470.5,536.04 475.5,545.01 480.5,531.93 485.5,532.17 490.5,533.4 495.5,533.73 500.5,534.23 505.5,539.8 510.5,539.47 515.5,552.23 520.5,555.27 525.5,544.94 530.5,537.11 535.5,543.81 540.5,538.02 545.5,544.24 550.5,554.97 555.5,549.17 560.5,566.22 565.5,570.22 570.5,568.21 575.5,547.15 580.5,530.94 585.5,533.31 590.5,537.7 595.5,574.04 600.5,601.16 605.5,591.8 610.5,564.45 615.5,612.67 620.5,614.14 625.5,598.84 630.5,586.16 635.5,566.35 640.5,563.74 640.5,547.5" fill="#6f9a70"/>
<polygon clip-path="url(#cpRd)" points="20.5,598.5 20.5,536.28 25.5,536.15 30.5,534.08 35.5,540.46 40.5,536.08 45.5,530.54 50.5,532.61 55.5,530.6 60.5,538.51 65.5,543.06 70.5,539.63 75.5,535.4 80.5,538.74 85.5,533.68 90.5,549.38 95.5,533.6 100.5,532.74 105.5,535.56 110.5,530.5 115.5,531.04 120.5,530.52 125.5,536.48 130.5,538.56 135.5,545.79 140.5,535.46 145.5,530.56 150.5,534.59 155.5,535.64 160.5,531.73 165.5,539.15 170.5,545.22 175.5,551.91 180.5,554.63 185.5,566.12 190.5,541.18 195.5,537.04 200.5,544.29 205.5,570.04 210.5,578.52 215.5,578.75 220.5,564.59 225.5,571.58 230.5,534.16 235.5,535.49 240.5,536.56 245.5,532.66 250.5,530.5 255.5,531.35 260.5,534.36 265.5,534.72 270.5,531.63 275.5,548.72 280.5,549.36 285.5,554.16 290.5,542.56 295.5,542.97 300.5,542.3 305.5,537.88 310.5,562.06 315.5,541.52 320.5,533.02 325.5,535.58 330.5,542.96 335.5,537.72 340.5,536.64 345.5,553.46 350.5,592.62 355.5,601.58 360.5,590.35 365.5,609.13 370.5,588.62 375.5,600.52 380.5,613.8 385.5,603.62 390.5,605.17 395.5,588.77 400.5,571.01 405.5,568.89 410.5,553.9 415.5,554.27 420.5,546.32 425.5,539.69 430.5,538.09 435.5,547.13 440.5,538.83 445.5,541.48 450.5,538.31 455.5,540.06 460.5,540.04 465.5,533.61 470.5,536.04 475.5,545.01 480.5,531.93 485.5,532.17 490.5,533.4 495.5,533.73 500.5,534.23 505.5,539.8 510.5,539.47 515.5,552.23 520.5,555.27 525.5,544.94 530.5,537.11 535.5,543.81 540.5,538.02 545.5,544.24 550.5,554.97 555.5,549.17 560.5,566.22 565.5,570.22 570.5,568.21 575.5,547.15 580.5,530.94 585.5,533.31 590.5,537.7 595.5,574.04 600.5,601.16 605.5,591.8 610.5,564.45 615.5,612.67 620.5,614.14 625.5,598.84 630.5,586.16 635.5,566.35 640.5,563.74 640.5,598.5" fill="#a86a6a"/>
</g>
<line x1="23.5" y1="547.5" x2="647.5" y2="547.5" stroke="#5a5a5a" stroke-width="1"/>
<line x1="23.5" y1="598.5" x2="647.5" y2="598.5" stroke="#5a5a5a" stroke-width="1"/>
<g clip-path="url(#cpW)">
<polyline points="20.5,536.28 25.5,536.15 30.5,534.08 35.5,540.46 40.5,536.08 45.5,530.54 50.5,532.61 55.5,530.6 60.5,538.51 65.5,543.06 70.5,539.63 75.5,535.4 80.5,538.74 85.5,533.68 90.5,549.38 95.5,533.6 100.5,532.74 105.5,535.56 110.5,530.5 115.5,531.04 120.5,530.52 125.5,536.48 130.5,538.56 135.5,545.79 140.5,535.46 145.5,530.56 150.5,534.59 155.5,535.64 160.5,531.73 165.5,539.15 170.5,545.22 175.5,551.91 180.5,554.63 185.5,566.12 190.5,541.18 195.5,537.04 200.5,544.29 205.5,570.04 210.5,578.52 215.5,578.75 220.5,564.59 225.5,571.58 230.5,534.16 235.5,535.49 240.5,536.56 245.5,532.66 250.5,530.5 255.5,531.35 260.5,534.36 265.5,534.72 270.5,531.63 275.5,548.72 280.5,549.36 285.5,554.16 290.5,542.56 295.5,542.97 300.5,542.3 305.5,537.88 310.5,562.06 315.5,541.52 320.5,533.02 325.5,535.58 330.5,542.96 335.5,537.72 340.5,536.64 345.5,553.46 350.5,592.62 355.5,601.58 360.5,590.35 365.5,609.13 370.5,588.62 375.5,600.52 380.5,613.8 385.5,603.62 390.5,605.17 395.5,588.77 400.5,571.01 405.5,568.89 410.5,553.9 415.5,554.27 420.5,546.32 425.5,539.69 430.5,538.09 435.5,547.13 440.5,538.83 445.5,541.48 450.5,538.31 455.5,540.06 460.5,540.04 465.5,533.61 470.5,536.04 475.5,545.01 480.5,531.93 485.5,532.17 490.5,533.4 495.5,533.73 500.5,534.23 505.5,539.8 510.5,539.47 515.5,552.23 520.5,555.27 525.5,544.94 530.5,537.11 535.5,543.81 540.5,538.02 545.5,544.24 550.5,554.97 555.5,549.17 560.5,566.22 565.5,570.22 570.5,568.21 575.5,547.15 580.5,530.94 585.5,533.31 590.5,537.7 595.5,574.04 600.5,601.16 605.5,591.8 610.5,564.45 615.5,612.67 620.5,614.14 625.5,598.84 630.5,586.16 635.5,566.35 640.5,563.74" fill="none" stroke="#000" stroke-width="1.1" stroke-linejoin="round"/>
</g>
<rect x="24" y="524" width="121" height="12.3" fill="#fff"/>
<path d="M26 533.5 L28.5 526.2 L30.5 529.2 L32.5 525.7 L35.3 533.5 Z" fill="#6f9a6f" stroke="#1a1a1a" stroke-width="0.9" stroke-linejoin="round"/>
<text x="38.8" y="534.3" font-family="'DejaVu Sans','Liberation Sans',sans-serif" font-size="9.7" fill="#000" stroke="#000" stroke-width="0.12" textLength="105" lengthAdjust="spacing">Wm%R(30) -39.11</text>
<text x="650.6" y="550.8" font-family="'Liberation Sans',Arial,sans-serif" font-size="9.7" fill="#000" stroke="#000" stroke-width="0.12" textLength="14.8" lengthAdjust="spacingAndGlyphs">-20</text>
<text x="650.6" y="576.8" font-family="'Liberation Sans',Arial,sans-serif" font-size="9.7" fill="#000" stroke="#000" stroke-width="0.12" textLength="14.8" lengthAdjust="spacingAndGlyphs">-50</text>
<text x="650.6" y="601.8" font-family="'Liberation Sans',Arial,sans-serif" font-size="9.7" fill="#000" stroke="#000" stroke-width="0.12" textLength="14.8" lengthAdjust="spacingAndGlyphs">-80</text>
<line x1="647.5" y1="530.5" x2="649.5" y2="530.5" stroke="#999"/>
<line x1="647.5" y1="539.5" x2="649.5" y2="539.5" stroke="#999"/>
<line x1="647.5" y1="547.5" x2="649.5" y2="547.5" stroke="#999"/>
<line x1="647.5" y1="556.5" x2="649.5" y2="556.5" stroke="#999"/>
<line x1="647.5" y1="564.5" x2="649.5" y2="564.5" stroke="#999"/>
<line x1="647.5" y1="573.5" x2="649.5" y2="573.5" stroke="#999"/>
<line x1="647.5" y1="581.5" x2="649.5" y2="581.5" stroke="#999"/>
<line x1="647.5" y1="590.5" x2="649.5" y2="590.5" stroke="#999"/>
<line x1="647.5" y1="598.5" x2="649.5" y2="598.5" stroke="#999"/>
<line x1="647.5" y1="607.5" x2="649.5" y2="607.5" stroke="#999"/>
<line x1="647.5" y1="615.5" x2="649.5" y2="615.5" stroke="#999"/>
<path d="M645.5 564.5 L649.5 559.5 H681.6 V569.5 H649.5 Z" fill="#fff" stroke="#000" stroke-width="1.1"/>
<text x="650" y="567.8" font-family="'Liberation Sans',Arial,sans-serif" font-size="9.3" fill="#000" stroke="#000" stroke-width="0.12" textLength="29.1" lengthAdjust="spacingAndGlyphs">-39.11</text>
<rect x="23.5" y="28.5" width="624.0" height="99.0" fill="none" stroke="#a9a9a9" stroke-width="1"/>
<rect x="23.5" y="127.5" width="624.0" height="282.0" fill="none" stroke="#a9a9a9" stroke-width="1"/>
<rect x="23.5" y="424.5" width="624.0" height="99.0" fill="none" stroke="#a9a9a9" stroke-width="1"/>
<rect x="23.5" y="523.5" width="624.0" height="99.0" fill="none" stroke="#a9a9a9" stroke-width="1"/>
<g filter="url(#tsh)" font-family="'Liberation Serif','Times New Roman',serif" font-weight="bold" font-size="24" fill="#c4000f">
<text x="247.1" y="133.6" textLength="212" lengthAdjust="spacingAndGlyphs">RS is not great but is</text>
<text x="278.7" y="160.1" textLength="150.6" lengthAdjust="spacingAndGlyphs">climbing again</text>
</g>
<g filter="url(#tsh)" font-family="'Liberation Serif','Times New Roman',serif" font-weight="bold" font-size="24" fill="#c4000f">
<text x="690.6" y="59.8" textLength="79.5" lengthAdjust="spacingAndGlyphs">room to</text>
<text x="687.7" y="85.5" textLength="85.6" lengthAdjust="spacingAndGlyphs">get back</text>
<text x="707.7" y="111.1" textLength="45.4" lengthAdjust="spacingAndGlyphs">here</text>
</g>
<g filter="url(#tsh)" font-family="'Liberation Serif','Times New Roman',serif" font-weight="bold" font-size="24" fill="#c4000f">
<text x="695.4" y="307" textLength="78.9" lengthAdjust="spacingAndGlyphs">support</text>
<text x="712.3" y="332.7" textLength="43.5" lengthAdjust="spacingAndGlyphs">held</text>
</g>
<g filter="url(#tsh)" font-family="'Liberation Serif','Times New Roman',serif" font-weight="bold" font-size="24" fill="#c4000f">
<text x="670.9" y="432.9" textLength="103" lengthAdjust="spacingAndGlyphs">buy signal</text>
<text x="673.7" y="459.2" textLength="96.6" lengthAdjust="spacingAndGlyphs">imminent</text>
</g>
<g filter="url(#tsh)" font-family="'Liberation Serif','Times New Roman',serif" font-weight="bold" font-size="24" fill="#c4000f">
<text x="685.1" y="560.3" textLength="79.8" lengthAdjust="spacingAndGlyphs">room to</text>
<text x="699.7" y="585.8" textLength="52.2" lengthAdjust="spacingAndGlyphs">move</text>
</g>
<g filter="url(#ash)">
<line x1="477.2" y1="126.4" x2="600.83" y2="94.89" stroke="#175f6c" stroke-width="3.7"/>
<circle cx="477.2" cy="126.4" r="3.6" fill="#175f6c"/>
<polygon points="611,92.3 598.29,103.18 594.64,88.83" fill="#175f6c"/>
</g>
<g filter="url(#ash)">
<line x1="672.8" y1="97.2" x2="655.87" y2="113.92" stroke="#175f6c" stroke-width="3.7"/>
<circle cx="672.8" cy="97.2" r="3.6" fill="#175f6c"/>
<polygon points="648.4,121.3 653.87,105.49 664.27,116.02" fill="#175f6c"/>
</g>
<g filter="url(#ash)">
<line x1="683.3" y1="319.5" x2="642.8" y2="291.12" stroke="#175f6c" stroke-width="3.7"/>
<circle cx="683.3" cy="319.5" r="3.6" fill="#175f6c"/>
<polygon points="634.2,285.1 650.73,287.65 642.24,299.77" fill="#175f6c"/>
</g>
<g filter="url(#ash)">
<line x1="670.9" y1="602.6" x2="652.38" y2="587.69" stroke="#175f6c" stroke-width="3.7"/>
<circle cx="670.9" cy="602.6" r="3.6" fill="#175f6c"/>
<polygon points="644.2,581.1 660.52,584.74 651.24,596.27" fill="#175f6c"/>
</g>
<line x1="641.6" y1="182.8" x2="655" y2="125.6" stroke="#c9502e" stroke-width="4.5"/>
<g filter="url(#dsh)"><ellipse cx="641.8" cy="477.2" rx="14.5" ry="19.1" fill="none" stroke="#1f4e8a" stroke-width="2"/></g>
<g filter="url(#dsh)">
<path d="M409 608 Q505 616 600 608" fill="none" stroke="#333" stroke-width="3.6" stroke-dasharray="10,4,3,4"/>
<path d="M402.2 608.1 L418 602 L413 608.3 L418 615.7 Z" fill="#333"/>
<path d="M606.3 608.1 L590.5 602 L595.5 608.3 L590.5 615.7 Z" fill="#333"/>
</g>
</svg>
</body></html>
